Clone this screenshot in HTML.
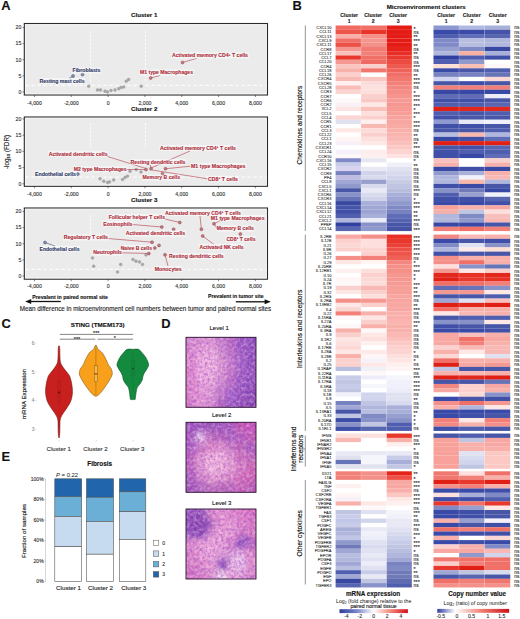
<!DOCTYPE html>
<html><head><meta charset="utf-8"><title>Figure</title>
<style>html,body{margin:0;padding:0;background:#fff;} svg{display:block;} text{font-family:"Liberation Sans", sans-serif;}</style>
</head><body>
<svg width="520" height="619" viewBox="0 0 520 619" font-family='"Liberation Sans", sans-serif'>
<rect x="0" y="0" width="520" height="619" fill="#ffffff"/>
<text x="1.20" y="10.20" font-size="12.9" font-weight="bold" text-anchor="start" fill="#111"  stroke="#111" stroke-width="0.12">A</text>
<text x="292.50" y="10.40" font-size="12.9" font-weight="bold" text-anchor="start" fill="#111"  stroke="#111" stroke-width="0.12">B</text>
<text x="1.50" y="328.40" font-size="12.9" font-weight="bold" text-anchor="start" fill="#111"  stroke="#111" stroke-width="0.12">C</text>
<text x="161.20" y="328.40" font-size="12.9" font-weight="bold" text-anchor="start" fill="#111"  stroke="#111" stroke-width="0.12">D</text>
<text x="1.50" y="461.40" font-size="12.9" font-weight="bold" text-anchor="start" fill="#111"  stroke="#111" stroke-width="0.12">E</text>
<text x="144.20" y="17.00" font-size="6.15" font-weight="bold" text-anchor="middle" fill="#111"  stroke="#111" stroke-width="0.12">Cluster 1</text>
<rect x="24.30" y="23.50" width="243.20" height="71.50" fill="#ebebeb" stroke="#2a2a2a" stroke-width="1.1"/>
<rect x="25.50" y="24.70" width="240.80" height="69.10" fill="none" stroke="#ffffff" stroke-width="0.9" opacity="0.55"/>
<line x1="25.30" y1="85.30" x2="266.50" y2="85.30" stroke="#ffffff" stroke-width="1.2" stroke-dasharray="3.5,2.5" opacity="0.8"/>
<line x1="90.60" y1="31.00" x2="90.60" y2="82.00" stroke="#ffffff" stroke-width="1.0" stroke-dasharray="2.5,1.5" opacity="0.8"/>
<line x1="145.50" y1="31.00" x2="145.50" y2="82.00" stroke="#ffffff" stroke-width="1.0" stroke-dasharray="2.5,1.5" opacity="0.8"/>
<line x1="22.50" y1="91.90" x2="24.30" y2="91.90" stroke="#333" stroke-width="0.6" />
<text x="21.30" y="93.70" font-size="5.2" font-weight="normal" text-anchor="end" fill="#333"  stroke="#333" stroke-width="0.12">0</text>
<line x1="22.50" y1="75.80" x2="24.30" y2="75.80" stroke="#333" stroke-width="0.6" />
<text x="21.30" y="77.60" font-size="5.2" font-weight="normal" text-anchor="end" fill="#333"  stroke="#333" stroke-width="0.12">5</text>
<line x1="22.50" y1="59.70" x2="24.30" y2="59.70" stroke="#333" stroke-width="0.6" />
<text x="21.30" y="61.50" font-size="5.2" font-weight="normal" text-anchor="end" fill="#333"  stroke="#333" stroke-width="0.12">10</text>
<line x1="22.50" y1="43.60" x2="24.30" y2="43.60" stroke="#333" stroke-width="0.6" />
<text x="21.30" y="45.40" font-size="5.2" font-weight="normal" text-anchor="end" fill="#333"  stroke="#333" stroke-width="0.12">15</text>
<line x1="22.50" y1="27.50" x2="24.30" y2="27.50" stroke="#333" stroke-width="0.6" />
<text x="21.30" y="29.30" font-size="5.2" font-weight="normal" text-anchor="end" fill="#333"  stroke="#333" stroke-width="0.12">20</text>
<line x1="34.46" y1="95.00" x2="34.46" y2="97.00" stroke="#333" stroke-width="0.6" />
<text x="34.46" y="104.50" font-size="5.2" font-weight="normal" text-anchor="middle" fill="#333"  stroke="#333" stroke-width="0.12">-4,000</text>
<line x1="71.28" y1="95.00" x2="71.28" y2="97.00" stroke="#333" stroke-width="0.6" />
<text x="71.28" y="104.50" font-size="5.2" font-weight="normal" text-anchor="middle" fill="#333"  stroke="#333" stroke-width="0.12">-2,000</text>
<line x1="108.10" y1="95.00" x2="108.10" y2="97.00" stroke="#333" stroke-width="0.6" />
<text x="108.10" y="104.50" font-size="5.2" font-weight="normal" text-anchor="middle" fill="#333"  stroke="#333" stroke-width="0.12">0</text>
<line x1="144.92" y1="95.00" x2="144.92" y2="97.00" stroke="#333" stroke-width="0.6" />
<text x="144.92" y="104.50" font-size="5.2" font-weight="normal" text-anchor="middle" fill="#333"  stroke="#333" stroke-width="0.12">2,000</text>
<line x1="181.74" y1="95.00" x2="181.74" y2="97.00" stroke="#333" stroke-width="0.6" />
<text x="181.74" y="104.50" font-size="5.2" font-weight="normal" text-anchor="middle" fill="#333"  stroke="#333" stroke-width="0.12">4,000</text>
<line x1="218.56" y1="95.00" x2="218.56" y2="97.00" stroke="#333" stroke-width="0.6" />
<text x="218.56" y="104.50" font-size="5.2" font-weight="normal" text-anchor="middle" fill="#333"  stroke="#333" stroke-width="0.12">6,000</text>
<line x1="255.38" y1="95.00" x2="255.38" y2="97.00" stroke="#333" stroke-width="0.6" />
<text x="255.38" y="104.50" font-size="5.2" font-weight="normal" text-anchor="middle" fill="#333"  stroke="#333" stroke-width="0.12">8,000</text>
<text x="144.20" y="111.20" font-size="6.15" font-weight="bold" text-anchor="middle" fill="#111"  stroke="#111" stroke-width="0.12">Cluster 2</text>
<rect x="24.30" y="117.00" width="243.20" height="69.30" fill="#ebebeb" stroke="#2a2a2a" stroke-width="1.1"/>
<rect x="25.50" y="118.20" width="240.80" height="66.90" fill="none" stroke="#ffffff" stroke-width="0.9" opacity="0.55"/>
<line x1="25.30" y1="177.16" x2="266.50" y2="177.16" stroke="#ffffff" stroke-width="1.2" stroke-dasharray="3.5,2.5" opacity="0.8"/>
<line x1="90.60" y1="123.00" x2="90.60" y2="148.00" stroke="#ffffff" stroke-width="1.0" stroke-dasharray="2.5,1.5" opacity="0.8"/>
<line x1="145.50" y1="123.00" x2="145.50" y2="148.00" stroke="#ffffff" stroke-width="1.0" stroke-dasharray="2.5,1.5" opacity="0.8"/>
<line x1="22.50" y1="183.80" x2="24.30" y2="183.80" stroke="#333" stroke-width="0.6" />
<text x="21.30" y="185.60" font-size="5.2" font-weight="normal" text-anchor="end" fill="#333"  stroke="#333" stroke-width="0.12">0</text>
<line x1="22.50" y1="167.60" x2="24.30" y2="167.60" stroke="#333" stroke-width="0.6" />
<text x="21.30" y="169.40" font-size="5.2" font-weight="normal" text-anchor="end" fill="#333"  stroke="#333" stroke-width="0.12">5</text>
<line x1="22.50" y1="151.40" x2="24.30" y2="151.40" stroke="#333" stroke-width="0.6" />
<text x="21.30" y="153.20" font-size="5.2" font-weight="normal" text-anchor="end" fill="#333"  stroke="#333" stroke-width="0.12">10</text>
<line x1="22.50" y1="135.20" x2="24.30" y2="135.20" stroke="#333" stroke-width="0.6" />
<text x="21.30" y="137.00" font-size="5.2" font-weight="normal" text-anchor="end" fill="#333"  stroke="#333" stroke-width="0.12">15</text>
<line x1="22.50" y1="119.00" x2="24.30" y2="119.00" stroke="#333" stroke-width="0.6" />
<text x="21.30" y="120.80" font-size="5.2" font-weight="normal" text-anchor="end" fill="#333"  stroke="#333" stroke-width="0.12">20</text>
<line x1="34.46" y1="186.30" x2="34.46" y2="188.30" stroke="#333" stroke-width="0.6" />
<text x="34.46" y="195.50" font-size="5.2" font-weight="normal" text-anchor="middle" fill="#333"  stroke="#333" stroke-width="0.12">-4,000</text>
<line x1="71.28" y1="186.30" x2="71.28" y2="188.30" stroke="#333" stroke-width="0.6" />
<text x="71.28" y="195.50" font-size="5.2" font-weight="normal" text-anchor="middle" fill="#333"  stroke="#333" stroke-width="0.12">-2,000</text>
<line x1="108.10" y1="186.30" x2="108.10" y2="188.30" stroke="#333" stroke-width="0.6" />
<text x="108.10" y="195.50" font-size="5.2" font-weight="normal" text-anchor="middle" fill="#333"  stroke="#333" stroke-width="0.12">0</text>
<line x1="144.92" y1="186.30" x2="144.92" y2="188.30" stroke="#333" stroke-width="0.6" />
<text x="144.92" y="195.50" font-size="5.2" font-weight="normal" text-anchor="middle" fill="#333"  stroke="#333" stroke-width="0.12">2,000</text>
<line x1="181.74" y1="186.30" x2="181.74" y2="188.30" stroke="#333" stroke-width="0.6" />
<text x="181.74" y="195.50" font-size="5.2" font-weight="normal" text-anchor="middle" fill="#333"  stroke="#333" stroke-width="0.12">4,000</text>
<line x1="218.56" y1="186.30" x2="218.56" y2="188.30" stroke="#333" stroke-width="0.6" />
<text x="218.56" y="195.50" font-size="5.2" font-weight="normal" text-anchor="middle" fill="#333"  stroke="#333" stroke-width="0.12">6,000</text>
<line x1="255.38" y1="186.30" x2="255.38" y2="188.30" stroke="#333" stroke-width="0.6" />
<text x="255.38" y="195.50" font-size="5.2" font-weight="normal" text-anchor="middle" fill="#333"  stroke="#333" stroke-width="0.12">8,000</text>
<text x="144.20" y="202.10" font-size="6.15" font-weight="bold" text-anchor="middle" fill="#111"  stroke="#111" stroke-width="0.12">Cluster 3</text>
<rect x="24.30" y="208.00" width="243.20" height="71.20" fill="#ebebeb" stroke="#2a2a2a" stroke-width="1.1"/>
<rect x="25.50" y="209.20" width="240.80" height="68.80" fill="none" stroke="#ffffff" stroke-width="0.9" opacity="0.55"/>
<line x1="25.30" y1="269.39" x2="266.50" y2="269.39" stroke="#ffffff" stroke-width="1.2" stroke-dasharray="3.5,2.5" opacity="0.8"/>
<line x1="90.60" y1="215.00" x2="90.60" y2="234.00" stroke="#ffffff" stroke-width="1.0" stroke-dasharray="2.5,1.5" opacity="0.8"/>
<line x1="22.50" y1="276.00" x2="24.30" y2="276.00" stroke="#333" stroke-width="0.6" />
<text x="21.30" y="277.80" font-size="5.2" font-weight="normal" text-anchor="end" fill="#333"  stroke="#333" stroke-width="0.12">0</text>
<line x1="22.50" y1="259.88" x2="24.30" y2="259.88" stroke="#333" stroke-width="0.6" />
<text x="21.30" y="261.68" font-size="5.2" font-weight="normal" text-anchor="end" fill="#333"  stroke="#333" stroke-width="0.12">5</text>
<line x1="22.50" y1="243.75" x2="24.30" y2="243.75" stroke="#333" stroke-width="0.6" />
<text x="21.30" y="245.55" font-size="5.2" font-weight="normal" text-anchor="end" fill="#333"  stroke="#333" stroke-width="0.12">10</text>
<line x1="22.50" y1="227.62" x2="24.30" y2="227.62" stroke="#333" stroke-width="0.6" />
<text x="21.30" y="229.43" font-size="5.2" font-weight="normal" text-anchor="end" fill="#333"  stroke="#333" stroke-width="0.12">15</text>
<line x1="22.50" y1="211.50" x2="24.30" y2="211.50" stroke="#333" stroke-width="0.6" />
<text x="21.30" y="213.30" font-size="5.2" font-weight="normal" text-anchor="end" fill="#333"  stroke="#333" stroke-width="0.12">20</text>
<line x1="34.46" y1="279.20" x2="34.46" y2="281.20" stroke="#333" stroke-width="0.6" />
<text x="34.46" y="287.50" font-size="5.2" font-weight="normal" text-anchor="middle" fill="#333"  stroke="#333" stroke-width="0.12">-4,000</text>
<line x1="71.28" y1="279.20" x2="71.28" y2="281.20" stroke="#333" stroke-width="0.6" />
<text x="71.28" y="287.50" font-size="5.2" font-weight="normal" text-anchor="middle" fill="#333"  stroke="#333" stroke-width="0.12">-2,000</text>
<line x1="108.10" y1="279.20" x2="108.10" y2="281.20" stroke="#333" stroke-width="0.6" />
<text x="108.10" y="287.50" font-size="5.2" font-weight="normal" text-anchor="middle" fill="#333"  stroke="#333" stroke-width="0.12">0</text>
<line x1="144.92" y1="279.20" x2="144.92" y2="281.20" stroke="#333" stroke-width="0.6" />
<text x="144.92" y="287.50" font-size="5.2" font-weight="normal" text-anchor="middle" fill="#333"  stroke="#333" stroke-width="0.12">2,000</text>
<line x1="181.74" y1="279.20" x2="181.74" y2="281.20" stroke="#333" stroke-width="0.6" />
<text x="181.74" y="287.50" font-size="5.2" font-weight="normal" text-anchor="middle" fill="#333"  stroke="#333" stroke-width="0.12">4,000</text>
<line x1="218.56" y1="279.20" x2="218.56" y2="281.20" stroke="#333" stroke-width="0.6" />
<text x="218.56" y="287.50" font-size="5.2" font-weight="normal" text-anchor="middle" fill="#333"  stroke="#333" stroke-width="0.12">6,000</text>
<line x1="255.38" y1="279.20" x2="255.38" y2="281.20" stroke="#333" stroke-width="0.6" />
<text x="255.38" y="287.50" font-size="5.2" font-weight="normal" text-anchor="middle" fill="#333"  stroke="#333" stroke-width="0.12">8,000</text>
<text transform="translate(8.6,152) rotate(-90)" font-size="6.3" text-anchor="middle" fill="#111" stroke="#111" stroke-width="0.12">-log<tspan font-size="4.2" dy="1.5">10</tspan><tspan dy="-1.5"> (FDR)</tspan></text>
<circle cx="88.70" cy="86.30" r="1.45" fill="#a9a9a9" stroke="#8c8c8c" stroke-width="0.3"/>
<circle cx="97.50" cy="90.00" r="1.45" fill="#a9a9a9" stroke="#8c8c8c" stroke-width="0.3"/>
<circle cx="100.50" cy="90.00" r="1.45" fill="#a9a9a9" stroke="#8c8c8c" stroke-width="0.3"/>
<circle cx="105.00" cy="91.20" r="1.45" fill="#a9a9a9" stroke="#8c8c8c" stroke-width="0.3"/>
<circle cx="107.50" cy="92.00" r="1.45" fill="#a9a9a9" stroke="#8c8c8c" stroke-width="0.3"/>
<circle cx="111.00" cy="90.50" r="1.45" fill="#a9a9a9" stroke="#8c8c8c" stroke-width="0.3"/>
<circle cx="115.00" cy="90.00" r="1.45" fill="#a9a9a9" stroke="#8c8c8c" stroke-width="0.3"/>
<circle cx="118.70" cy="88.70" r="1.45" fill="#a9a9a9" stroke="#8c8c8c" stroke-width="0.3"/>
<circle cx="121.20" cy="87.50" r="1.45" fill="#a9a9a9" stroke="#8c8c8c" stroke-width="0.3"/>
<circle cx="123.70" cy="87.00" r="1.45" fill="#a9a9a9" stroke="#8c8c8c" stroke-width="0.3"/>
<circle cx="126.20" cy="81.20" r="1.45" fill="#a9a9a9" stroke="#8c8c8c" stroke-width="0.3"/>
<circle cx="128.70" cy="79.50" r="1.45" fill="#a9a9a9" stroke="#8c8c8c" stroke-width="0.3"/>
<circle cx="141.20" cy="86.20" r="1.45" fill="#a9a9a9" stroke="#8c8c8c" stroke-width="0.3"/>
<line x1="68.80" y1="78.50" x2="73.00" y2="76.20" stroke="#2c3766" stroke-width="0.55" />
<line x1="150.70" y1="78.00" x2="160.00" y2="75.50" stroke="#ae2a38" stroke-width="0.55" />
<line x1="182.50" y1="62.50" x2="197.00" y2="58.20" stroke="#ae2a38" stroke-width="0.55" />
<circle cx="73.00" cy="76.00" r="1.5" fill="#8890a8" stroke="#36406c" stroke-width="0.45"/>
<circle cx="82.50" cy="74.50" r="1.5" fill="#8890a8" stroke="#36406c" stroke-width="0.45"/>
<circle cx="150.70" cy="78.00" r="1.5" fill="#b08088" stroke="#a8323e" stroke-width="0.45"/>
<circle cx="182.50" cy="62.50" r="1.5" fill="#b08088" stroke="#a8323e" stroke-width="0.45"/>
<rect x="71.70" y="67.50" width="29.60" height="6" fill="#ffffff" opacity="0.5" rx="1"/>
<text x="72.50" y="72.40" font-size="5.2" font-weight="bold" fill="#2c3766" stroke="#2c3766" stroke-width="0.1" textLength="28.00" lengthAdjust="spacingAndGlyphs">Fibroblasts</text>
<rect x="38.70" y="78.00" width="46.60" height="6" fill="#ffffff" opacity="0.5" rx="1"/>
<text x="39.50" y="82.90" font-size="5.2" font-weight="bold" fill="#2c3766" stroke="#2c3766" stroke-width="0.1" textLength="45.00" lengthAdjust="spacingAndGlyphs">Resting mast cells</text>
<rect x="139.20" y="69.50" width="54.60" height="6" fill="#ffffff" opacity="0.5" rx="1"/>
<text x="140.00" y="74.40" font-size="5.2" font-weight="bold" fill="#ae2a38" stroke="#ae2a38" stroke-width="0.1" textLength="53.00" lengthAdjust="spacingAndGlyphs">M1 type Macrophages</text>
<rect x="171.20" y="52.50" width="77.60" height="6" fill="#ffffff" opacity="0.5" rx="1"/>
<text x="172.00" y="57.40" font-size="5.2" font-weight="bold" fill="#ae2a38" stroke="#ae2a38" stroke-width="0.1" textLength="76.00" lengthAdjust="spacingAndGlyphs">Activated memory CD4<tspan font-size="3.4" dy="-1.6">+</tspan><tspan dy="1.6"> T cells</tspan></text>
<circle cx="100.00" cy="178.70" r="1.45" fill="#a9a9a9" stroke="#8c8c8c" stroke-width="0.3"/>
<circle cx="103.70" cy="181.20" r="1.45" fill="#a9a9a9" stroke="#8c8c8c" stroke-width="0.3"/>
<circle cx="107.50" cy="182.50" r="1.45" fill="#a9a9a9" stroke="#8c8c8c" stroke-width="0.3"/>
<circle cx="109.50" cy="182.00" r="1.45" fill="#a9a9a9" stroke="#8c8c8c" stroke-width="0.3"/>
<circle cx="113.70" cy="180.00" r="1.45" fill="#a9a9a9" stroke="#8c8c8c" stroke-width="0.3"/>
<circle cx="122.50" cy="179.50" r="1.45" fill="#a9a9a9" stroke="#8c8c8c" stroke-width="0.3"/>
<circle cx="125.00" cy="177.50" r="1.45" fill="#a9a9a9" stroke="#8c8c8c" stroke-width="0.3"/>
<circle cx="127.50" cy="176.20" r="1.45" fill="#a9a9a9" stroke="#8c8c8c" stroke-width="0.3"/>
<circle cx="130.00" cy="171.20" r="1.45" fill="#a9a9a9" stroke="#8c8c8c" stroke-width="0.3"/>
<circle cx="136.20" cy="169.50" r="1.45" fill="#a9a9a9" stroke="#8c8c8c" stroke-width="0.3"/>
<circle cx="141.00" cy="172.00" r="1.45" fill="#a9a9a9" stroke="#8c8c8c" stroke-width="0.3"/>
<line x1="107.50" y1="156.50" x2="146.00" y2="168.50" stroke="#ae2a38" stroke-width="0.55" />
<line x1="190.00" y1="151.00" x2="151.00" y2="168.00" stroke="#ae2a38" stroke-width="0.55" />
<line x1="190.50" y1="166.20" x2="166.00" y2="168.70" stroke="#ae2a38" stroke-width="0.55" />
<line x1="207.50" y1="178.80" x2="152.00" y2="170.00" stroke="#ae2a38" stroke-width="0.55" />
<line x1="126.80" y1="169.50" x2="146.00" y2="169.50" stroke="#ae2a38" stroke-width="0.55" />
<line x1="150.00" y1="164.50" x2="151.00" y2="167.50" stroke="#ae2a38" stroke-width="0.55" />
<line x1="162.50" y1="173.70" x2="165.00" y2="176.00" stroke="#ae2a38" stroke-width="0.55" />
<circle cx="146.00" cy="169.50" r="1.5" fill="#b08088" stroke="#a8323e" stroke-width="0.45"/>
<circle cx="151.00" cy="168.70" r="1.5" fill="#b08088" stroke="#a8323e" stroke-width="0.45"/>
<circle cx="165.50" cy="168.70" r="1.5" fill="#b08088" stroke="#a8323e" stroke-width="0.45"/>
<circle cx="162.50" cy="173.70" r="1.5" fill="#b08088" stroke="#a8323e" stroke-width="0.45"/>
<circle cx="77.80" cy="174.00" r="1.5" fill="#8890a8" stroke="#36406c" stroke-width="0.45"/>
<rect x="47.90" y="150.70" width="60.40" height="6" fill="#ffffff" opacity="0.5" rx="1"/>
<text x="48.70" y="155.60" font-size="5.2" font-weight="bold" fill="#ae2a38" stroke="#ae2a38" stroke-width="0.1" textLength="58.80" lengthAdjust="spacingAndGlyphs">Activated dendritic cells</text>
<rect x="72.90" y="166.20" width="54.60" height="6" fill="#ffffff" opacity="0.5" rx="1"/>
<text x="73.70" y="171.10" font-size="5.2" font-weight="bold" fill="#ae2a38" stroke="#ae2a38" stroke-width="0.1" textLength="53.00" lengthAdjust="spacingAndGlyphs">M2 type Macrophages</text>
<rect x="34.20" y="170.70" width="42.60" height="6" fill="#ffffff" opacity="0.5" rx="1"/>
<text x="35.00" y="175.60" font-size="5.2" font-weight="bold" fill="#2c3766" stroke="#2c3766" stroke-width="0.1" textLength="41.00" lengthAdjust="spacingAndGlyphs">Endothelial cells</text>
<rect x="159.20" y="145.00" width="77.60" height="6" fill="#ffffff" opacity="0.5" rx="1"/>
<text x="160.00" y="149.90" font-size="5.2" font-weight="bold" fill="#ae2a38" stroke="#ae2a38" stroke-width="0.1" textLength="76.00" lengthAdjust="spacingAndGlyphs">Activated memory CD4<tspan font-size="3.4" dy="-1.6">+</tspan><tspan dy="1.6"> T cells</tspan></text>
<rect x="129.70" y="159.00" width="56.60" height="6" fill="#ffffff" opacity="0.5" rx="1"/>
<text x="130.50" y="163.90" font-size="5.2" font-weight="bold" fill="#ae2a38" stroke="#ae2a38" stroke-width="0.1" textLength="55.00" lengthAdjust="spacingAndGlyphs">Resting dendritic cells</text>
<rect x="190.20" y="163.00" width="56.10" height="6" fill="#ffffff" opacity="0.5" rx="1"/>
<text x="191.00" y="167.90" font-size="5.2" font-weight="bold" fill="#ae2a38" stroke="#ae2a38" stroke-width="0.1" textLength="54.50" lengthAdjust="spacingAndGlyphs">M1 type Macrophages</text>
<rect x="141.70" y="174.50" width="39.10" height="6" fill="#ffffff" opacity="0.5" rx="1"/>
<text x="142.50" y="179.40" font-size="5.2" font-weight="bold" fill="#ae2a38" stroke="#ae2a38" stroke-width="0.1" textLength="37.50" lengthAdjust="spacingAndGlyphs">Memory B cells</text>
<rect x="207.20" y="175.70" width="31.60" height="6" fill="#ffffff" opacity="0.5" rx="1"/>
<text x="208.00" y="180.60" font-size="5.2" font-weight="bold" fill="#ae2a38" stroke="#ae2a38" stroke-width="0.1" textLength="30.00" lengthAdjust="spacingAndGlyphs">CD8<tspan font-size="3.4" dy="-1.6">+</tspan><tspan dy="1.6"> T cells</tspan></text>
<circle cx="92.50" cy="258.00" r="1.45" fill="#a9a9a9" stroke="#8c8c8c" stroke-width="0.3"/>
<circle cx="93.70" cy="266.20" r="1.45" fill="#a9a9a9" stroke="#8c8c8c" stroke-width="0.3"/>
<circle cx="120.70" cy="264.50" r="1.45" fill="#a9a9a9" stroke="#8c8c8c" stroke-width="0.3"/>
<circle cx="117.50" cy="272.00" r="1.45" fill="#a9a9a9" stroke="#8c8c8c" stroke-width="0.3"/>
<circle cx="133.00" cy="259.50" r="1.45" fill="#a9a9a9" stroke="#8c8c8c" stroke-width="0.3"/>
<circle cx="136.00" cy="261.20" r="1.45" fill="#a9a9a9" stroke="#8c8c8c" stroke-width="0.3"/>
<circle cx="139.50" cy="262.00" r="1.45" fill="#a9a9a9" stroke="#8c8c8c" stroke-width="0.3"/>
<circle cx="142.50" cy="264.50" r="1.45" fill="#a9a9a9" stroke="#8c8c8c" stroke-width="0.3"/>
<circle cx="146.00" cy="255.00" r="1.45" fill="#a9a9a9" stroke="#8c8c8c" stroke-width="0.3"/>
<line x1="45.00" y1="242.50" x2="55.00" y2="246.00" stroke="#2c3766" stroke-width="0.55" />
<line x1="165.00" y1="219.00" x2="179.80" y2="222.50" stroke="#ae2a38" stroke-width="0.55" />
<line x1="132.50" y1="224.50" x2="161.80" y2="227.00" stroke="#ae2a38" stroke-width="0.55" />
<line x1="108.00" y1="238.50" x2="152.00" y2="242.20" stroke="#ae2a38" stroke-width="0.55" />
<line x1="122.00" y1="252.80" x2="148.80" y2="253.50" stroke="#ae2a38" stroke-width="0.55" />
<line x1="202.70" y1="236.00" x2="214.00" y2="244.50" stroke="#ae2a38" stroke-width="0.55" />
<line x1="165.00" y1="254.80" x2="168.00" y2="266.00" stroke="#ae2a38" stroke-width="0.55" />
<line x1="201.40" y1="229.20" x2="200.00" y2="216.00" stroke="#ae2a38" stroke-width="0.55" />
<line x1="214.00" y1="223.80" x2="222.00" y2="219.50" stroke="#ae2a38" stroke-width="0.55" />
<line x1="240.40" y1="234.00" x2="240.00" y2="237.00" stroke="#ae2a38" stroke-width="0.55" />
<line x1="214.00" y1="223.80" x2="217.00" y2="228.40" stroke="#ae2a38" stroke-width="0.55" />
<circle cx="179.80" cy="222.50" r="1.5" fill="#b08088" stroke="#a8323e" stroke-width="0.45"/>
<circle cx="161.80" cy="227.00" r="1.5" fill="#b08088" stroke="#a8323e" stroke-width="0.45"/>
<circle cx="173.60" cy="229.20" r="1.5" fill="#b08088" stroke="#a8323e" stroke-width="0.45"/>
<circle cx="201.40" cy="229.20" r="1.5" fill="#b08088" stroke="#a8323e" stroke-width="0.45"/>
<circle cx="214.00" cy="223.80" r="1.5" fill="#b08088" stroke="#a8323e" stroke-width="0.45"/>
<circle cx="202.70" cy="236.00" r="1.5" fill="#b08088" stroke="#a8323e" stroke-width="0.45"/>
<circle cx="240.40" cy="234.00" r="1.5" fill="#b08088" stroke="#a8323e" stroke-width="0.45"/>
<circle cx="152.00" cy="242.20" r="1.5" fill="#b08088" stroke="#a8323e" stroke-width="0.45"/>
<circle cx="159.00" cy="245.40" r="1.5" fill="#b08088" stroke="#a8323e" stroke-width="0.45"/>
<circle cx="154.80" cy="248.00" r="1.5" fill="#b08088" stroke="#a8323e" stroke-width="0.45"/>
<circle cx="165.00" cy="254.80" r="1.5" fill="#b08088" stroke="#a8323e" stroke-width="0.45"/>
<circle cx="148.80" cy="253.50" r="1.5" fill="#b08088" stroke="#a8323e" stroke-width="0.45"/>
<circle cx="45.00" cy="242.50" r="1.5" fill="#8890a8" stroke="#36406c" stroke-width="0.45"/>
<rect x="164.20" y="210.00" width="77.60" height="6" fill="#ffffff" opacity="0.5" rx="1"/>
<text x="165.00" y="214.90" font-size="5.2" font-weight="bold" fill="#ae2a38" stroke="#ae2a38" stroke-width="0.1" textLength="76.00" lengthAdjust="spacingAndGlyphs">Activated memory CD4<tspan font-size="3.4" dy="-1.6">+</tspan><tspan dy="1.6"> T cells</tspan></text>
<rect x="210.00" y="214.70" width="55.40" height="6" fill="#ffffff" opacity="0.5" rx="1"/>
<text x="210.80" y="219.60" font-size="5.2" font-weight="bold" fill="#ae2a38" stroke="#ae2a38" stroke-width="0.1" textLength="53.80" lengthAdjust="spacingAndGlyphs">M1 type Macrophages</text>
<rect x="107.90" y="214.00" width="57.90" height="6" fill="#ffffff" opacity="0.5" rx="1"/>
<text x="108.70" y="218.90" font-size="5.2" font-weight="bold" fill="#ae2a38" stroke="#ae2a38" stroke-width="0.1" textLength="56.30" lengthAdjust="spacingAndGlyphs">Follicular helper T cells</text>
<rect x="102.40" y="220.70" width="30.90" height="6" fill="#ffffff" opacity="0.5" rx="1"/>
<text x="103.20" y="225.60" font-size="5.2" font-weight="bold" fill="#ae2a38" stroke="#ae2a38" stroke-width="0.1" textLength="29.30" lengthAdjust="spacingAndGlyphs">Eosinophils</text>
<rect x="215.90" y="225.40" width="38.80" height="6" fill="#ffffff" opacity="0.5" rx="1"/>
<text x="216.70" y="230.30" font-size="5.2" font-weight="bold" fill="#ae2a38" stroke="#ae2a38" stroke-width="0.1" textLength="37.20" lengthAdjust="spacingAndGlyphs">Memory B cells</text>
<rect x="124.90" y="230.50" width="61.10" height="6" fill="#ffffff" opacity="0.5" rx="1"/>
<text x="125.70" y="235.40" font-size="5.2" font-weight="bold" fill="#ae2a38" stroke="#ae2a38" stroke-width="0.1" textLength="59.50" lengthAdjust="spacingAndGlyphs">Activated dendritic cells</text>
<rect x="62.90" y="234.50" width="45.90" height="6" fill="#ffffff" opacity="0.5" rx="1"/>
<text x="63.70" y="239.40" font-size="5.2" font-weight="bold" fill="#ae2a38" stroke="#ae2a38" stroke-width="0.1" textLength="44.30" lengthAdjust="spacingAndGlyphs">Regulatory T cells</text>
<rect x="225.60" y="235.70" width="30.70" height="6" fill="#ffffff" opacity="0.5" rx="1"/>
<text x="226.40" y="240.60" font-size="5.2" font-weight="bold" fill="#ae2a38" stroke="#ae2a38" stroke-width="0.1" textLength="29.10" lengthAdjust="spacingAndGlyphs">CD8<tspan font-size="3.4" dy="-1.6">+</tspan><tspan dy="1.6"> T cells</tspan></text>
<rect x="38.70" y="245.70" width="41.60" height="6" fill="#ffffff" opacity="0.5" rx="1"/>
<text x="39.50" y="250.60" font-size="5.2" font-weight="bold" fill="#2c3766" stroke="#2c3766" stroke-width="0.1" textLength="40.00" lengthAdjust="spacingAndGlyphs">Endothelial cells</text>
<rect x="198.70" y="243.70" width="45.70" height="6" fill="#ffffff" opacity="0.5" rx="1"/>
<text x="199.50" y="248.60" font-size="5.2" font-weight="bold" fill="#ae2a38" stroke="#ae2a38" stroke-width="0.1" textLength="44.10" lengthAdjust="spacingAndGlyphs">Activated NK cells</text>
<rect x="119.90" y="245.00" width="32.90" height="6" fill="#ffffff" opacity="0.5" rx="1"/>
<text x="120.70" y="249.90" font-size="5.2" font-weight="bold" fill="#ae2a38" stroke="#ae2a38" stroke-width="0.1" textLength="31.30" lengthAdjust="spacingAndGlyphs">Naive B cells</text>
<rect x="92.40" y="249.50" width="30.40" height="6" fill="#ffffff" opacity="0.5" rx="1"/>
<text x="93.20" y="254.40" font-size="5.2" font-weight="bold" fill="#ae2a38" stroke="#ae2a38" stroke-width="0.1" textLength="28.80" lengthAdjust="spacingAndGlyphs">Neutrophils</text>
<rect x="168.20" y="253.20" width="56.30" height="6" fill="#ffffff" opacity="0.5" rx="1"/>
<text x="169.00" y="258.10" font-size="5.2" font-weight="bold" fill="#ae2a38" stroke="#ae2a38" stroke-width="0.1" textLength="54.70" lengthAdjust="spacingAndGlyphs">Resting dendritic cells</text>
<rect x="154.00" y="266.00" width="28.50" height="6" fill="#ffffff" opacity="0.5" rx="1"/>
<text x="154.80" y="270.90" font-size="5.2" font-weight="bold" fill="#ae2a38" stroke="#ae2a38" stroke-width="0.1" textLength="26.90" lengthAdjust="spacingAndGlyphs">Monocytes</text>
<text x="32.30" y="298.60" font-size="5.2" font-weight="bold" text-anchor="start" fill="#111" textLength="75.6" lengthAdjust="spacingAndGlyphs" stroke="#111" stroke-width="0.12">Prevalent in paired normal site</text>
<line x1="30.00" y1="301.50" x2="60.80" y2="301.50" stroke="#111" stroke-width="1.3" />
<path d="M25.2,301.5 L31.2,299.0 L31.2,304.0 Z" fill="#111"/>
<text x="208.00" y="298.40" font-size="5.3" font-weight="bold" text-anchor="start" fill="#111" textLength="55.5" lengthAdjust="spacingAndGlyphs" stroke="#111" stroke-width="0.12">Prevalent in tumor site</text>
<line x1="235.80" y1="301.80" x2="265.50" y2="301.80" stroke="#111" stroke-width="1.3" />
<path d="M270.8,301.8 L264.6,299.3 L264.6,304.3 Z" fill="#111"/>
<text x="19.80" y="310.50" font-size="6.28" font-weight="normal" text-anchor="start" fill="#222" textLength="251.4" lengthAdjust="spacingAndGlyphs" stroke="#222" stroke-width="0.12">Mean difference in microenvironment cell numbers between tumor and paired normal sites</text>
<text x="97.70" y="327.00" font-size="6.25" font-weight="bold" text-anchor="middle" fill="#111"  stroke="#111" stroke-width="0.12">STING (TMEM173)</text>
<line x1="59.80" y1="334.40" x2="133.10" y2="334.40" stroke="#333" stroke-width="0.6" />
<line x1="59.80" y1="339.20" x2="95.40" y2="339.20" stroke="#333" stroke-width="0.6" />
<line x1="97.50" y1="339.20" x2="133.10" y2="339.20" stroke="#333" stroke-width="0.6" />
<text x="96.20" y="335.30" font-size="5.4" font-weight="normal" text-anchor="middle" fill="#222"  stroke="#222" stroke-width="0.12">***</text>
<text x="77.00" y="341.00" font-size="5.4" font-weight="normal" text-anchor="middle" fill="#222"  stroke="#222" stroke-width="0.12">***</text>
<text x="114.80" y="339.80" font-size="5.4" font-weight="normal" text-anchor="middle" fill="#222"  stroke="#222" stroke-width="0.12">*</text>
<text x="34.50" y="344.90" font-size="4.8" font-weight="normal" text-anchor="end" fill="#888"  stroke="#888" stroke-width="0.08">6</text>
<line x1="35.20" y1="343.20" x2="36.50" y2="343.20" stroke="#bbb" stroke-width="0.5" />
<text x="34.50" y="373.50" font-size="4.8" font-weight="normal" text-anchor="end" fill="#888"  stroke="#888" stroke-width="0.08">5</text>
<line x1="35.20" y1="371.80" x2="36.50" y2="371.80" stroke="#bbb" stroke-width="0.5" />
<text x="34.50" y="402.20" font-size="4.8" font-weight="normal" text-anchor="end" fill="#888"  stroke="#888" stroke-width="0.08">4</text>
<line x1="35.20" y1="400.50" x2="36.50" y2="400.50" stroke="#bbb" stroke-width="0.5" />
<text x="34.50" y="430.90" font-size="4.8" font-weight="normal" text-anchor="end" fill="#888"  stroke="#888" stroke-width="0.08">3</text>
<line x1="35.20" y1="429.20" x2="36.50" y2="429.20" stroke="#bbb" stroke-width="0.5" />
<text transform="translate(26.3,394) rotate(-90)" font-size="6.2" text-anchor="middle" fill="#111" stroke="#111" stroke-width="0.15">mRNA Expression</text>
<path d="M59.50,346.00 C59.55,346.67 59.73,348.33 59.80,350.00 C59.87,351.67 59.82,354.08 59.90,356.00 C59.98,357.92 60.02,360.00 60.30,361.50 C60.58,363.00 60.93,363.75 61.60,365.00 C62.27,366.25 63.32,367.67 64.30,369.00 C65.28,370.33 66.55,371.67 67.50,373.00 C68.45,374.33 69.27,375.00 70.00,377.00 C70.73,379.00 71.50,382.33 71.90,385.00 C72.30,387.67 72.58,390.33 72.40,393.00 C72.22,395.67 71.70,398.55 70.80,401.00 C69.90,403.45 68.35,405.53 67.00,407.70 C65.65,409.87 63.82,412.12 62.70,414.00 C61.58,415.88 60.77,417.17 60.30,419.00 C59.83,420.83 59.98,422.83 59.90,425.00 C59.82,427.17 59.88,429.90 59.80,432.00 C59.72,434.10 59.47,436.67 59.40,437.60 L58.60,437.60 C58.53,436.67 58.28,434.10 58.20,432.00 C58.12,429.90 58.18,427.17 58.10,425.00 C58.02,422.83 58.17,420.83 57.70,419.00 C57.23,417.17 56.42,415.88 55.30,414.00 C54.18,412.12 52.35,409.87 51.00,407.70 C49.65,405.53 48.10,403.45 47.20,401.00 C46.30,398.55 45.78,395.67 45.60,393.00 C45.42,390.33 45.70,387.67 46.10,385.00 C46.50,382.33 47.27,379.00 48.00,377.00 C48.73,375.00 49.55,374.33 50.50,373.00 C51.45,371.67 52.72,370.33 53.70,369.00 C54.68,367.67 55.73,366.25 56.40,365.00 C57.07,363.75 57.42,363.00 57.70,361.50 C57.98,360.00 58.02,357.92 58.10,356.00 C58.18,354.08 58.13,351.67 58.20,350.00 C58.27,348.33 58.45,346.67 58.50,346.00 Z" fill="#c8201e" stroke="#7a1414" stroke-width="0.6"/>
<path d="M96.30,345.30 C96.42,345.58 96.65,346.27 97.00,347.00 C97.35,347.73 97.55,348.77 98.40,349.70 C99.25,350.63 100.83,350.98 102.10,352.60 C103.37,354.22 104.92,357.30 106.00,359.40 C107.08,361.50 107.72,363.60 108.60,365.20 C109.48,366.80 110.68,367.55 111.30,369.00 C111.92,370.45 112.47,372.28 112.30,373.90 C112.13,375.52 111.12,377.08 110.30,378.70 C109.48,380.32 108.45,381.98 107.40,383.60 C106.35,385.22 105.20,386.80 104.00,388.40 C102.80,390.00 101.27,392.02 100.20,393.20 C99.13,394.38 98.25,395.00 97.60,395.50 C96.95,396.00 96.52,396.08 96.30,396.20 L95.30,396.20 C95.08,396.08 94.65,396.00 94.00,395.50 C93.35,395.00 92.47,394.38 91.40,393.20 C90.33,392.02 88.80,390.00 87.60,388.40 C86.40,386.80 85.25,385.22 84.20,383.60 C83.15,381.98 82.12,380.32 81.30,378.70 C80.48,377.08 79.47,375.52 79.30,373.90 C79.13,372.28 79.68,370.45 80.30,369.00 C80.92,367.55 82.12,366.80 83.00,365.20 C83.88,363.60 84.52,361.50 85.60,359.40 C86.68,357.30 88.23,354.22 89.50,352.60 C90.77,350.98 92.35,350.63 93.20,349.70 C94.05,348.77 94.25,347.73 94.60,347.00 C94.95,346.27 95.18,345.58 95.30,345.30 Z" fill="#f8a01c" stroke="#8a5a10" stroke-width="0.6"/>
<path d="M133.30,349.30 C134.18,349.32 137.15,348.83 138.60,349.40 C140.05,349.97 140.80,351.35 142.00,352.70 C143.20,354.05 144.70,355.57 145.80,357.50 C146.90,359.43 148.35,362.52 148.60,364.30 C148.85,366.08 147.92,366.92 147.30,368.20 C146.68,369.48 145.62,370.72 144.90,372.00 C144.18,373.28 143.43,374.60 143.00,375.90 C142.57,377.20 142.78,378.50 142.30,379.80 C141.82,381.10 140.95,382.42 140.10,383.70 C139.25,384.98 137.88,385.90 137.20,387.50 C136.52,389.10 136.30,391.52 136.00,393.30 C135.70,395.08 135.57,397.17 135.40,398.20 C135.23,399.23 135.35,399.27 135.00,399.50 C134.65,399.73 133.58,399.58 133.30,399.60 L132.30,399.60 C132.02,399.58 130.95,399.73 130.60,399.50 C130.25,399.27 130.37,399.23 130.20,398.20 C130.03,397.17 129.90,395.08 129.60,393.30 C129.30,391.52 129.08,389.10 128.40,387.50 C127.72,385.90 126.35,384.98 125.50,383.70 C124.65,382.42 123.78,381.10 123.30,379.80 C122.82,378.50 123.03,377.20 122.60,375.90 C122.17,374.60 121.42,373.28 120.70,372.00 C119.98,370.72 118.92,369.48 118.30,368.20 C117.68,366.92 116.75,366.08 117.00,364.30 C117.25,362.52 118.70,359.43 119.80,357.50 C120.90,355.57 122.40,354.05 123.60,352.70 C124.80,351.35 125.55,349.97 127.00,349.40 C128.45,348.83 131.42,349.32 132.30,349.30 Z" fill="#138a3e" stroke="#0a5226" stroke-width="0.6"/>
<line x1="59.00" y1="357.00" x2="59.00" y2="428.00" stroke="#7a1515" stroke-width="0.35" opacity="0.5"/>
<rect x="57.6" y="381" width="2.8" height="21" fill="none" stroke="#7a1515" stroke-width="0.35" opacity="0.5"/>
<circle cx="59" cy="392.5" r="0.9" fill="#5a0a0a"/>
<line x1="95.90" y1="347.50" x2="95.90" y2="395.00" stroke="#8a5a08" stroke-width="0.45" />
<rect x="94.4" y="365.7" width="3.1" height="15.9" fill="#f8b848" stroke="#8a5a08" stroke-width="0.45"/>
<line x1="94.40" y1="373.90" x2="97.50" y2="373.90" stroke="#7a2a05" stroke-width="1.0" />
<line x1="133.10" y1="352.00" x2="133.10" y2="392.00" stroke="#0a4a20" stroke-width="0.35" opacity="0.45"/>
<rect x="131.8" y="360" width="2.6" height="16" fill="none" stroke="#0a4a20" stroke-width="0.35" opacity="0.45"/>
<circle cx="133.1" cy="368.5" r="0.8" fill="#0a3a18"/>
<line x1="59.00" y1="440.00" x2="59.00" y2="441.50" stroke="#bbb" stroke-width="0.5" />
<line x1="96.20" y1="440.00" x2="96.20" y2="441.50" stroke="#bbb" stroke-width="0.5" />
<line x1="133.10" y1="440.00" x2="133.10" y2="441.50" stroke="#bbb" stroke-width="0.5" />
<text x="58.80" y="451.20" font-size="6.1" font-weight="normal" text-anchor="middle" fill="#333"  stroke="#333" stroke-width="0.12">Cluster 1</text>
<text x="95.50" y="451.20" font-size="6.1" font-weight="normal" text-anchor="middle" fill="#333"  stroke="#333" stroke-width="0.12">Cluster 2</text>
<text x="132.30" y="451.20" font-size="6.1" font-weight="normal" text-anchor="middle" fill="#333"  stroke="#333" stroke-width="0.12">Cluster 3</text>
<text x="219.20" y="330.20" font-size="6.0" font-weight="normal" text-anchor="middle" fill="#111" stroke="#111" stroke-width="0.12">Level 1</text>
<text x="221.60" y="416.50" font-size="6.0" font-weight="normal" text-anchor="middle" fill="#111" stroke="#111" stroke-width="0.12">Level 2</text>
<text x="221.80" y="504.90" font-size="6.0" font-weight="normal" text-anchor="middle" fill="#111" stroke="#111" stroke-width="0.12">Level 3</text>
<defs><filter id="hb" x="-20%" y="-20%" width="140%" height="140%"><feGaussianBlur stdDeviation="2.3"/></filter><filter id="tx1" x="0" y="0" width="100%" height="100%"><feTurbulence type="fractalNoise" baseFrequency="0.38" numOctaves="3" seed="4"/><feColorMatrix type="matrix" values="0 0 0 0 0.42  0 0 0 0 0.10  0 0 0 0 0.55  2.0 0 0 0 -0.72"/></filter><filter id="tx2" x="0" y="0" width="100%" height="100%"><feTurbulence type="fractalNoise" baseFrequency="0.32" numOctaves="3" seed="11"/><feColorMatrix type="matrix" values="0 0 0 0 1  0 0 0 0 0.84  0 0 0 0 0.96  1.9 0 0 0 -0.72"/></filter></defs>
<clipPath id="hc1"><rect x="186.0" y="337.3" width="70.0" height="70"/></clipPath>
<g clip-path="url(#hc1)">
<rect x="186.0" y="337.3" width="70" height="70" fill="#d8a0dc"/>
<g filter="url(#hb)">
<rect x="178.00" y="329.30" width="18.50" height="18.50" fill="#d88cce"/>
<rect x="196.00" y="329.30" width="10.50" height="18.50" fill="#e094d2"/>
<rect x="206.00" y="329.30" width="10.50" height="18.50" fill="#e09cd6"/>
<rect x="216.00" y="329.30" width="10.50" height="18.50" fill="#c884ca"/>
<rect x="226.00" y="329.30" width="10.50" height="18.50" fill="#b064be"/>
<rect x="236.00" y="329.30" width="10.50" height="18.50" fill="#9050c0"/>
<rect x="246.00" y="329.30" width="18.50" height="18.50" fill="#8446b8"/>
<rect x="178.00" y="347.30" width="18.50" height="10.50" fill="#e08cce"/>
<rect x="196.00" y="347.30" width="10.50" height="10.50" fill="#eca4da"/>
<rect x="206.00" y="347.30" width="10.50" height="10.50" fill="#ecacda"/>
<rect x="216.00" y="347.30" width="10.50" height="10.50" fill="#d490ce"/>
<rect x="226.00" y="347.30" width="10.50" height="10.50" fill="#b86cc2"/>
<rect x="236.00" y="347.30" width="10.50" height="10.50" fill="#9454c0"/>
<rect x="246.00" y="347.30" width="18.50" height="10.50" fill="#8446b8"/>
<rect x="178.00" y="357.30" width="18.50" height="10.50" fill="#e48cce"/>
<rect x="196.00" y="357.30" width="10.50" height="10.50" fill="#f0b0de"/>
<rect x="206.00" y="357.30" width="10.50" height="10.50" fill="#f4b8e2"/>
<rect x="216.00" y="357.30" width="10.50" height="10.50" fill="#e09cd2"/>
<rect x="226.00" y="357.30" width="10.50" height="10.50" fill="#c074c6"/>
<rect x="236.00" y="357.30" width="10.50" height="10.50" fill="#9858c4"/>
<rect x="246.00" y="357.30" width="18.50" height="10.50" fill="#8446b8"/>
<rect x="178.00" y="367.30" width="18.50" height="10.50" fill="#e084ca"/>
<rect x="196.00" y="367.30" width="10.50" height="10.50" fill="#f0acde"/>
<rect x="206.00" y="367.30" width="10.50" height="10.50" fill="#f4b8e2"/>
<rect x="216.00" y="367.30" width="10.50" height="10.50" fill="#e09cd2"/>
<rect x="226.00" y="367.30" width="10.50" height="10.50" fill="#c074c6"/>
<rect x="236.00" y="367.30" width="10.50" height="10.50" fill="#9454c0"/>
<rect x="246.00" y="367.30" width="18.50" height="10.50" fill="#8848b8"/>
<rect x="178.00" y="377.30" width="18.50" height="10.50" fill="#e084ca"/>
<rect x="196.00" y="377.30" width="10.50" height="10.50" fill="#eca4da"/>
<rect x="206.00" y="377.30" width="10.50" height="10.50" fill="#ecacda"/>
<rect x="216.00" y="377.30" width="10.50" height="10.50" fill="#d08cce"/>
<rect x="226.00" y="377.30" width="10.50" height="10.50" fill="#b064be"/>
<rect x="236.00" y="377.30" width="10.50" height="10.50" fill="#9050c0"/>
<rect x="246.00" y="377.30" width="18.50" height="10.50" fill="#8446b8"/>
<rect x="178.00" y="387.30" width="18.50" height="10.50" fill="#e084ca"/>
<rect x="196.00" y="387.30" width="10.50" height="10.50" fill="#e89cd6"/>
<rect x="206.00" y="387.30" width="10.50" height="10.50" fill="#e09cd2"/>
<rect x="216.00" y="387.30" width="10.50" height="10.50" fill="#c074c6"/>
<rect x="226.00" y="387.30" width="10.50" height="10.50" fill="#9c5cc8"/>
<rect x="236.00" y="387.30" width="10.50" height="10.50" fill="#8a4ab8"/>
<rect x="246.00" y="387.30" width="18.50" height="10.50" fill="#8040b0"/>
<rect x="178.00" y="397.30" width="18.50" height="18.50" fill="#d87cc6"/>
<rect x="196.00" y="397.30" width="10.50" height="18.50" fill="#e494d2"/>
<rect x="206.00" y="397.30" width="10.50" height="18.50" fill="#d88cce"/>
<rect x="216.00" y="397.30" width="10.50" height="18.50" fill="#b064be"/>
<rect x="226.00" y="397.30" width="10.50" height="18.50" fill="#9050c0"/>
<rect x="236.00" y="397.30" width="10.50" height="18.50" fill="#8848b8"/>
<rect x="246.00" y="397.30" width="18.50" height="18.50" fill="#7c3cac"/>
</g>
<rect x="186.0" y="337.3" width="70" height="70" filter="url(#tx1)" opacity="0.85"/>
<rect x="186.0" y="337.3" width="70" height="70" filter="url(#tx2)" opacity="0.45"/>
</g>
<rect x="186.0" y="337.3" width="70" height="70" fill="none" stroke="#2a1030" stroke-width="0.9"/>
<clipPath id="hc2"><rect x="186.0" y="422.3" width="70.0" height="70"/></clipPath>
<g clip-path="url(#hc2)">
<rect x="186.0" y="422.3" width="70" height="70" fill="#ecbce6"/>
<g filter="url(#hb)">
<rect x="178.00" y="414.30" width="18.50" height="18.50" fill="#9448b8"/>
<rect x="196.00" y="414.30" width="10.50" height="18.50" fill="#9850b8"/>
<rect x="206.00" y="414.30" width="10.50" height="18.50" fill="#9048b0"/>
<rect x="216.00" y="414.30" width="10.50" height="18.50" fill="#9850b8"/>
<rect x="226.00" y="414.30" width="10.50" height="18.50" fill="#a050b8"/>
<rect x="236.00" y="414.30" width="10.50" height="18.50" fill="#c048a8"/>
<rect x="246.00" y="414.30" width="18.50" height="18.50" fill="#c84ab0"/>
<rect x="178.00" y="432.30" width="18.50" height="10.50" fill="#a050b8"/>
<rect x="196.00" y="432.30" width="10.50" height="10.50" fill="#e8bce6"/>
<rect x="206.00" y="432.30" width="10.50" height="10.50" fill="#b864b6"/>
<rect x="216.00" y="432.30" width="10.50" height="10.50" fill="#b05cb6"/>
<rect x="226.00" y="432.30" width="10.50" height="10.50" fill="#a458bc"/>
<rect x="236.00" y="432.30" width="10.50" height="10.50" fill="#b058b8"/>
<rect x="246.00" y="432.30" width="18.50" height="10.50" fill="#c054ae"/>
<rect x="178.00" y="442.30" width="18.50" height="10.50" fill="#a858c0"/>
<rect x="196.00" y="442.30" width="10.50" height="10.50" fill="#c874be"/>
<rect x="206.00" y="442.30" width="10.50" height="10.50" fill="#e08cc6"/>
<rect x="216.00" y="442.30" width="10.50" height="10.50" fill="#e08cc6"/>
<rect x="226.00" y="442.30" width="10.50" height="10.50" fill="#c874be"/>
<rect x="236.00" y="442.30" width="10.50" height="10.50" fill="#b85cae"/>
<rect x="246.00" y="442.30" width="18.50" height="10.50" fill="#a858b8"/>
<rect x="178.00" y="452.30" width="18.50" height="10.50" fill="#b85cb6"/>
<rect x="196.00" y="452.30" width="10.50" height="10.50" fill="#e094ce"/>
<rect x="206.00" y="452.30" width="10.50" height="10.50" fill="#f2b4da"/>
<rect x="216.00" y="452.30" width="10.50" height="10.50" fill="#f4b8dc"/>
<rect x="226.00" y="452.30" width="10.50" height="10.50" fill="#e498ce"/>
<rect x="236.00" y="452.30" width="10.50" height="10.50" fill="#c86cb6"/>
<rect x="246.00" y="452.30" width="18.50" height="10.50" fill="#c064b6"/>
<rect x="178.00" y="462.30" width="18.50" height="10.50" fill="#b85cb6"/>
<rect x="196.00" y="462.30" width="10.50" height="10.50" fill="#e49cd2"/>
<rect x="206.00" y="462.30" width="10.50" height="10.50" fill="#f7c0e0"/>
<rect x="216.00" y="462.30" width="10.50" height="10.50" fill="#f4b8dc"/>
<rect x="226.00" y="462.30" width="10.50" height="10.50" fill="#e49cce"/>
<rect x="236.00" y="462.30" width="10.50" height="10.50" fill="#d87cbe"/>
<rect x="246.00" y="462.30" width="18.50" height="10.50" fill="#d064ae"/>
<rect x="178.00" y="472.30" width="18.50" height="10.50" fill="#a858b8"/>
<rect x="196.00" y="472.30" width="10.50" height="10.50" fill="#d07cc2"/>
<rect x="206.00" y="472.30" width="10.50" height="10.50" fill="#e8a4d2"/>
<rect x="216.00" y="472.30" width="10.50" height="10.50" fill="#e49cce"/>
<rect x="226.00" y="472.30" width="10.50" height="10.50" fill="#d884c2"/>
<rect x="236.00" y="472.30" width="10.50" height="10.50" fill="#d86cb6"/>
<rect x="246.00" y="472.30" width="18.50" height="10.50" fill="#d05cae"/>
<rect x="178.00" y="482.30" width="18.50" height="18.50" fill="#9850b0"/>
<rect x="196.00" y="482.30" width="10.50" height="18.50" fill="#a860b8"/>
<rect x="206.00" y="482.30" width="10.50" height="18.50" fill="#c06cb6"/>
<rect x="216.00" y="482.30" width="10.50" height="18.50" fill="#b864b6"/>
<rect x="226.00" y="482.30" width="10.50" height="18.50" fill="#b864b6"/>
<rect x="236.00" y="482.30" width="10.50" height="18.50" fill="#c85cae"/>
<rect x="246.00" y="482.30" width="18.50" height="18.50" fill="#b858b0"/>
<ellipse cx="199.0" cy="436.3" rx="3.5" ry="3.5" fill="#e8d0f0"/>
<ellipse cx="250.0" cy="428.3" rx="6" ry="5" fill="#c850b8"/>
</g>
<rect x="186.0" y="422.3" width="70" height="70" filter="url(#tx1)" opacity="0.85"/>
<rect x="186.0" y="422.3" width="70" height="70" filter="url(#tx2)" opacity="0.45"/>
</g>
<rect x="186.0" y="422.3" width="70" height="70" fill="none" stroke="#2a1030" stroke-width="0.9"/>
<clipPath id="hc3"><rect x="186.0" y="509.0" width="70.0" height="70"/></clipPath>
<g clip-path="url(#hc3)">
<rect x="186.0" y="509.0" width="70" height="70" fill="#e0a8e0"/>
<g filter="url(#hb)">
<rect x="178.00" y="501.00" width="18.50" height="18.50" fill="#9050c0"/>
<rect x="196.00" y="501.00" width="10.50" height="18.50" fill="#9858c0"/>
<rect x="206.00" y="501.00" width="10.50" height="18.50" fill="#d884c6"/>
<rect x="216.00" y="501.00" width="10.50" height="18.50" fill="#e894ce"/>
<rect x="226.00" y="501.00" width="10.50" height="18.50" fill="#e084c6"/>
<rect x="236.00" y="501.00" width="10.50" height="18.50" fill="#e07cc6"/>
<rect x="246.00" y="501.00" width="18.50" height="18.50" fill="#d86cbe"/>
<rect x="178.00" y="519.00" width="18.50" height="10.50" fill="#8848b8"/>
<rect x="196.00" y="519.00" width="10.50" height="10.50" fill="#8c4cb8"/>
<rect x="206.00" y="519.00" width="10.50" height="10.50" fill="#b86cbe"/>
<rect x="216.00" y="519.00" width="10.50" height="10.50" fill="#e894ce"/>
<rect x="226.00" y="519.00" width="10.50" height="10.50" fill="#e89cd2"/>
<rect x="236.00" y="519.00" width="10.50" height="10.50" fill="#e084c6"/>
<rect x="246.00" y="519.00" width="18.50" height="10.50" fill="#d874be"/>
<rect x="178.00" y="529.00" width="18.50" height="10.50" fill="#9858c0"/>
<rect x="196.00" y="529.00" width="10.50" height="10.50" fill="#9050c0"/>
<rect x="206.00" y="529.00" width="10.50" height="10.50" fill="#d88cca"/>
<rect x="216.00" y="529.00" width="10.50" height="10.50" fill="#eca4d6"/>
<rect x="226.00" y="529.00" width="10.50" height="10.50" fill="#e89cd2"/>
<rect x="236.00" y="529.00" width="10.50" height="10.50" fill="#c86cbe"/>
<rect x="246.00" y="529.00" width="18.50" height="10.50" fill="#d87cc2"/>
<rect x="178.00" y="539.00" width="18.50" height="10.50" fill="#e08cca"/>
<rect x="196.00" y="539.00" width="10.50" height="10.50" fill="#e89cd2"/>
<rect x="206.00" y="539.00" width="10.50" height="10.50" fill="#f0acda"/>
<rect x="216.00" y="539.00" width="10.50" height="10.50" fill="#e8a4d6"/>
<rect x="226.00" y="539.00" width="10.50" height="10.50" fill="#d07cc6"/>
<rect x="236.00" y="539.00" width="10.50" height="10.50" fill="#9050c0"/>
<rect x="246.00" y="539.00" width="18.50" height="10.50" fill="#b864be"/>
<rect x="178.00" y="549.00" width="18.50" height="10.50" fill="#e084c6"/>
<rect x="196.00" y="549.00" width="10.50" height="10.50" fill="#e89cd2"/>
<rect x="206.00" y="549.00" width="10.50" height="10.50" fill="#f0acda"/>
<rect x="216.00" y="549.00" width="10.50" height="10.50" fill="#e09cd2"/>
<rect x="226.00" y="549.00" width="10.50" height="10.50" fill="#d894ce"/>
<rect x="236.00" y="549.00" width="10.50" height="10.50" fill="#e09cd2"/>
<rect x="246.00" y="549.00" width="18.50" height="10.50" fill="#e08cca"/>
<rect x="178.00" y="559.00" width="18.50" height="10.50" fill="#d87cc2"/>
<rect x="196.00" y="559.00" width="10.50" height="10.50" fill="#e08cca"/>
<rect x="206.00" y="559.00" width="10.50" height="10.50" fill="#e89cd2"/>
<rect x="216.00" y="559.00" width="10.50" height="10.50" fill="#9c60c0"/>
<rect x="226.00" y="559.00" width="10.50" height="10.50" fill="#e4a4d6"/>
<rect x="236.00" y="559.00" width="10.50" height="10.50" fill="#ecb4de"/>
<rect x="246.00" y="559.00" width="18.50" height="10.50" fill="#e08cca"/>
<rect x="178.00" y="569.00" width="18.50" height="18.50" fill="#d06cbe"/>
<rect x="196.00" y="569.00" width="10.50" height="18.50" fill="#d87cc2"/>
<rect x="206.00" y="569.00" width="10.50" height="18.50" fill="#e094ce"/>
<rect x="216.00" y="569.00" width="10.50" height="18.50" fill="#f0cce2"/>
<rect x="226.00" y="569.00" width="10.50" height="18.50" fill="#e8acda"/>
<rect x="236.00" y="569.00" width="10.50" height="18.50" fill="#e4a4d6"/>
<rect x="246.00" y="569.00" width="18.50" height="18.50" fill="#d884c6"/>
<ellipse cx="198.0" cy="524.0" rx="12" ry="13" fill="#7c3cac"/>
<ellipse cx="244.0" cy="541.0" rx="7" ry="4.5" fill="#8848b8" transform="rotate(-30 244.0 541.0)"/>
<ellipse cx="224.0" cy="564.0" rx="4" ry="7" fill="#8848b8"/>
<ellipse cx="220.0" cy="577.0" rx="6" ry="3" fill="#f4e4f4"/>
<ellipse cx="238.0" cy="561.0" rx="8" ry="10" fill="#e8c0e8"/>
</g>
<rect x="186.0" y="509.0" width="70" height="70" filter="url(#tx1)" opacity="0.85"/>
<rect x="186.0" y="509.0" width="70" height="70" filter="url(#tx2)" opacity="0.45"/>
</g>
<rect x="186.0" y="509.0" width="70" height="70" fill="none" stroke="#2a1030" stroke-width="0.9"/>
<text x="99.70" y="466.20" font-size="6.4" font-weight="bold" text-anchor="middle" fill="#111"  stroke="#111" stroke-width="0.12">Fibrosis</text>
<text x="56" y="476.6" font-size="5.9" fill="#222"><tspan font-style="italic">P</tspan> = 0.22</text>
<text transform="translate(25.8,531) rotate(-90)" font-size="6.2" text-anchor="middle" fill="#111" stroke="#111" stroke-width="0.12">Fraction of samples</text>
<line x1="45.50" y1="478.80" x2="45.50" y2="581.70" stroke="#bbb" stroke-width="0.6" />
<text x="43.60" y="583.40" font-size="5.0" font-weight="normal" text-anchor="end" fill="#333"  stroke="#333" stroke-width="0.12">0%</text>
<line x1="44.30" y1="581.70" x2="45.50" y2="581.70" stroke="#999" stroke-width="0.5" />
<text x="43.60" y="562.82" font-size="5.0" font-weight="normal" text-anchor="end" fill="#333"  stroke="#333" stroke-width="0.12">20%</text>
<line x1="44.30" y1="561.12" x2="45.50" y2="561.12" stroke="#999" stroke-width="0.5" />
<text x="43.60" y="542.24" font-size="5.0" font-weight="normal" text-anchor="end" fill="#333"  stroke="#333" stroke-width="0.12">40%</text>
<line x1="44.30" y1="540.54" x2="45.50" y2="540.54" stroke="#999" stroke-width="0.5" />
<text x="43.60" y="521.66" font-size="5.0" font-weight="normal" text-anchor="end" fill="#333"  stroke="#333" stroke-width="0.12">60%</text>
<line x1="44.30" y1="519.96" x2="45.50" y2="519.96" stroke="#999" stroke-width="0.5" />
<text x="43.60" y="501.08" font-size="5.0" font-weight="normal" text-anchor="end" fill="#333"  stroke="#333" stroke-width="0.12">80%</text>
<line x1="44.30" y1="499.38" x2="45.50" y2="499.38" stroke="#999" stroke-width="0.5" />
<text x="43.60" y="480.50" font-size="5.0" font-weight="normal" text-anchor="end" fill="#333"  stroke="#333" stroke-width="0.12">100%</text>
<line x1="44.30" y1="478.80" x2="45.50" y2="478.80" stroke="#999" stroke-width="0.5" />
<rect x="54.80" y="478.80" width="26.90" height="17.80" fill="#2166ac" stroke="#4a4a4a" stroke-width="0.55"/>
<rect x="54.80" y="496.60" width="26.90" height="19.90" fill="#6baed6" stroke="#4a4a4a" stroke-width="0.55"/>
<rect x="54.80" y="516.50" width="26.90" height="30.20" fill="#c6dbef" stroke="#4a4a4a" stroke-width="0.55"/>
<rect x="54.80" y="546.70" width="26.90" height="35.00" fill="#ffffff" stroke="#4a4a4a" stroke-width="0.55"/>
<rect x="86.50" y="478.80" width="27.00" height="18.40" fill="#2166ac" stroke="#4a4a4a" stroke-width="0.55"/>
<rect x="86.50" y="497.20" width="27.00" height="24.20" fill="#6baed6" stroke="#4a4a4a" stroke-width="0.55"/>
<rect x="86.50" y="521.40" width="27.00" height="32.80" fill="#c6dbef" stroke="#4a4a4a" stroke-width="0.55"/>
<rect x="86.50" y="554.20" width="27.00" height="27.50" fill="#ffffff" stroke="#4a4a4a" stroke-width="0.55"/>
<rect x="119.40" y="478.80" width="26.40" height="13.00" fill="#2166ac" stroke="#4a4a4a" stroke-width="0.55"/>
<rect x="119.40" y="491.80" width="26.40" height="19.90" fill="#6baed6" stroke="#4a4a4a" stroke-width="0.55"/>
<rect x="119.40" y="511.70" width="26.40" height="27.70" fill="#c6dbef" stroke="#4a4a4a" stroke-width="0.55"/>
<rect x="119.40" y="539.40" width="26.40" height="42.30" fill="#ffffff" stroke="#4a4a4a" stroke-width="0.55"/>
<text x="68.60" y="589.60" font-size="6.25" font-weight="normal" text-anchor="middle" fill="#222"  stroke="#222" stroke-width="0.12">Cluster 1</text>
<text x="100.50" y="589.60" font-size="6.25" font-weight="normal" text-anchor="middle" fill="#222"  stroke="#222" stroke-width="0.12">Cluster 2</text>
<text x="133.80" y="589.60" font-size="6.25" font-weight="normal" text-anchor="middle" fill="#222"  stroke="#222" stroke-width="0.12">Cluster 3</text>
<rect x="153.30" y="540.20" width="5.50" height="5.50" fill="#ffffff" stroke="#555" stroke-width="0.5"/>
<text x="162.20" y="544.80" font-size="5.0" font-weight="normal" text-anchor="start" fill="#333"  stroke="#333" stroke-width="0.12">0</text>
<rect x="153.30" y="550.90" width="5.50" height="5.50" fill="#c6dbef" stroke="#555" stroke-width="0.5"/>
<text x="162.20" y="555.50" font-size="5.0" font-weight="normal" text-anchor="start" fill="#333"  stroke="#333" stroke-width="0.12">1</text>
<rect x="153.30" y="561.40" width="5.50" height="5.50" fill="#6baed6" stroke="#555" stroke-width="0.5"/>
<text x="162.20" y="566.00" font-size="5.0" font-weight="normal" text-anchor="start" fill="#333"  stroke="#333" stroke-width="0.12">2</text>
<rect x="153.30" y="571.60" width="5.50" height="5.50" fill="#2166ac" stroke="#555" stroke-width="0.5"/>
<text x="162.20" y="576.20" font-size="5.0" font-weight="normal" text-anchor="start" fill="#333"  stroke="#333" stroke-width="0.12">3</text>
<rect x="335.60" y="25.50" width="25.45" height="4.33" fill="#f06a61" />
<rect x="433.50" y="25.50" width="25.55" height="4.33" fill="#8c96d0" />
<rect x="361.00" y="25.50" width="25.65" height="4.33" fill="#f07068" />
<rect x="459.00" y="25.50" width="25.65" height="4.33" fill="#b0b7e0" />
<rect x="386.60" y="25.50" width="25.25" height="4.33" fill="#e51c16" />
<rect x="484.60" y="25.50" width="25.65" height="4.33" fill="#a8afd8" />
<text x="331.50" y="29.09" font-size="4.05" font-weight="normal" text-anchor="end" fill="#1a1a1a" stroke="#1a1a1a" stroke-width="0.06">CXCL10</text>
<text x="413.60" y="30.54" font-size="5.2" font-weight="normal" text-anchor="start" fill="#222"  stroke="#222" stroke-width="0.12">*</text>
<text x="514.30" y="29.34" font-size="4.9" font-weight="normal" text-anchor="start" fill="#222"  stroke="#222" stroke-width="0.08">ns</text>
<rect x="335.60" y="29.78" width="25.45" height="4.33" fill="#ee554b" />
<rect x="433.50" y="29.78" width="25.55" height="4.33" fill="#3a4aa8" />
<rect x="361.00" y="29.78" width="25.65" height="4.33" fill="#e8352a" />
<rect x="459.00" y="29.78" width="25.65" height="4.33" fill="#3a4aa8" />
<rect x="386.60" y="29.78" width="25.25" height="4.33" fill="#e51c16" />
<rect x="484.60" y="29.78" width="25.65" height="4.33" fill="#4553a8" />
<text x="331.50" y="33.37" font-size="4.05" font-weight="normal" text-anchor="end" fill="#1a1a1a" stroke="#1a1a1a" stroke-width="0.06">CCL11</text>
<text x="413.60" y="33.62" font-size="4.9" font-weight="normal" text-anchor="start" fill="#222"  stroke="#222" stroke-width="0.08">ns</text>
<text x="514.30" y="33.62" font-size="4.9" font-weight="normal" text-anchor="start" fill="#222"  stroke="#222" stroke-width="0.08">ns</text>
<rect x="335.60" y="34.06" width="25.45" height="4.33" fill="#f9b0ab" />
<rect x="433.50" y="34.06" width="25.55" height="4.33" fill="#505eb0" />
<rect x="361.00" y="34.06" width="25.65" height="4.33" fill="#f59089" />
<rect x="459.00" y="34.06" width="25.65" height="4.33" fill="#606db8" />
<rect x="386.60" y="34.06" width="25.25" height="4.33" fill="#e51c16" />
<rect x="484.60" y="34.06" width="25.65" height="4.33" fill="#5865b0" />
<text x="331.50" y="37.66" font-size="4.05" font-weight="normal" text-anchor="end" fill="#1a1a1a" stroke="#1a1a1a" stroke-width="0.06">CXCL13</text>
<text x="413.60" y="39.10" font-size="5.2" font-weight="normal" text-anchor="start" fill="#222"  stroke="#222" stroke-width="0.12">**</text>
<text x="514.30" y="37.91" font-size="4.9" font-weight="normal" text-anchor="start" fill="#222"  stroke="#222" stroke-width="0.08">ns</text>
<rect x="335.60" y="38.35" width="25.45" height="4.33" fill="#f07068" />
<rect x="433.50" y="38.35" width="25.55" height="4.33" fill="#808ac8" />
<rect x="361.00" y="38.35" width="25.65" height="4.33" fill="#f5958f" />
<rect x="459.00" y="38.35" width="25.65" height="4.33" fill="#b8bee0" />
<rect x="386.60" y="38.35" width="25.25" height="4.33" fill="#e51c16" />
<rect x="484.60" y="38.35" width="25.65" height="4.33" fill="#b0b6dc" />
<text x="331.50" y="41.94" font-size="4.05" font-weight="normal" text-anchor="end" fill="#1a1a1a" stroke="#1a1a1a" stroke-width="0.06">CXCL9</text>
<text x="413.60" y="43.39" font-size="5.2" font-weight="normal" text-anchor="start" fill="#222"  stroke="#222" stroke-width="0.12">***</text>
<text x="514.30" y="42.19" font-size="4.9" font-weight="normal" text-anchor="start" fill="#222"  stroke="#222" stroke-width="0.08">ns</text>
<rect x="335.60" y="42.63" width="25.45" height="4.33" fill="#ec5046" />
<rect x="433.50" y="42.63" width="25.55" height="4.33" fill="#808ac8" />
<rect x="361.00" y="42.63" width="25.65" height="4.33" fill="#f4908a" />
<rect x="459.00" y="42.63" width="25.65" height="4.33" fill="#b8bee0" />
<rect x="386.60" y="42.63" width="25.25" height="4.33" fill="#e51c16" />
<rect x="484.60" y="42.63" width="25.65" height="4.33" fill="#b0b6dc" />
<text x="331.50" y="46.22" font-size="4.05" font-weight="normal" text-anchor="end" fill="#1a1a1a" stroke="#1a1a1a" stroke-width="0.06">CXCL11</text>
<text x="413.60" y="47.67" font-size="5.2" font-weight="normal" text-anchor="start" fill="#222"  stroke="#222" stroke-width="0.12">**</text>
<text x="514.30" y="46.47" font-size="4.9" font-weight="normal" text-anchor="start" fill="#222"  stroke="#222" stroke-width="0.08">ns</text>
<rect x="335.60" y="46.91" width="25.45" height="4.33" fill="#f5958f" />
<rect x="433.50" y="46.91" width="25.55" height="4.33" fill="#98a0d0" />
<rect x="361.00" y="46.91" width="25.65" height="4.33" fill="#f27b73" />
<rect x="459.00" y="46.91" width="25.65" height="4.33" fill="#808ac5" />
<rect x="386.60" y="46.91" width="25.25" height="4.33" fill="#e6241c" />
<rect x="484.60" y="46.91" width="25.65" height="4.33" fill="#3847a0" />
<text x="331.50" y="50.50" font-size="4.05" font-weight="normal" text-anchor="end" fill="#1a1a1a" stroke="#1a1a1a" stroke-width="0.06">CCR8</text>
<text x="413.60" y="50.75" font-size="4.9" font-weight="normal" text-anchor="start" fill="#222"  stroke="#222" stroke-width="0.08">ns</text>
<text x="514.30" y="50.75" font-size="4.9" font-weight="normal" text-anchor="start" fill="#222"  stroke="#222" stroke-width="0.08">ns</text>
<rect x="335.60" y="51.19" width="25.45" height="4.33" fill="#fac0bc" />
<rect x="433.50" y="51.19" width="25.55" height="4.33" fill="#b0b6dc" />
<rect x="361.00" y="51.19" width="25.65" height="4.33" fill="#f28079" />
<rect x="459.00" y="51.19" width="25.65" height="4.33" fill="#f8b0a3" />
<rect x="386.60" y="51.19" width="25.25" height="4.33" fill="#e82e27" />
<rect x="484.60" y="51.19" width="25.65" height="4.33" fill="#a8afd8" />
<text x="331.50" y="54.78" font-size="4.05" font-weight="normal" text-anchor="end" fill="#1a1a1a" stroke="#1a1a1a" stroke-width="0.06">CCL17</text>
<text x="413.60" y="56.23" font-size="5.2" font-weight="normal" text-anchor="start" fill="#222"  stroke="#222" stroke-width="0.12">**</text>
<text x="514.30" y="55.03" font-size="4.9" font-weight="normal" text-anchor="start" fill="#222"  stroke="#222" stroke-width="0.08">ns</text>
<rect x="335.60" y="55.47" width="25.45" height="4.33" fill="#e8382d" />
<rect x="433.50" y="55.47" width="25.55" height="4.33" fill="#3040a0" />
<rect x="361.00" y="55.47" width="25.65" height="4.33" fill="#f07068" />
<rect x="459.00" y="55.47" width="25.65" height="4.33" fill="#505eb0" />
<rect x="386.60" y="55.47" width="25.25" height="4.33" fill="#ea3a2f" />
<rect x="484.60" y="55.47" width="25.65" height="4.33" fill="#404fa8" />
<text x="331.50" y="59.07" font-size="4.05" font-weight="normal" text-anchor="end" fill="#1a1a1a" stroke="#1a1a1a" stroke-width="0.06">CCL7</text>
<text x="413.60" y="59.32" font-size="4.9" font-weight="normal" text-anchor="start" fill="#222"  stroke="#222" stroke-width="0.08">ns</text>
<text x="514.30" y="59.32" font-size="4.9" font-weight="normal" text-anchor="start" fill="#222"  stroke="#222" stroke-width="0.08">ns</text>
<rect x="335.60" y="59.76" width="25.45" height="4.33" fill="#f59892" />
<rect x="433.50" y="59.76" width="25.55" height="4.33" fill="#505eb0" />
<rect x="361.00" y="59.76" width="25.65" height="4.33" fill="#ef6a62" />
<rect x="459.00" y="59.76" width="25.65" height="4.33" fill="#9099cc" />
<rect x="386.60" y="59.76" width="25.25" height="4.33" fill="#ed4a40" />
<rect x="484.60" y="59.76" width="25.65" height="4.33" fill="#ffffff" />
<text x="331.50" y="63.35" font-size="4.05" font-weight="normal" text-anchor="end" fill="#1a1a1a" stroke="#1a1a1a" stroke-width="0.06">CCL20</text>
<text x="413.60" y="63.60" font-size="4.9" font-weight="normal" text-anchor="start" fill="#222"  stroke="#222" stroke-width="0.08">ns</text>
<text x="514.30" y="63.60" font-size="4.9" font-weight="normal" text-anchor="start" fill="#222"  stroke="#222" stroke-width="0.08">ns</text>
<rect x="335.60" y="64.04" width="25.45" height="4.33" fill="#fac5c1" />
<rect x="433.50" y="64.04" width="25.55" height="4.33" fill="#fde0d5" />
<rect x="361.00" y="64.04" width="25.65" height="4.33" fill="#fad0cd" />
<rect x="459.00" y="64.04" width="25.65" height="4.33" fill="#f8c0b4" />
<rect x="386.60" y="64.04" width="25.25" height="4.33" fill="#ef584e" />
<rect x="484.60" y="64.04" width="25.65" height="4.33" fill="#fef8f8" />
<text x="331.50" y="67.63" font-size="4.05" font-weight="normal" text-anchor="end" fill="#1a1a1a" stroke="#1a1a1a" stroke-width="0.06">CCR4</text>
<text x="413.60" y="69.08" font-size="5.2" font-weight="normal" text-anchor="start" fill="#222"  stroke="#222" stroke-width="0.12">***</text>
<text x="514.30" y="67.88" font-size="4.9" font-weight="normal" text-anchor="start" fill="#222"  stroke="#222" stroke-width="0.08">ns</text>
<rect x="335.60" y="68.32" width="25.45" height="4.33" fill="#f8b0ab" />
<rect x="433.50" y="68.32" width="25.55" height="4.33" fill="#3a4aa8" />
<rect x="361.00" y="68.32" width="25.65" height="4.33" fill="#f0756d" />
<rect x="459.00" y="68.32" width="25.65" height="4.33" fill="#4856a8" />
<rect x="386.60" y="68.32" width="25.25" height="4.33" fill="#f0645b" />
<rect x="484.60" y="68.32" width="25.65" height="4.33" fill="#505eb0" />
<text x="331.50" y="71.91" font-size="4.05" font-weight="normal" text-anchor="end" fill="#1a1a1a" stroke="#1a1a1a" stroke-width="0.06">CCL18</text>
<text x="413.60" y="72.16" font-size="4.9" font-weight="normal" text-anchor="start" fill="#222"  stroke="#222" stroke-width="0.08">ns</text>
<text x="514.30" y="72.16" font-size="4.9" font-weight="normal" text-anchor="start" fill="#222"  stroke="#222" stroke-width="0.08">ns</text>
<rect x="335.60" y="72.60" width="25.45" height="4.33" fill="#fbd0cd" />
<rect x="433.50" y="72.60" width="25.55" height="4.33" fill="#7882c0" />
<rect x="361.00" y="72.60" width="25.65" height="4.33" fill="#ffffff" />
<rect x="459.00" y="72.60" width="25.65" height="4.33" fill="#7882c0" />
<rect x="386.60" y="72.60" width="25.25" height="4.33" fill="#f16e66" />
<rect x="484.60" y="72.60" width="25.65" height="4.33" fill="#6874b8" />
<text x="331.50" y="76.19" font-size="4.05" font-weight="normal" text-anchor="end" fill="#1a1a1a" stroke="#1a1a1a" stroke-width="0.06">CCL26</text>
<text x="413.60" y="77.64" font-size="5.2" font-weight="normal" text-anchor="start" fill="#222"  stroke="#222" stroke-width="0.12">**</text>
<text x="514.30" y="76.44" font-size="4.9" font-weight="normal" text-anchor="start" fill="#222"  stroke="#222" stroke-width="0.08">ns</text>
<rect x="335.60" y="76.88" width="25.45" height="4.33" fill="#f8b8b4" />
<rect x="433.50" y="76.88" width="25.55" height="4.33" fill="#d0d4ee" />
<rect x="361.00" y="76.88" width="25.65" height="4.33" fill="#f9c5c1" />
<rect x="459.00" y="76.88" width="25.65" height="4.33" fill="#ffffff" />
<rect x="386.60" y="76.88" width="25.25" height="4.33" fill="#f27870" />
<rect x="484.60" y="76.88" width="25.65" height="4.33" fill="#fcd8d5" />
<text x="331.50" y="80.48" font-size="4.05" font-weight="normal" text-anchor="end" fill="#1a1a1a" stroke="#1a1a1a" stroke-width="0.06">CXCR4</text>
<text x="413.60" y="81.93" font-size="5.2" font-weight="normal" text-anchor="start" fill="#222"  stroke="#222" stroke-width="0.12">***</text>
<text x="514.30" y="80.73" font-size="4.9" font-weight="normal" text-anchor="start" fill="#222"  stroke="#222" stroke-width="0.08">ns</text>
<rect x="335.60" y="81.17" width="25.45" height="4.33" fill="#fdf0ef" />
<rect x="433.50" y="81.17" width="25.55" height="4.33" fill="#4856a8" />
<rect x="361.00" y="81.17" width="25.65" height="4.33" fill="#fcdcda" />
<rect x="459.00" y="81.17" width="25.65" height="4.33" fill="#404fa8" />
<rect x="386.60" y="81.17" width="25.25" height="4.33" fill="#f38079" />
<rect x="484.60" y="81.17" width="25.65" height="4.33" fill="#4856a8" />
<text x="331.50" y="84.76" font-size="4.05" font-weight="normal" text-anchor="end" fill="#1a1a1a" stroke="#1a1a1a" stroke-width="0.06">CXCR5</text>
<text x="413.60" y="86.21" font-size="5.2" font-weight="normal" text-anchor="start" fill="#222"  stroke="#222" stroke-width="0.12">***</text>
<text x="514.30" y="85.01" font-size="4.9" font-weight="normal" text-anchor="start" fill="#222"  stroke="#222" stroke-width="0.08">ns</text>
<rect x="335.60" y="85.45" width="25.45" height="4.33" fill="#f9bcb8" />
<rect x="433.50" y="85.45" width="25.55" height="4.33" fill="#f08079" />
<rect x="361.00" y="85.45" width="25.65" height="4.33" fill="#fce0de" />
<rect x="459.00" y="85.45" width="25.65" height="4.33" fill="#f08079" />
<rect x="386.60" y="85.45" width="25.25" height="4.33" fill="#f48881" />
<rect x="484.60" y="85.45" width="25.65" height="4.33" fill="#f08079" />
<text x="331.50" y="89.04" font-size="4.05" font-weight="normal" text-anchor="end" fill="#1a1a1a" stroke="#1a1a1a" stroke-width="0.06">CCL28</text>
<text x="413.60" y="89.29" font-size="4.9" font-weight="normal" text-anchor="start" fill="#222"  stroke="#222" stroke-width="0.08">ns</text>
<text x="514.30" y="89.29" font-size="4.9" font-weight="normal" text-anchor="start" fill="#222"  stroke="#222" stroke-width="0.08">ns</text>
<rect x="335.60" y="89.73" width="25.45" height="4.33" fill="#fbd5d2" />
<rect x="433.50" y="89.73" width="25.55" height="4.33" fill="#3848a5" />
<rect x="361.00" y="89.73" width="25.65" height="4.33" fill="#fce0de" />
<rect x="459.00" y="89.73" width="25.65" height="4.33" fill="#3848a5" />
<rect x="386.60" y="89.73" width="25.25" height="4.33" fill="#f58e87" />
<rect x="484.60" y="89.73" width="25.65" height="4.33" fill="#3848a5" />
<text x="331.50" y="93.32" font-size="4.05" font-weight="normal" text-anchor="end" fill="#1a1a1a" stroke="#1a1a1a" stroke-width="0.06">CCR3</text>
<text x="413.60" y="94.77" font-size="5.2" font-weight="normal" text-anchor="start" fill="#222"  stroke="#222" stroke-width="0.12">*</text>
<text x="514.30" y="93.57" font-size="4.9" font-weight="normal" text-anchor="start" fill="#222"  stroke="#222" stroke-width="0.08">ns</text>
<rect x="335.60" y="94.01" width="25.45" height="4.33" fill="#ffffff" />
<rect x="433.50" y="94.01" width="25.55" height="4.33" fill="#606cb5" />
<rect x="361.00" y="94.01" width="25.65" height="4.33" fill="#fad0cd" />
<rect x="459.00" y="94.01" width="25.65" height="4.33" fill="#606cb5" />
<rect x="386.60" y="94.01" width="25.25" height="4.33" fill="#f6948e" />
<rect x="484.60" y="94.01" width="25.65" height="4.33" fill="#ecedf8" />
<text x="331.50" y="97.60" font-size="4.05" font-weight="normal" text-anchor="end" fill="#1a1a1a" stroke="#1a1a1a" stroke-width="0.06">CCR7</text>
<text x="413.60" y="99.05" font-size="5.2" font-weight="normal" text-anchor="start" fill="#222"  stroke="#222" stroke-width="0.12">***</text>
<text x="514.30" y="97.85" font-size="4.9" font-weight="normal" text-anchor="start" fill="#222"  stroke="#222" stroke-width="0.08">ns</text>
<rect x="335.60" y="98.29" width="25.45" height="4.33" fill="#fef8f8" />
<rect x="433.50" y="98.29" width="25.55" height="4.33" fill="#404fa8" />
<rect x="361.00" y="98.29" width="25.65" height="4.33" fill="#f9c8c5" />
<rect x="459.00" y="98.29" width="25.65" height="4.33" fill="#404fa8" />
<rect x="386.60" y="98.29" width="25.25" height="4.33" fill="#f79a94" />
<rect x="484.60" y="98.29" width="25.65" height="4.33" fill="#4856a8" />
<text x="331.50" y="101.89" font-size="4.05" font-weight="normal" text-anchor="end" fill="#1a1a1a" stroke="#1a1a1a" stroke-width="0.06">CCR6</text>
<text x="413.60" y="103.34" font-size="5.2" font-weight="normal" text-anchor="start" fill="#222"  stroke="#222" stroke-width="0.12">***</text>
<text x="514.30" y="102.14" font-size="4.9" font-weight="normal" text-anchor="start" fill="#222"  stroke="#222" stroke-width="0.08">ns</text>
<rect x="335.60" y="102.58" width="25.45" height="4.33" fill="#f8f0f5" />
<rect x="433.50" y="102.58" width="25.55" height="4.33" fill="#505eb0" />
<rect x="361.00" y="102.58" width="25.65" height="4.33" fill="#fde8e6" />
<rect x="459.00" y="102.58" width="25.65" height="4.33" fill="#505eb0" />
<rect x="386.60" y="102.58" width="25.25" height="4.33" fill="#f69690" />
<rect x="484.60" y="102.58" width="25.65" height="4.33" fill="#5865b0" />
<text x="331.50" y="106.17" font-size="4.05" font-weight="normal" text-anchor="end" fill="#1a1a1a" stroke="#1a1a1a" stroke-width="0.06">CCR2</text>
<text x="413.60" y="107.62" font-size="5.2" font-weight="normal" text-anchor="start" fill="#222"  stroke="#222" stroke-width="0.12">***</text>
<text x="514.30" y="106.42" font-size="4.9" font-weight="normal" text-anchor="start" fill="#222"  stroke="#222" stroke-width="0.08">ns</text>
<rect x="335.60" y="106.86" width="25.45" height="4.33" fill="#fde5e3" />
<rect x="433.50" y="106.86" width="25.55" height="4.33" fill="#e02014" />
<rect x="361.00" y="106.86" width="25.65" height="4.33" fill="#f9c0bc" />
<rect x="459.00" y="106.86" width="25.65" height="4.33" fill="#e0281c" />
<rect x="386.60" y="106.86" width="25.25" height="4.33" fill="#f79a94" />
<rect x="484.60" y="106.86" width="25.65" height="4.33" fill="#e0281c" />
<text x="331.50" y="110.45" font-size="4.05" font-weight="normal" text-anchor="end" fill="#1a1a1a" stroke="#1a1a1a" stroke-width="0.06">XCL2</text>
<text x="413.60" y="111.90" font-size="5.2" font-weight="normal" text-anchor="start" fill="#222"  stroke="#222" stroke-width="0.12">*</text>
<text x="514.30" y="110.70" font-size="4.9" font-weight="normal" text-anchor="start" fill="#222"  stroke="#222" stroke-width="0.08">ns</text>
<rect x="335.60" y="111.14" width="25.45" height="4.33" fill="#ffffff" />
<rect x="433.50" y="111.14" width="25.55" height="4.33" fill="#505eb0" />
<rect x="361.00" y="111.14" width="25.65" height="4.33" fill="#fce0de" />
<rect x="459.00" y="111.14" width="25.65" height="4.33" fill="#4856a8" />
<rect x="386.60" y="111.14" width="25.25" height="4.33" fill="#f79e98" />
<rect x="484.60" y="111.14" width="25.65" height="4.33" fill="#505eb0" />
<text x="331.50" y="114.73" font-size="4.05" font-weight="normal" text-anchor="end" fill="#1a1a1a" stroke="#1a1a1a" stroke-width="0.06">CCL5</text>
<text x="413.60" y="116.18" font-size="5.2" font-weight="normal" text-anchor="start" fill="#222"  stroke="#222" stroke-width="0.12">***</text>
<text x="514.30" y="114.98" font-size="4.9" font-weight="normal" text-anchor="start" fill="#222"  stroke="#222" stroke-width="0.08">ns</text>
<rect x="335.60" y="115.42" width="25.45" height="4.33" fill="#fbd5d2" />
<rect x="433.50" y="115.42" width="25.55" height="4.33" fill="#404fa8" />
<rect x="361.00" y="115.42" width="25.65" height="4.33" fill="#fad0cd" />
<rect x="459.00" y="115.42" width="25.65" height="4.33" fill="#4856a8" />
<rect x="386.60" y="115.42" width="25.25" height="4.33" fill="#f7a29c" />
<rect x="484.60" y="115.42" width="25.65" height="4.33" fill="#4856a8" />
<text x="331.50" y="119.01" font-size="4.05" font-weight="normal" text-anchor="end" fill="#1a1a1a" stroke="#1a1a1a" stroke-width="0.06">CCL4</text>
<text x="413.60" y="120.46" font-size="5.2" font-weight="normal" text-anchor="start" fill="#222"  stroke="#222" stroke-width="0.12">*</text>
<text x="514.30" y="119.26" font-size="4.9" font-weight="normal" text-anchor="start" fill="#222"  stroke="#222" stroke-width="0.08">ns</text>
<rect x="335.60" y="119.70" width="25.45" height="4.33" fill="#e0e2f0" />
<rect x="433.50" y="119.70" width="25.55" height="4.33" fill="#9099d0" />
<rect x="361.00" y="119.70" width="25.65" height="4.33" fill="#fdf0ef" />
<rect x="459.00" y="119.70" width="25.65" height="4.33" fill="#e8e9f5" />
<rect x="386.60" y="119.70" width="25.25" height="4.33" fill="#f8a6a1" />
<rect x="484.60" y="119.70" width="25.65" height="4.33" fill="#f0f1fa" />
<text x="331.50" y="123.30" font-size="4.05" font-weight="normal" text-anchor="end" fill="#1a1a1a" stroke="#1a1a1a" stroke-width="0.06">CCR5</text>
<text x="413.60" y="124.75" font-size="5.2" font-weight="normal" text-anchor="start" fill="#222"  stroke="#222" stroke-width="0.12">***</text>
<text x="514.30" y="123.55" font-size="4.9" font-weight="normal" text-anchor="start" fill="#222"  stroke="#222" stroke-width="0.08">ns</text>
<rect x="335.60" y="123.99" width="25.45" height="4.33" fill="#ffffff" />
<rect x="433.50" y="123.99" width="25.55" height="4.33" fill="#404fa8" />
<rect x="361.00" y="123.99" width="25.65" height="4.33" fill="#f8b8b4" />
<rect x="459.00" y="123.99" width="25.65" height="4.33" fill="#404fa8" />
<rect x="386.60" y="123.99" width="25.25" height="4.33" fill="#f8aaa5" />
<rect x="484.60" y="123.99" width="25.65" height="4.33" fill="#4856a8" />
<text x="331.50" y="127.58" font-size="4.05" font-weight="normal" text-anchor="end" fill="#1a1a1a" stroke="#1a1a1a" stroke-width="0.06">CCR1</text>
<text x="413.60" y="129.03" font-size="5.2" font-weight="normal" text-anchor="start" fill="#222"  stroke="#222" stroke-width="0.12">***</text>
<text x="514.30" y="127.83" font-size="4.9" font-weight="normal" text-anchor="start" fill="#222"  stroke="#222" stroke-width="0.08">ns</text>
<rect x="335.60" y="128.27" width="25.45" height="4.33" fill="#fde8e6" />
<rect x="433.50" y="128.27" width="25.55" height="4.33" fill="#4856a8" />
<rect x="361.00" y="128.27" width="25.65" height="4.33" fill="#fcdcda" />
<rect x="459.00" y="128.27" width="25.65" height="4.33" fill="#4856a8" />
<rect x="386.60" y="128.27" width="25.25" height="4.33" fill="#f9b0ab" />
<rect x="484.60" y="128.27" width="25.65" height="4.33" fill="#505eb0" />
<text x="331.50" y="131.86" font-size="4.05" font-weight="normal" text-anchor="end" fill="#1a1a1a" stroke="#1a1a1a" stroke-width="0.06">CCL3</text>
<text x="413.60" y="132.11" font-size="4.9" font-weight="normal" text-anchor="start" fill="#222"  stroke="#222" stroke-width="0.08">ns</text>
<text x="514.30" y="132.11" font-size="4.9" font-weight="normal" text-anchor="start" fill="#222"  stroke="#222" stroke-width="0.08">ns</text>
<rect x="335.60" y="132.55" width="25.45" height="4.33" fill="#ffffff" />
<rect x="433.50" y="132.55" width="25.55" height="4.33" fill="#b8bee0" />
<rect x="361.00" y="132.55" width="25.65" height="4.33" fill="#fad0cd" />
<rect x="459.00" y="132.55" width="25.65" height="4.33" fill="#f8b8ab" />
<rect x="386.60" y="132.55" width="25.25" height="4.33" fill="#f9b4af" />
<rect x="484.60" y="132.55" width="25.65" height="4.33" fill="#b0b6dc" />
<text x="331.50" y="136.14" font-size="4.05" font-weight="normal" text-anchor="end" fill="#1a1a1a" stroke="#1a1a1a" stroke-width="0.06">CCL22</text>
<text x="413.60" y="137.59" font-size="5.2" font-weight="normal" text-anchor="start" fill="#222"  stroke="#222" stroke-width="0.12">**</text>
<text x="514.30" y="136.39" font-size="4.9" font-weight="normal" text-anchor="start" fill="#222"  stroke="#222" stroke-width="0.08">ns</text>
<rect x="335.60" y="136.83" width="25.45" height="4.33" fill="#fef5f4" />
<rect x="433.50" y="136.83" width="25.55" height="4.33" fill="#3848a5" />
<rect x="361.00" y="136.83" width="25.65" height="4.33" fill="#fce0de" />
<rect x="459.00" y="136.83" width="25.65" height="4.33" fill="#404fa8" />
<rect x="386.60" y="136.83" width="25.25" height="4.33" fill="#fab8b4" />
<rect x="484.60" y="136.83" width="25.65" height="4.33" fill="#606cb5" />
<text x="331.50" y="140.42" font-size="4.05" font-weight="normal" text-anchor="end" fill="#1a1a1a" stroke="#1a1a1a" stroke-width="0.06">CCL1</text>
<text x="413.60" y="140.67" font-size="4.9" font-weight="normal" text-anchor="start" fill="#222"  stroke="#222" stroke-width="0.08">ns</text>
<text x="514.30" y="140.67" font-size="4.9" font-weight="normal" text-anchor="start" fill="#222"  stroke="#222" stroke-width="0.08">ns</text>
<rect x="335.60" y="141.11" width="25.45" height="4.33" fill="#f8f0f8" />
<rect x="433.50" y="141.11" width="25.55" height="4.33" fill="#e02014" />
<rect x="361.00" y="141.11" width="25.65" height="4.33" fill="#fde8e6" />
<rect x="459.00" y="141.11" width="25.65" height="4.33" fill="#e02014" />
<rect x="386.60" y="141.11" width="25.25" height="4.33" fill="#fbc0bc" />
<rect x="484.60" y="141.11" width="25.65" height="4.33" fill="#e02014" />
<text x="331.50" y="144.70" font-size="4.05" font-weight="normal" text-anchor="end" fill="#1a1a1a" stroke="#1a1a1a" stroke-width="0.06">CCL23</text>
<text x="413.60" y="146.16" font-size="5.2" font-weight="normal" text-anchor="start" fill="#222"  stroke="#222" stroke-width="0.12">**</text>
<text x="514.30" y="144.95" font-size="4.9" font-weight="normal" text-anchor="start" fill="#222"  stroke="#222" stroke-width="0.08">ns</text>
<rect x="335.60" y="145.40" width="25.45" height="4.33" fill="#ffffff" />
<rect x="433.50" y="145.40" width="25.55" height="4.33" fill="#4856a8" />
<rect x="361.00" y="145.40" width="25.65" height="4.33" fill="#ffffff" />
<rect x="459.00" y="145.40" width="25.65" height="4.33" fill="#404fa8" />
<rect x="386.60" y="145.40" width="25.25" height="4.33" fill="#fbc8c4" />
<rect x="484.60" y="145.40" width="25.65" height="4.33" fill="#5865b0" />
<text x="331.50" y="148.99" font-size="4.05" font-weight="normal" text-anchor="end" fill="#1a1a1a" stroke="#1a1a1a" stroke-width="0.06">CX3CR1</text>
<text x="413.60" y="150.44" font-size="5.2" font-weight="normal" text-anchor="start" fill="#222"  stroke="#222" stroke-width="0.12">***</text>
<text x="514.30" y="149.24" font-size="4.9" font-weight="normal" text-anchor="start" fill="#222"  stroke="#222" stroke-width="0.08">ns</text>
<rect x="335.60" y="149.68" width="25.45" height="4.33" fill="#f5f0fa" />
<rect x="433.50" y="149.68" width="25.55" height="4.33" fill="#404fa8" />
<rect x="361.00" y="149.68" width="25.65" height="4.33" fill="#fdeeed" />
<rect x="459.00" y="149.68" width="25.65" height="4.33" fill="#505eb0" />
<rect x="386.60" y="149.68" width="25.25" height="4.33" fill="#fcd4d1" />
<rect x="484.60" y="149.68" width="25.65" height="4.33" fill="#505eb0" />
<text x="331.50" y="153.27" font-size="4.05" font-weight="normal" text-anchor="end" fill="#1a1a1a" stroke="#1a1a1a" stroke-width="0.06">CCL24</text>
<text x="413.60" y="153.52" font-size="4.9" font-weight="normal" text-anchor="start" fill="#222"  stroke="#222" stroke-width="0.08">ns</text>
<text x="514.30" y="153.52" font-size="4.9" font-weight="normal" text-anchor="start" fill="#222"  stroke="#222" stroke-width="0.08">ns</text>
<rect x="335.60" y="153.96" width="25.45" height="4.33" fill="#fef8f8" />
<rect x="433.50" y="153.96" width="25.55" height="4.33" fill="#404fa8" />
<rect x="361.00" y="153.96" width="25.65" height="4.33" fill="#fdf0ef" />
<rect x="459.00" y="153.96" width="25.65" height="4.33" fill="#3848a5" />
<rect x="386.60" y="153.96" width="25.25" height="4.33" fill="#fde4e2" />
<rect x="484.60" y="153.96" width="25.65" height="4.33" fill="#606cb5" />
<text x="331.50" y="157.55" font-size="4.05" font-weight="normal" text-anchor="end" fill="#1a1a1a" stroke="#1a1a1a" stroke-width="0.06">CCR10</text>
<text x="413.60" y="157.80" font-size="4.9" font-weight="normal" text-anchor="start" fill="#222"  stroke="#222" stroke-width="0.08">ns</text>
<text x="514.30" y="157.80" font-size="4.9" font-weight="normal" text-anchor="start" fill="#222"  stroke="#222" stroke-width="0.08">ns</text>
<rect x="335.60" y="158.24" width="25.45" height="4.33" fill="#7f89c8" />
<rect x="433.50" y="158.24" width="25.55" height="4.33" fill="#f8c0bc" />
<rect x="361.00" y="158.24" width="25.65" height="4.33" fill="#e6e7f0" />
<rect x="459.00" y="158.24" width="25.65" height="4.33" fill="#ffffff" />
<rect x="386.60" y="158.24" width="25.25" height="4.33" fill="#ffffff" />
<rect x="484.60" y="158.24" width="25.65" height="4.33" fill="#fad0cd" />
<text x="331.50" y="161.83" font-size="4.05" font-weight="normal" text-anchor="end" fill="#1a1a1a" stroke="#1a1a1a" stroke-width="0.06">CXCL16</text>
<text x="413.60" y="163.28" font-size="5.2" font-weight="normal" text-anchor="start" fill="#222"  stroke="#222" stroke-width="0.12">*</text>
<text x="514.30" y="162.08" font-size="4.9" font-weight="normal" text-anchor="start" fill="#222"  stroke="#222" stroke-width="0.08">ns</text>
<rect x="335.60" y="162.52" width="25.45" height="4.33" fill="#c8cce8" />
<rect x="433.50" y="162.52" width="25.55" height="4.33" fill="#f8b0ab" />
<rect x="361.00" y="162.52" width="25.65" height="4.33" fill="#ffffff" />
<rect x="459.00" y="162.52" width="25.65" height="4.33" fill="#ffffff" />
<rect x="386.60" y="162.52" width="25.25" height="4.33" fill="#f0f0f8" />
<rect x="484.60" y="162.52" width="25.65" height="4.33" fill="#f8b0ab" />
<text x="331.50" y="166.11" font-size="4.05" font-weight="normal" text-anchor="end" fill="#1a1a1a" stroke="#1a1a1a" stroke-width="0.06">CCL15</text>
<text x="413.60" y="167.56" font-size="5.2" font-weight="normal" text-anchor="start" fill="#222"  stroke="#222" stroke-width="0.12">**</text>
<text x="514.30" y="166.36" font-size="4.9" font-weight="normal" text-anchor="start" fill="#222"  stroke="#222" stroke-width="0.08">ns</text>
<rect x="335.60" y="166.81" width="25.45" height="4.33" fill="#d8d3f0" />
<rect x="433.50" y="166.81" width="25.55" height="4.33" fill="#3848a5" />
<rect x="361.00" y="166.81" width="25.65" height="4.33" fill="#e8e9f5" />
<rect x="459.00" y="166.81" width="25.65" height="4.33" fill="#404fa8" />
<rect x="386.60" y="166.81" width="25.25" height="4.33" fill="#e0e2f0" />
<rect x="484.60" y="166.81" width="25.65" height="4.33" fill="#3848a5" />
<text x="331.50" y="170.40" font-size="4.05" font-weight="normal" text-anchor="end" fill="#1a1a1a" stroke="#1a1a1a" stroke-width="0.06">CXCR2</text>
<text x="413.60" y="170.65" font-size="4.9" font-weight="normal" text-anchor="start" fill="#222"  stroke="#222" stroke-width="0.08">ns</text>
<text x="514.30" y="170.65" font-size="4.9" font-weight="normal" text-anchor="start" fill="#222"  stroke="#222" stroke-width="0.08">ns</text>
<rect x="335.60" y="171.09" width="25.45" height="4.33" fill="#7882c0" />
<rect x="433.50" y="171.09" width="25.55" height="4.33" fill="#9099cc" />
<rect x="361.00" y="171.09" width="25.65" height="4.33" fill="#d0d3ea" />
<rect x="459.00" y="171.09" width="25.65" height="4.33" fill="#a8afd8" />
<rect x="386.60" y="171.09" width="25.25" height="4.33" fill="#d8dbee" />
<rect x="484.60" y="171.09" width="25.65" height="4.33" fill="#f8b0ab" />
<text x="331.50" y="174.68" font-size="4.05" font-weight="normal" text-anchor="end" fill="#1a1a1a" stroke="#1a1a1a" stroke-width="0.06">CCR9</text>
<text x="413.60" y="174.93" font-size="4.9" font-weight="normal" text-anchor="start" fill="#222"  stroke="#222" stroke-width="0.08">ns</text>
<text x="514.30" y="174.93" font-size="4.9" font-weight="normal" text-anchor="start" fill="#222"  stroke="#222" stroke-width="0.08">ns</text>
<rect x="335.60" y="175.37" width="25.45" height="4.33" fill="#c0bce0" />
<rect x="433.50" y="175.37" width="25.55" height="4.33" fill="#b0b6dc" />
<rect x="361.00" y="175.37" width="25.65" height="4.33" fill="#d8dbee" />
<rect x="459.00" y="175.37" width="25.65" height="4.33" fill="#f0f1fa" />
<rect x="386.60" y="175.37" width="25.25" height="4.33" fill="#d0d3ea" />
<rect x="484.60" y="175.37" width="25.65" height="4.33" fill="#f8b8b4" />
<text x="331.50" y="178.96" font-size="4.05" font-weight="normal" text-anchor="end" fill="#1a1a1a" stroke="#1a1a1a" stroke-width="0.06">PF4</text>
<text x="413.60" y="179.21" font-size="4.9" font-weight="normal" text-anchor="start" fill="#222"  stroke="#222" stroke-width="0.08">ns</text>
<text x="514.30" y="179.21" font-size="4.9" font-weight="normal" text-anchor="start" fill="#222"  stroke="#222" stroke-width="0.08">ns</text>
<rect x="335.60" y="179.65" width="25.45" height="4.33" fill="#a0a7d5" />
<rect x="433.50" y="179.65" width="25.55" height="4.33" fill="#b0b6dc" />
<rect x="361.00" y="179.65" width="25.65" height="4.33" fill="#989fcc" />
<rect x="459.00" y="179.65" width="25.65" height="4.33" fill="#f8b8ab" />
<rect x="386.60" y="179.65" width="25.25" height="4.33" fill="#c8cce5" />
<rect x="484.60" y="179.65" width="25.65" height="4.33" fill="#b0b6dc" />
<text x="331.50" y="183.24" font-size="4.05" font-weight="normal" text-anchor="end" fill="#1a1a1a" stroke="#1a1a1a" stroke-width="0.06">CCL8</text>
<text x="413.60" y="183.49" font-size="4.9" font-weight="normal" text-anchor="start" fill="#222"  stroke="#222" stroke-width="0.08">ns</text>
<text x="514.30" y="183.49" font-size="4.9" font-weight="normal" text-anchor="start" fill="#222"  stroke="#222" stroke-width="0.08">ns</text>
<rect x="335.60" y="183.93" width="25.45" height="4.33" fill="#9099cc" />
<rect x="433.50" y="183.93" width="25.55" height="4.33" fill="#404fa8" />
<rect x="361.00" y="183.93" width="25.65" height="4.33" fill="#d8dbee" />
<rect x="459.00" y="183.93" width="25.65" height="4.33" fill="#3a4aa5" />
<rect x="386.60" y="183.93" width="25.25" height="4.33" fill="#c0c5e2" />
<rect x="484.60" y="183.93" width="25.65" height="4.33" fill="#4856a8" />
<text x="331.50" y="187.52" font-size="4.05" font-weight="normal" text-anchor="end" fill="#1a1a1a" stroke="#1a1a1a" stroke-width="0.06">CXCL5</text>
<text x="413.60" y="187.77" font-size="4.9" font-weight="normal" text-anchor="start" fill="#222"  stroke="#222" stroke-width="0.08">ns</text>
<text x="514.30" y="187.77" font-size="4.9" font-weight="normal" text-anchor="start" fill="#222"  stroke="#222" stroke-width="0.08">ns</text>
<rect x="335.60" y="188.22" width="25.45" height="4.33" fill="#4856a8" />
<rect x="433.50" y="188.22" width="25.55" height="4.33" fill="#8891c8" />
<rect x="361.00" y="188.22" width="25.65" height="4.33" fill="#e8e9f5" />
<rect x="459.00" y="188.22" width="25.65" height="4.33" fill="#707ab8" />
<rect x="386.60" y="188.22" width="25.25" height="4.33" fill="#b8bdde" />
<rect x="484.60" y="188.22" width="25.65" height="4.33" fill="#3848a5" />
<text x="331.50" y="191.81" font-size="4.05" font-weight="normal" text-anchor="end" fill="#1a1a1a" stroke="#1a1a1a" stroke-width="0.06">CXCL1</text>
<text x="413.60" y="193.26" font-size="5.2" font-weight="normal" text-anchor="start" fill="#222"  stroke="#222" stroke-width="0.12">***</text>
<text x="514.30" y="192.06" font-size="4.9" font-weight="normal" text-anchor="start" fill="#222"  stroke="#222" stroke-width="0.08">ns</text>
<rect x="335.60" y="192.50" width="25.45" height="4.33" fill="#8891c8" />
<rect x="433.50" y="192.50" width="25.55" height="4.33" fill="#505eb0" />
<rect x="361.00" y="192.50" width="25.65" height="4.33" fill="#d8dbee" />
<rect x="459.00" y="192.50" width="25.65" height="4.33" fill="#98a0d0" />
<rect x="386.60" y="192.50" width="25.25" height="4.33" fill="#a8afd8" />
<rect x="484.60" y="192.50" width="25.65" height="4.33" fill="#f0f1fa" />
<text x="331.50" y="196.09" font-size="4.05" font-weight="normal" text-anchor="end" fill="#1a1a1a" stroke="#1a1a1a" stroke-width="0.06">CXCR6</text>
<text x="413.60" y="196.34" font-size="4.9" font-weight="normal" text-anchor="start" fill="#222"  stroke="#222" stroke-width="0.08">ns</text>
<text x="514.30" y="196.34" font-size="4.9" font-weight="normal" text-anchor="start" fill="#222"  stroke="#222" stroke-width="0.08">ns</text>
<rect x="335.60" y="196.78" width="25.45" height="4.33" fill="#6874b8" />
<rect x="433.50" y="196.78" width="25.55" height="4.33" fill="#404fa8" />
<rect x="361.00" y="196.78" width="25.65" height="4.33" fill="#d0d3ea" />
<rect x="459.00" y="196.78" width="25.65" height="4.33" fill="#404fa8" />
<rect x="386.60" y="196.78" width="25.25" height="4.33" fill="#a0a7d5" />
<rect x="484.60" y="196.78" width="25.65" height="4.33" fill="#5865b0" />
<text x="331.50" y="200.37" font-size="4.05" font-weight="normal" text-anchor="end" fill="#1a1a1a" stroke="#1a1a1a" stroke-width="0.06">CXCR3</text>
<text x="413.60" y="201.82" font-size="5.2" font-weight="normal" text-anchor="start" fill="#222"  stroke="#222" stroke-width="0.12">*</text>
<text x="514.30" y="200.62" font-size="4.9" font-weight="normal" text-anchor="start" fill="#222"  stroke="#222" stroke-width="0.08">ns</text>
<rect x="335.60" y="201.06" width="25.45" height="4.33" fill="#3a49a0" />
<rect x="433.50" y="201.06" width="25.55" height="4.33" fill="#3a4aa8" />
<rect x="361.00" y="201.06" width="25.65" height="4.33" fill="#a8afd8" />
<rect x="459.00" y="201.06" width="25.65" height="4.33" fill="#3848a5" />
<rect x="386.60" y="201.06" width="25.25" height="4.33" fill="#9099cc" />
<rect x="484.60" y="201.06" width="25.65" height="4.33" fill="#404fa8" />
<text x="331.50" y="204.65" font-size="4.05" font-weight="normal" text-anchor="end" fill="#1a1a1a" stroke="#1a1a1a" stroke-width="0.06">CCL16</text>
<text x="413.60" y="206.10" font-size="5.2" font-weight="normal" text-anchor="start" fill="#222"  stroke="#222" stroke-width="0.12">***</text>
<text x="514.30" y="204.90" font-size="4.9" font-weight="normal" text-anchor="start" fill="#222"  stroke="#222" stroke-width="0.08">ns</text>
<rect x="335.60" y="205.34" width="25.45" height="4.33" fill="#4553a8" />
<rect x="433.50" y="205.34" width="25.55" height="4.33" fill="#f8a09a" />
<rect x="361.00" y="205.34" width="25.65" height="4.33" fill="#a0a7d5" />
<rect x="459.00" y="205.34" width="25.65" height="4.33" fill="#f8b0ab" />
<rect x="386.60" y="205.34" width="25.25" height="4.33" fill="#808ac5" />
<rect x="484.60" y="205.34" width="25.65" height="4.33" fill="#f8a8a3" />
<text x="331.50" y="208.93" font-size="4.05" font-weight="normal" text-anchor="end" fill="#1a1a1a" stroke="#1a1a1a" stroke-width="0.06">CXCL14</text>
<text x="413.60" y="210.38" font-size="5.2" font-weight="normal" text-anchor="start" fill="#222"  stroke="#222" stroke-width="0.12">***</text>
<text x="514.30" y="209.18" font-size="4.9" font-weight="normal" text-anchor="start" fill="#222"  stroke="#222" stroke-width="0.08">ns</text>
<rect x="335.60" y="209.63" width="25.45" height="4.33" fill="#404fa5" />
<rect x="433.50" y="209.63" width="25.55" height="4.33" fill="#f5b0ab" />
<rect x="361.00" y="209.63" width="25.65" height="4.33" fill="#9ca4d2" />
<rect x="459.00" y="209.63" width="25.65" height="4.33" fill="#c0c5e2" />
<rect x="386.60" y="209.63" width="25.25" height="4.33" fill="#7882c0" />
<rect x="484.60" y="209.63" width="25.65" height="4.33" fill="#fde0de" />
<text x="331.50" y="213.22" font-size="4.05" font-weight="normal" text-anchor="end" fill="#1a1a1a" stroke="#1a1a1a" stroke-width="0.06">CXCL12</text>
<text x="413.60" y="214.67" font-size="5.2" font-weight="normal" text-anchor="start" fill="#222"  stroke="#222" stroke-width="0.12">**</text>
<text x="514.30" y="213.47" font-size="4.9" font-weight="normal" text-anchor="start" fill="#222"  stroke="#222" stroke-width="0.08">ns</text>
<rect x="335.60" y="213.91" width="25.45" height="4.33" fill="#505eb0" />
<rect x="433.50" y="213.91" width="25.55" height="4.33" fill="#b0b6dc" />
<rect x="361.00" y="213.91" width="25.65" height="4.33" fill="#a8afd8" />
<rect x="459.00" y="213.91" width="25.65" height="4.33" fill="#808ac5" />
<rect x="386.60" y="213.91" width="25.25" height="4.33" fill="#606cb5" />
<rect x="484.60" y="213.91" width="25.65" height="4.33" fill="#f8c0bc" />
<text x="331.50" y="217.50" font-size="4.05" font-weight="normal" text-anchor="end" fill="#1a1a1a" stroke="#1a1a1a" stroke-width="0.06">CCL21</text>
<text x="413.60" y="218.95" font-size="5.2" font-weight="normal" text-anchor="start" fill="#222"  stroke="#222" stroke-width="0.12">**</text>
<text x="514.30" y="217.75" font-size="4.9" font-weight="normal" text-anchor="start" fill="#222"  stroke="#222" stroke-width="0.08">ns</text>
<rect x="335.60" y="218.19" width="25.45" height="4.33" fill="#b0b6dc" />
<rect x="433.50" y="218.19" width="25.55" height="4.33" fill="#b0b6dc" />
<rect x="361.00" y="218.19" width="25.65" height="4.33" fill="#eaecf8" />
<rect x="459.00" y="218.19" width="25.65" height="4.33" fill="#9099cc" />
<rect x="386.60" y="218.19" width="25.25" height="4.33" fill="#5562b0" />
<rect x="484.60" y="218.19" width="25.65" height="4.33" fill="#f8b8b4" />
<text x="331.50" y="221.78" font-size="4.05" font-weight="normal" text-anchor="end" fill="#1a1a1a" stroke="#1a1a1a" stroke-width="0.06">CXCL2</text>
<text x="413.60" y="223.23" font-size="5.2" font-weight="normal" text-anchor="start" fill="#222"  stroke="#222" stroke-width="0.12">***</text>
<text x="514.30" y="222.03" font-size="4.9" font-weight="normal" text-anchor="start" fill="#222"  stroke="#222" stroke-width="0.08">ns</text>
<rect x="335.60" y="222.47" width="25.45" height="4.33" fill="#3040a0" />
<rect x="433.50" y="222.47" width="25.55" height="4.33" fill="#3848a5" />
<rect x="361.00" y="222.47" width="25.65" height="4.33" fill="#8891c8" />
<rect x="459.00" y="222.47" width="25.65" height="4.33" fill="#3848a5" />
<rect x="386.60" y="222.47" width="25.25" height="4.33" fill="#4856a8" />
<rect x="484.60" y="222.47" width="25.65" height="4.33" fill="#4856a8" />
<text x="331.50" y="226.06" font-size="4.05" font-weight="normal" text-anchor="end" fill="#1a1a1a" stroke="#1a1a1a" stroke-width="0.06">PPBP</text>
<text x="413.60" y="226.31" font-size="4.9" font-weight="normal" text-anchor="start" fill="#222"  stroke="#222" stroke-width="0.08">ns</text>
<text x="514.30" y="226.31" font-size="4.9" font-weight="normal" text-anchor="start" fill="#222"  stroke="#222" stroke-width="0.08">ns</text>
<rect x="335.60" y="226.75" width="25.45" height="4.33" fill="#5865b0" />
<rect x="433.50" y="226.75" width="25.55" height="4.33" fill="#f08079" />
<rect x="361.00" y="226.75" width="25.65" height="4.33" fill="#9099cc" />
<rect x="459.00" y="226.75" width="25.65" height="4.33" fill="#f07068" />
<rect x="386.60" y="226.75" width="25.25" height="4.33" fill="#4553a5" />
<rect x="484.60" y="226.75" width="25.65" height="4.33" fill="#f28079" />
<text x="331.50" y="230.34" font-size="4.05" font-weight="normal" text-anchor="end" fill="#1a1a1a" stroke="#1a1a1a" stroke-width="0.06">CCL14</text>
<text x="413.60" y="231.79" font-size="5.2" font-weight="normal" text-anchor="start" fill="#222"  stroke="#222" stroke-width="0.12">***</text>
<text x="514.30" y="230.59" font-size="4.9" font-weight="normal" text-anchor="start" fill="#222"  stroke="#222" stroke-width="0.08">ns</text>
<line x1="361.00" y1="25.50" x2="361.00" y2="231.04" stroke="#ffffff" stroke-width="0.35" opacity="0.55"/>
<line x1="386.60" y1="25.50" x2="386.60" y2="231.04" stroke="#ffffff" stroke-width="0.35" opacity="0.55"/>
<line x1="459.00" y1="25.50" x2="459.00" y2="231.04" stroke="#ffffff" stroke-width="0.35" opacity="0.55"/>
<line x1="484.60" y1="25.50" x2="484.60" y2="231.04" stroke="#ffffff" stroke-width="0.35" opacity="0.55"/>
<rect x="335.60" y="234.55" width="25.45" height="4.32" fill="#f8a8a3" />
<rect x="433.50" y="234.55" width="25.55" height="4.32" fill="#f28881" />
<rect x="361.00" y="234.55" width="25.65" height="4.32" fill="#f4908a" />
<rect x="459.00" y="234.55" width="25.65" height="4.32" fill="#f8b8b4" />
<rect x="386.60" y="234.55" width="25.25" height="4.32" fill="#e83024" />
<rect x="484.60" y="234.55" width="25.65" height="4.32" fill="#f8b0ab" />
<text x="331.50" y="238.13" font-size="4.05" font-weight="normal" text-anchor="end" fill="#1a1a1a" stroke="#1a1a1a" stroke-width="0.06">IL2RB</text>
<text x="413.60" y="239.58" font-size="5.2" font-weight="normal" text-anchor="start" fill="#222"  stroke="#222" stroke-width="0.12">***</text>
<text x="514.30" y="238.38" font-size="4.9" font-weight="normal" text-anchor="start" fill="#222"  stroke="#222" stroke-width="0.08">ns</text>
<rect x="335.60" y="238.82" width="25.45" height="4.32" fill="#fbd0cd" />
<rect x="433.50" y="238.82" width="25.55" height="4.32" fill="#3a4aa8" />
<rect x="361.00" y="238.82" width="25.65" height="4.32" fill="#fde0de" />
<rect x="459.00" y="238.82" width="25.65" height="4.32" fill="#4856a8" />
<rect x="386.60" y="238.82" width="25.25" height="4.32" fill="#e8382d" />
<rect x="484.60" y="238.82" width="25.65" height="4.32" fill="#404fa8" />
<text x="331.50" y="242.40" font-size="4.05" font-weight="normal" text-anchor="end" fill="#1a1a1a" stroke="#1a1a1a" stroke-width="0.06">IL12B</text>
<text x="413.60" y="243.85" font-size="5.2" font-weight="normal" text-anchor="start" fill="#222"  stroke="#222" stroke-width="0.12">***</text>
<text x="514.30" y="242.65" font-size="4.9" font-weight="normal" text-anchor="start" fill="#222"  stroke="#222" stroke-width="0.08">ns</text>
<rect x="335.60" y="243.09" width="25.45" height="4.32" fill="#fcd8d5" />
<rect x="433.50" y="243.09" width="25.55" height="4.32" fill="#808ac5" />
<rect x="361.00" y="243.09" width="25.65" height="4.32" fill="#fde0de" />
<rect x="459.00" y="243.09" width="25.65" height="4.32" fill="#e0e2f2" />
<rect x="386.60" y="243.09" width="25.25" height="4.32" fill="#ea4035" />
<rect x="484.60" y="243.09" width="25.65" height="4.32" fill="#8891c8" />
<text x="331.50" y="246.67" font-size="4.05" font-weight="normal" text-anchor="end" fill="#1a1a1a" stroke="#1a1a1a" stroke-width="0.06">IL21</text>
<text x="413.60" y="248.12" font-size="5.2" font-weight="normal" text-anchor="start" fill="#222"  stroke="#222" stroke-width="0.12">***</text>
<text x="514.30" y="246.92" font-size="4.9" font-weight="normal" text-anchor="start" fill="#222"  stroke="#222" stroke-width="0.08">ns</text>
<rect x="335.60" y="247.35" width="25.45" height="4.32" fill="#fbd0cd" />
<rect x="433.50" y="247.35" width="25.55" height="4.32" fill="#b0b6dc" />
<rect x="361.00" y="247.35" width="25.65" height="4.32" fill="#fcd5d2" />
<rect x="459.00" y="247.35" width="25.65" height="4.32" fill="#fcebe9" />
<rect x="386.60" y="247.35" width="25.25" height="4.32" fill="#ec5046" />
<rect x="484.60" y="247.35" width="25.65" height="4.32" fill="#fce0d5" />
<text x="331.50" y="250.94" font-size="4.05" font-weight="normal" text-anchor="end" fill="#1a1a1a" stroke="#1a1a1a" stroke-width="0.06">IL9R</text>
<text x="413.60" y="252.39" font-size="5.2" font-weight="normal" text-anchor="start" fill="#222"  stroke="#222" stroke-width="0.12">***</text>
<text x="514.30" y="251.19" font-size="4.9" font-weight="normal" text-anchor="start" fill="#222"  stroke="#222" stroke-width="0.08">ns</text>
<rect x="335.60" y="251.62" width="25.45" height="4.32" fill="#ffffff" />
<rect x="433.50" y="251.62" width="25.55" height="4.32" fill="#404fa8" />
<rect x="361.00" y="251.62" width="25.65" height="4.32" fill="#fbd0cd" />
<rect x="459.00" y="251.62" width="25.65" height="4.32" fill="#4856a8" />
<rect x="386.60" y="251.62" width="25.25" height="4.32" fill="#ed554b" />
<rect x="484.60" y="251.62" width="25.65" height="4.32" fill="#4856a8" />
<text x="331.50" y="255.21" font-size="4.05" font-weight="normal" text-anchor="end" fill="#1a1a1a" stroke="#1a1a1a" stroke-width="0.06">IL26</text>
<text x="413.60" y="256.66" font-size="5.2" font-weight="normal" text-anchor="start" fill="#222"  stroke="#222" stroke-width="0.12">***</text>
<text x="514.30" y="255.46" font-size="4.9" font-weight="normal" text-anchor="start" fill="#222"  stroke="#222" stroke-width="0.08">ns</text>
<rect x="335.60" y="255.89" width="25.45" height="4.32" fill="#f59089" />
<rect x="433.50" y="255.89" width="25.55" height="4.32" fill="#f4908a" />
<rect x="361.00" y="255.89" width="25.65" height="4.32" fill="#f28079" />
<rect x="459.00" y="255.89" width="25.65" height="4.32" fill="#f8b0ab" />
<rect x="386.60" y="255.89" width="25.25" height="4.32" fill="#ef6057" />
<rect x="484.60" y="255.89" width="25.65" height="4.32" fill="#f8b0ab" />
<text x="331.50" y="259.47" font-size="4.05" font-weight="normal" text-anchor="end" fill="#1a1a1a" stroke="#1a1a1a" stroke-width="0.06">IL27</text>
<text x="413.60" y="259.72" font-size="4.9" font-weight="normal" text-anchor="start" fill="#222"  stroke="#222" stroke-width="0.08">ns</text>
<text x="514.30" y="259.72" font-size="4.9" font-weight="normal" text-anchor="start" fill="#222"  stroke="#222" stroke-width="0.08">ns</text>
<rect x="335.60" y="260.16" width="25.45" height="4.32" fill="#fde8e6" />
<rect x="433.50" y="260.16" width="25.55" height="4.32" fill="#f4908a" />
<rect x="361.00" y="260.16" width="25.65" height="4.32" fill="#fef5f4" />
<rect x="459.00" y="260.16" width="25.65" height="4.32" fill="#f07068" />
<rect x="386.60" y="260.16" width="25.25" height="4.32" fill="#f48881" />
<rect x="484.60" y="260.16" width="25.65" height="4.32" fill="#f8b0ab" />
<text x="331.50" y="263.74" font-size="4.05" font-weight="normal" text-anchor="end" fill="#1a1a1a" stroke="#1a1a1a" stroke-width="0.06">IL29</text>
<text x="413.60" y="265.19" font-size="5.2" font-weight="normal" text-anchor="start" fill="#222"  stroke="#222" stroke-width="0.12">*</text>
<text x="514.30" y="263.99" font-size="4.9" font-weight="normal" text-anchor="start" fill="#222"  stroke="#222" stroke-width="0.08">ns</text>
<rect x="335.60" y="264.43" width="25.45" height="4.32" fill="#ffffff" />
<rect x="433.50" y="264.43" width="25.55" height="4.32" fill="#fde0de" />
<rect x="361.00" y="264.43" width="25.65" height="4.32" fill="#ffffff" />
<rect x="459.00" y="264.43" width="25.65" height="4.32" fill="#8891c8" />
<rect x="386.60" y="264.43" width="25.25" height="4.32" fill="#f59089" />
<rect x="484.60" y="264.43" width="25.65" height="4.32" fill="#6874b8" />
<text x="331.50" y="268.01" font-size="4.05" font-weight="normal" text-anchor="end" fill="#1a1a1a" stroke="#1a1a1a" stroke-width="0.06">IL20RB</text>
<text x="413.60" y="269.46" font-size="5.2" font-weight="normal" text-anchor="start" fill="#222"  stroke="#222" stroke-width="0.12">***</text>
<text x="514.30" y="268.26" font-size="4.9" font-weight="normal" text-anchor="start" fill="#222"  stroke="#222" stroke-width="0.08">ns</text>
<rect x="335.60" y="268.69" width="25.45" height="4.32" fill="#fef0ef" />
<rect x="433.50" y="268.69" width="25.55" height="4.32" fill="#f49892" />
<rect x="361.00" y="268.69" width="25.65" height="4.32" fill="#fce0de" />
<rect x="459.00" y="268.69" width="25.65" height="4.32" fill="#fde8e6" />
<rect x="386.60" y="268.69" width="25.25" height="4.32" fill="#f59089" />
<rect x="484.60" y="268.69" width="25.65" height="4.32" fill="#fad0cd" />
<text x="331.50" y="272.28" font-size="4.05" font-weight="normal" text-anchor="end" fill="#1a1a1a" stroke="#1a1a1a" stroke-width="0.06">IL12RB1</text>
<text x="413.60" y="273.73" font-size="5.2" font-weight="normal" text-anchor="start" fill="#222"  stroke="#222" stroke-width="0.12">***</text>
<text x="514.30" y="272.53" font-size="4.9" font-weight="normal" text-anchor="start" fill="#222"  stroke="#222" stroke-width="0.08">ns</text>
<rect x="335.60" y="272.96" width="25.45" height="4.32" fill="#ffffff" />
<rect x="433.50" y="272.96" width="25.55" height="4.32" fill="#e0281c" />
<rect x="361.00" y="272.96" width="25.65" height="4.32" fill="#fbd0cd" />
<rect x="459.00" y="272.96" width="25.65" height="4.32" fill="#e83024" />
<rect x="386.60" y="272.96" width="25.25" height="4.32" fill="#f69892" />
<rect x="484.60" y="272.96" width="25.65" height="4.32" fill="#e0281c" />
<text x="331.50" y="276.55" font-size="4.05" font-weight="normal" text-anchor="end" fill="#1a1a1a" stroke="#1a1a1a" stroke-width="0.06">IL10</text>
<text x="413.60" y="278.00" font-size="5.2" font-weight="normal" text-anchor="start" fill="#222"  stroke="#222" stroke-width="0.12">*</text>
<text x="514.30" y="276.80" font-size="4.9" font-weight="normal" text-anchor="start" fill="#222"  stroke="#222" stroke-width="0.08">ns</text>
<rect x="335.60" y="277.23" width="25.45" height="4.32" fill="#fef5f4" />
<rect x="433.50" y="277.23" width="25.55" height="4.32" fill="#e02014" />
<rect x="361.00" y="277.23" width="25.65" height="4.32" fill="#fcd8d5" />
<rect x="459.00" y="277.23" width="25.65" height="4.32" fill="#e8382d" />
<rect x="386.60" y="277.23" width="25.25" height="4.32" fill="#f69892" />
<rect x="484.60" y="277.23" width="25.65" height="4.32" fill="#e83024" />
<text x="331.50" y="280.81" font-size="4.05" font-weight="normal" text-anchor="end" fill="#1a1a1a" stroke="#1a1a1a" stroke-width="0.06">IL24</text>
<text x="413.60" y="282.26" font-size="5.2" font-weight="normal" text-anchor="start" fill="#222"  stroke="#222" stroke-width="0.12">*</text>
<text x="514.30" y="281.06" font-size="4.9" font-weight="normal" text-anchor="start" fill="#222"  stroke="#222" stroke-width="0.08">ns</text>
<rect x="335.60" y="281.50" width="25.45" height="4.32" fill="#fef8f8" />
<rect x="433.50" y="281.50" width="25.55" height="4.32" fill="#f07068" />
<rect x="361.00" y="281.50" width="25.65" height="4.32" fill="#fcdcda" />
<rect x="459.00" y="281.50" width="25.65" height="4.32" fill="#f07068" />
<rect x="386.60" y="281.50" width="25.25" height="4.32" fill="#f69a94" />
<rect x="484.60" y="281.50" width="25.65" height="4.32" fill="#f28079" />
<text x="331.50" y="285.08" font-size="4.05" font-weight="normal" text-anchor="end" fill="#1a1a1a" stroke="#1a1a1a" stroke-width="0.06">IL7R</text>
<text x="413.60" y="286.53" font-size="5.2" font-weight="normal" text-anchor="start" fill="#222"  stroke="#222" stroke-width="0.12">***</text>
<text x="514.30" y="285.33" font-size="4.9" font-weight="normal" text-anchor="start" fill="#222"  stroke="#222" stroke-width="0.08">ns</text>
<rect x="335.60" y="285.77" width="25.45" height="4.32" fill="#fad0cd" />
<rect x="433.50" y="285.77" width="25.55" height="4.32" fill="#606cb5" />
<rect x="361.00" y="285.77" width="25.65" height="4.32" fill="#f8b8b4" />
<rect x="459.00" y="285.77" width="25.65" height="4.32" fill="#6874b8" />
<rect x="386.60" y="285.77" width="25.25" height="4.32" fill="#f7a09a" />
<rect x="484.60" y="285.77" width="25.65" height="4.32" fill="#8891c8" />
<text x="331.50" y="289.35" font-size="4.05" font-weight="normal" text-anchor="end" fill="#1a1a1a" stroke="#1a1a1a" stroke-width="0.06">IL19</text>
<text x="413.60" y="290.80" font-size="5.2" font-weight="normal" text-anchor="start" fill="#222"  stroke="#222" stroke-width="0.12">**</text>
<text x="514.30" y="289.60" font-size="4.9" font-weight="normal" text-anchor="start" fill="#222"  stroke="#222" stroke-width="0.08">ns</text>
<rect x="335.60" y="290.03" width="25.45" height="4.32" fill="#fde8e6" />
<rect x="433.50" y="290.03" width="25.55" height="4.32" fill="#f49892" />
<rect x="361.00" y="290.03" width="25.65" height="4.32" fill="#fad0cd" />
<rect x="459.00" y="290.03" width="25.65" height="4.32" fill="#f49892" />
<rect x="386.60" y="290.03" width="25.25" height="4.32" fill="#f7a09a" />
<rect x="484.60" y="290.03" width="25.65" height="4.32" fill="#fde8e6" />
<text x="331.50" y="293.62" font-size="4.05" font-weight="normal" text-anchor="end" fill="#1a1a1a" stroke="#1a1a1a" stroke-width="0.06">IL32</text>
<text x="413.60" y="295.07" font-size="5.2" font-weight="normal" text-anchor="start" fill="#222"  stroke="#222" stroke-width="0.12">**</text>
<text x="514.30" y="293.87" font-size="4.9" font-weight="normal" text-anchor="start" fill="#222"  stroke="#222" stroke-width="0.08">ns</text>
<rect x="335.60" y="294.30" width="25.45" height="4.32" fill="#ffffff" />
<rect x="433.50" y="294.30" width="25.55" height="4.32" fill="#4856a8" />
<rect x="361.00" y="294.30" width="25.65" height="4.32" fill="#fce0de" />
<rect x="459.00" y="294.30" width="25.65" height="4.32" fill="#4856a8" />
<rect x="386.60" y="294.30" width="25.25" height="4.32" fill="#f8a5a0" />
<rect x="484.60" y="294.30" width="25.65" height="4.32" fill="#505eb0" />
<text x="331.50" y="297.89" font-size="4.05" font-weight="normal" text-anchor="end" fill="#1a1a1a" stroke="#1a1a1a" stroke-width="0.06">IL2RG</text>
<text x="413.60" y="299.34" font-size="5.2" font-weight="normal" text-anchor="start" fill="#222"  stroke="#222" stroke-width="0.12">***</text>
<text x="514.30" y="298.14" font-size="4.9" font-weight="normal" text-anchor="start" fill="#222"  stroke="#222" stroke-width="0.08">ns</text>
<rect x="335.60" y="298.57" width="25.45" height="4.32" fill="#f4908a" />
<rect x="433.50" y="298.57" width="25.55" height="4.32" fill="#a0a7d5" />
<rect x="361.00" y="298.57" width="25.65" height="4.32" fill="#f59892" />
<rect x="459.00" y="298.57" width="25.65" height="4.32" fill="#e0e2f2" />
<rect x="386.60" y="298.57" width="25.25" height="4.32" fill="#f8a5a0" />
<rect x="484.60" y="298.57" width="25.65" height="4.32" fill="#f8c0bc" />
<text x="331.50" y="302.15" font-size="4.05" font-weight="normal" text-anchor="end" fill="#1a1a1a" stroke="#1a1a1a" stroke-width="0.06">IL2RA</text>
<text x="413.60" y="302.40" font-size="4.9" font-weight="normal" text-anchor="start" fill="#222"  stroke="#222" stroke-width="0.08">ns</text>
<text x="514.30" y="302.40" font-size="4.9" font-weight="normal" text-anchor="start" fill="#222"  stroke="#222" stroke-width="0.08">ns</text>
<rect x="335.60" y="302.84" width="25.45" height="4.32" fill="#fde8e6" />
<rect x="433.50" y="302.84" width="25.55" height="4.32" fill="#e02014" />
<rect x="361.00" y="302.84" width="25.65" height="4.32" fill="#fad0cd" />
<rect x="459.00" y="302.84" width="25.65" height="4.32" fill="#e0281c" />
<rect x="386.60" y="302.84" width="25.25" height="4.32" fill="#f8a8a3" />
<rect x="484.60" y="302.84" width="25.65" height="4.32" fill="#e02014" />
<text x="331.50" y="306.42" font-size="4.05" font-weight="normal" text-anchor="end" fill="#1a1a1a" stroke="#1a1a1a" stroke-width="0.06">IL13RB2</text>
<text x="413.60" y="307.87" font-size="5.2" font-weight="normal" text-anchor="start" fill="#222"  stroke="#222" stroke-width="0.12">**</text>
<text x="514.30" y="306.67" font-size="4.9" font-weight="normal" text-anchor="start" fill="#222"  stroke="#222" stroke-width="0.08">ns</text>
<rect x="335.60" y="307.11" width="25.45" height="4.32" fill="#fbd5d2" />
<rect x="433.50" y="307.11" width="25.55" height="4.32" fill="#f07068" />
<rect x="361.00" y="307.11" width="25.65" height="4.32" fill="#ffffff" />
<rect x="459.00" y="307.11" width="25.65" height="4.32" fill="#f8b0ab" />
<rect x="386.60" y="307.11" width="25.25" height="4.32" fill="#f8a8a3" />
<rect x="484.60" y="307.11" width="25.65" height="4.32" fill="#f8b0ab" />
<text x="331.50" y="310.69" font-size="4.05" font-weight="normal" text-anchor="end" fill="#1a1a1a" stroke="#1a1a1a" stroke-width="0.06">IL4</text>
<text x="413.60" y="312.14" font-size="5.2" font-weight="normal" text-anchor="start" fill="#222"  stroke="#222" stroke-width="0.12">***</text>
<text x="514.30" y="310.94" font-size="4.9" font-weight="normal" text-anchor="start" fill="#222"  stroke="#222" stroke-width="0.08">ns</text>
<rect x="335.60" y="311.37" width="25.45" height="4.32" fill="#f28079" />
<rect x="433.50" y="311.37" width="25.55" height="4.32" fill="#fde8e6" />
<rect x="361.00" y="311.37" width="25.65" height="4.32" fill="#f8b0ab" />
<rect x="459.00" y="311.37" width="25.65" height="4.32" fill="#f8b8b4" />
<rect x="386.60" y="311.37" width="25.25" height="4.32" fill="#f9b0ab" />
<rect x="484.60" y="311.37" width="25.65" height="4.32" fill="#f8b0ab" />
<text x="331.50" y="314.96" font-size="4.05" font-weight="normal" text-anchor="end" fill="#1a1a1a" stroke="#1a1a1a" stroke-width="0.06">IL22</text>
<text x="413.60" y="315.21" font-size="4.9" font-weight="normal" text-anchor="start" fill="#222"  stroke="#222" stroke-width="0.08">ns</text>
<text x="514.30" y="315.21" font-size="4.9" font-weight="normal" text-anchor="start" fill="#222"  stroke="#222" stroke-width="0.08">ns</text>
<rect x="335.60" y="315.64" width="25.45" height="4.32" fill="#fef8f8" />
<rect x="433.50" y="315.64" width="25.55" height="4.32" fill="#4856a8" />
<rect x="361.00" y="315.64" width="25.65" height="4.32" fill="#fde5e3" />
<rect x="459.00" y="315.64" width="25.65" height="4.32" fill="#505eb0" />
<rect x="386.60" y="315.64" width="25.25" height="4.32" fill="#f9b0ab" />
<rect x="484.60" y="315.64" width="25.65" height="4.32" fill="#505eb0" />
<text x="331.50" y="319.23" font-size="4.05" font-weight="normal" text-anchor="end" fill="#1a1a1a" stroke="#1a1a1a" stroke-width="0.06">IL15RA</text>
<text x="413.60" y="319.48" font-size="4.9" font-weight="normal" text-anchor="start" fill="#222"  stroke="#222" stroke-width="0.08">ns</text>
<text x="514.30" y="319.48" font-size="4.9" font-weight="normal" text-anchor="start" fill="#222"  stroke="#222" stroke-width="0.08">ns</text>
<rect x="335.60" y="319.91" width="25.45" height="4.32" fill="#ffffff" />
<rect x="433.50" y="319.91" width="25.55" height="4.32" fill="#8891c8" />
<rect x="361.00" y="319.91" width="25.65" height="4.32" fill="#fad0cd" />
<rect x="459.00" y="319.91" width="25.65" height="4.32" fill="#8891c8" />
<rect x="386.60" y="319.91" width="25.25" height="4.32" fill="#fab5b0" />
<rect x="484.60" y="319.91" width="25.65" height="4.32" fill="#fde8e6" />
<text x="331.50" y="323.49" font-size="4.05" font-weight="normal" text-anchor="end" fill="#1a1a1a" stroke="#1a1a1a" stroke-width="0.06">IL27A</text>
<text x="413.60" y="324.94" font-size="5.2" font-weight="normal" text-anchor="start" fill="#222"  stroke="#222" stroke-width="0.12">***</text>
<text x="514.30" y="323.74" font-size="4.9" font-weight="normal" text-anchor="start" fill="#222"  stroke="#222" stroke-width="0.08">ns</text>
<rect x="335.60" y="324.18" width="25.45" height="4.32" fill="#fef8f8" />
<rect x="433.50" y="324.18" width="25.55" height="4.32" fill="#404fa8" />
<rect x="361.00" y="324.18" width="25.65" height="4.32" fill="#f8b0ab" />
<rect x="459.00" y="324.18" width="25.65" height="4.32" fill="#4856a8" />
<rect x="386.60" y="324.18" width="25.25" height="4.32" fill="#f8b0ab" />
<rect x="484.60" y="324.18" width="25.65" height="4.32" fill="#4856a8" />
<text x="331.50" y="327.76" font-size="4.05" font-weight="normal" text-anchor="end" fill="#1a1a1a" stroke="#1a1a1a" stroke-width="0.06">IL20RA</text>
<text x="413.60" y="329.21" font-size="5.2" font-weight="normal" text-anchor="start" fill="#222"  stroke="#222" stroke-width="0.12">**</text>
<text x="514.30" y="328.01" font-size="4.9" font-weight="normal" text-anchor="start" fill="#222"  stroke="#222" stroke-width="0.08">ns</text>
<rect x="335.60" y="328.45" width="25.45" height="4.32" fill="#f8b0ab" />
<rect x="433.50" y="328.45" width="25.55" height="4.32" fill="#3a4aa8" />
<rect x="361.00" y="328.45" width="25.65" height="4.32" fill="#fef8f8" />
<rect x="459.00" y="328.45" width="25.65" height="4.32" fill="#3a4aa8" />
<rect x="386.60" y="328.45" width="25.25" height="4.32" fill="#f8b0ab" />
<rect x="484.60" y="328.45" width="25.65" height="4.32" fill="#404fa8" />
<text x="331.50" y="332.03" font-size="4.05" font-weight="normal" text-anchor="end" fill="#1a1a1a" stroke="#1a1a1a" stroke-width="0.06">IL3RA</text>
<text x="413.60" y="332.28" font-size="4.9" font-weight="normal" text-anchor="start" fill="#222"  stroke="#222" stroke-width="0.08">ns</text>
<text x="514.30" y="332.28" font-size="4.9" font-weight="normal" text-anchor="start" fill="#222"  stroke="#222" stroke-width="0.08">ns</text>
<rect x="335.60" y="332.71" width="25.45" height="4.32" fill="#fad0cd" />
<rect x="433.50" y="332.71" width="25.55" height="4.32" fill="#f8a8a3" />
<rect x="361.00" y="332.71" width="25.65" height="4.32" fill="#fde8e6" />
<rect x="459.00" y="332.71" width="25.65" height="4.32" fill="#f8c0bc" />
<rect x="386.60" y="332.71" width="25.25" height="4.32" fill="#fab8b4" />
<rect x="484.60" y="332.71" width="25.65" height="4.32" fill="#f8b0ab" />
<text x="331.50" y="336.30" font-size="4.05" font-weight="normal" text-anchor="end" fill="#1a1a1a" stroke="#1a1a1a" stroke-width="0.06">IL9</text>
<text x="413.60" y="336.55" font-size="4.9" font-weight="normal" text-anchor="start" fill="#222"  stroke="#222" stroke-width="0.08">ns</text>
<text x="514.30" y="336.55" font-size="4.9" font-weight="normal" text-anchor="start" fill="#222"  stroke="#222" stroke-width="0.08">ns</text>
<rect x="335.60" y="336.98" width="25.45" height="4.32" fill="#fde5e3" />
<rect x="433.50" y="336.98" width="25.55" height="4.32" fill="#f8a8a3" />
<rect x="361.00" y="336.98" width="25.65" height="4.32" fill="#fce0de" />
<rect x="459.00" y="336.98" width="25.65" height="4.32" fill="#f07068" />
<rect x="386.60" y="336.98" width="25.25" height="4.32" fill="#fbc0bc" />
<rect x="484.60" y="336.98" width="25.65" height="4.32" fill="#f8a8a3" />
<text x="331.50" y="340.57" font-size="4.05" font-weight="normal" text-anchor="end" fill="#1a1a1a" stroke="#1a1a1a" stroke-width="0.06">IL1R2</text>
<text x="413.60" y="340.82" font-size="4.9" font-weight="normal" text-anchor="start" fill="#222"  stroke="#222" stroke-width="0.08">ns</text>
<text x="514.30" y="340.82" font-size="4.9" font-weight="normal" text-anchor="start" fill="#222"  stroke="#222" stroke-width="0.08">ns</text>
<rect x="335.60" y="341.25" width="25.45" height="4.32" fill="#fde0de" />
<rect x="433.50" y="341.25" width="25.55" height="4.32" fill="#f8a8a3" />
<rect x="361.00" y="341.25" width="25.65" height="4.32" fill="#fef0ef" />
<rect x="459.00" y="341.25" width="25.65" height="4.32" fill="#f28079" />
<rect x="386.60" y="341.25" width="25.25" height="4.32" fill="#fbc8c4" />
<rect x="484.60" y="341.25" width="25.65" height="4.32" fill="#f8b0ab" />
<text x="331.50" y="344.83" font-size="4.05" font-weight="normal" text-anchor="end" fill="#1a1a1a" stroke="#1a1a1a" stroke-width="0.06">IL6</text>
<text x="413.60" y="345.08" font-size="4.9" font-weight="normal" text-anchor="start" fill="#222"  stroke="#222" stroke-width="0.08">ns</text>
<text x="514.30" y="345.08" font-size="4.9" font-weight="normal" text-anchor="start" fill="#222"  stroke="#222" stroke-width="0.08">ns</text>
<rect x="335.60" y="345.52" width="25.45" height="4.32" fill="#fcd8d5" />
<rect x="433.50" y="345.52" width="25.55" height="4.32" fill="#fcd0cd" />
<rect x="361.00" y="345.52" width="25.65" height="4.32" fill="#ffffff" />
<rect x="459.00" y="345.52" width="25.65" height="4.32" fill="#f8b8b4" />
<rect x="386.60" y="345.52" width="25.25" height="4.32" fill="#fcd0cd" />
<rect x="484.60" y="345.52" width="25.65" height="4.32" fill="#f8b8b4" />
<text x="331.50" y="349.10" font-size="4.05" font-weight="normal" text-anchor="end" fill="#1a1a1a" stroke="#1a1a1a" stroke-width="0.06">IL17RB</text>
<text x="413.60" y="349.35" font-size="4.9" font-weight="normal" text-anchor="start" fill="#222"  stroke="#222" stroke-width="0.08">ns</text>
<text x="514.30" y="349.35" font-size="4.9" font-weight="normal" text-anchor="start" fill="#222"  stroke="#222" stroke-width="0.08">ns</text>
<rect x="335.60" y="349.79" width="25.45" height="4.32" fill="#fde8e6" />
<rect x="433.50" y="349.79" width="25.55" height="4.32" fill="#f8b0ab" />
<rect x="361.00" y="349.79" width="25.65" height="4.32" fill="#fdeae8" />
<rect x="459.00" y="349.79" width="25.65" height="4.32" fill="#fde8e6" />
<rect x="386.60" y="349.79" width="25.25" height="4.32" fill="#fcd5d2" />
<rect x="484.60" y="349.79" width="25.65" height="4.32" fill="#f8b8b4" />
<text x="331.50" y="353.37" font-size="4.05" font-weight="normal" text-anchor="end" fill="#1a1a1a" stroke="#1a1a1a" stroke-width="0.06">IL28A</text>
<text x="413.60" y="354.82" font-size="5.2" font-weight="normal" text-anchor="start" fill="#222"  stroke="#222" stroke-width="0.12">*</text>
<text x="514.30" y="353.62" font-size="4.9" font-weight="normal" text-anchor="start" fill="#222"  stroke="#222" stroke-width="0.08">ns</text>
<rect x="335.60" y="354.05" width="25.45" height="4.32" fill="#f8b0ab" />
<rect x="433.50" y="354.05" width="25.55" height="4.32" fill="#fcd8d5" />
<rect x="361.00" y="354.05" width="25.65" height="4.32" fill="#fef5f4" />
<rect x="459.00" y="354.05" width="25.65" height="4.32" fill="#ffffff" />
<rect x="386.60" y="354.05" width="25.25" height="4.32" fill="#fde0de" />
<rect x="484.60" y="354.05" width="25.65" height="4.32" fill="#e0e2f2" />
<text x="331.50" y="357.64" font-size="4.05" font-weight="normal" text-anchor="end" fill="#1a1a1a" stroke="#1a1a1a" stroke-width="0.06">IL28B</text>
<text x="413.60" y="357.89" font-size="4.9" font-weight="normal" text-anchor="start" fill="#222"  stroke="#222" stroke-width="0.08">ns</text>
<text x="514.30" y="357.89" font-size="4.9" font-weight="normal" text-anchor="start" fill="#222"  stroke="#222" stroke-width="0.08">ns</text>
<rect x="335.60" y="358.32" width="25.45" height="4.32" fill="#fbd0cd" />
<rect x="433.50" y="358.32" width="25.55" height="4.32" fill="#f07068" />
<rect x="361.00" y="358.32" width="25.65" height="4.32" fill="#f5f2fa" />
<rect x="459.00" y="358.32" width="25.65" height="4.32" fill="#f8b0ab" />
<rect x="386.60" y="358.32" width="25.25" height="4.32" fill="#fde5e3" />
<rect x="484.60" y="358.32" width="25.65" height="4.32" fill="#f8b0ab" />
<text x="331.50" y="361.91" font-size="4.05" font-weight="normal" text-anchor="end" fill="#1a1a1a" stroke="#1a1a1a" stroke-width="0.06">IL2</text>
<text x="413.60" y="363.36" font-size="5.2" font-weight="normal" text-anchor="start" fill="#222"  stroke="#222" stroke-width="0.12">*</text>
<text x="514.30" y="362.16" font-size="4.9" font-weight="normal" text-anchor="start" fill="#222"  stroke="#222" stroke-width="0.08">ns</text>
<rect x="335.60" y="362.59" width="25.45" height="4.32" fill="#fad0cd" />
<rect x="433.50" y="362.59" width="25.55" height="4.32" fill="#e02014" />
<rect x="361.00" y="362.59" width="25.65" height="4.32" fill="#fde8e6" />
<rect x="459.00" y="362.59" width="25.65" height="4.32" fill="#f8a8a3" />
<rect x="386.60" y="362.59" width="25.25" height="4.32" fill="#fef0ef" />
<rect x="484.60" y="362.59" width="25.65" height="4.32" fill="#f49892" />
<text x="331.50" y="366.17" font-size="4.05" font-weight="normal" text-anchor="end" fill="#1a1a1a" stroke="#1a1a1a" stroke-width="0.06">IL25</text>
<text x="413.60" y="366.42" font-size="4.9" font-weight="normal" text-anchor="start" fill="#222"  stroke="#222" stroke-width="0.08">ns</text>
<text x="514.30" y="366.42" font-size="4.9" font-weight="normal" text-anchor="start" fill="#222"  stroke="#222" stroke-width="0.08">ns</text>
<rect x="335.60" y="366.86" width="25.45" height="4.32" fill="#b8bee0" />
<rect x="433.50" y="366.86" width="25.55" height="4.32" fill="#c0c5e2" />
<rect x="361.00" y="366.86" width="25.65" height="4.32" fill="#f0f0f8" />
<rect x="459.00" y="366.86" width="25.65" height="4.32" fill="#4856a8" />
<rect x="386.60" y="366.86" width="25.25" height="4.32" fill="#fef5f4" />
<rect x="484.60" y="366.86" width="25.65" height="4.32" fill="#4856a8" />
<text x="331.50" y="370.44" font-size="4.05" font-weight="normal" text-anchor="end" fill="#1a1a1a" stroke="#1a1a1a" stroke-width="0.06">IL1RAP</text>
<text x="413.60" y="371.89" font-size="5.2" font-weight="normal" text-anchor="start" fill="#222"  stroke="#222" stroke-width="0.12">***</text>
<text x="514.30" y="370.69" font-size="4.9" font-weight="normal" text-anchor="start" fill="#222"  stroke="#222" stroke-width="0.08">ns</text>
<rect x="335.60" y="371.13" width="25.45" height="4.32" fill="#ffffff" />
<rect x="433.50" y="371.13" width="25.55" height="4.32" fill="#f8b0ab" />
<rect x="361.00" y="371.13" width="25.65" height="4.32" fill="#fef8f8" />
<rect x="459.00" y="371.13" width="25.65" height="4.32" fill="#f8b8b4" />
<rect x="386.60" y="371.13" width="25.25" height="4.32" fill="#ffffff" />
<rect x="484.60" y="371.13" width="25.65" height="4.32" fill="#f8b0ab" />
<text x="331.50" y="374.71" font-size="4.05" font-weight="normal" text-anchor="end" fill="#1a1a1a" stroke="#1a1a1a" stroke-width="0.06">IL22RA</text>
<text x="413.60" y="374.96" font-size="4.9" font-weight="normal" text-anchor="start" fill="#222"  stroke="#222" stroke-width="0.08">ns</text>
<text x="514.30" y="374.96" font-size="4.9" font-weight="normal" text-anchor="start" fill="#222"  stroke="#222" stroke-width="0.08">ns</text>
<rect x="335.60" y="375.39" width="25.45" height="4.32" fill="#c8cce8" />
<rect x="433.50" y="375.39" width="25.55" height="4.32" fill="#e02014" />
<rect x="361.00" y="375.39" width="25.65" height="4.32" fill="#ecedf8" />
<rect x="459.00" y="375.39" width="25.65" height="4.32" fill="#e0281c" />
<rect x="386.60" y="375.39" width="25.25" height="4.32" fill="#f5f5fc" />
<rect x="484.60" y="375.39" width="25.65" height="4.32" fill="#e02014" />
<text x="331.50" y="378.98" font-size="4.05" font-weight="normal" text-anchor="end" fill="#1a1a1a" stroke="#1a1a1a" stroke-width="0.06">IL11RA</text>
<text x="413.60" y="380.43" font-size="5.2" font-weight="normal" text-anchor="start" fill="#222"  stroke="#222" stroke-width="0.12">***</text>
<text x="514.30" y="379.23" font-size="4.9" font-weight="normal" text-anchor="start" fill="#222"  stroke="#222" stroke-width="0.08">ns</text>
<rect x="335.60" y="379.66" width="25.45" height="4.32" fill="#c0c5e2" />
<rect x="433.50" y="379.66" width="25.55" height="4.32" fill="#4856a8" />
<rect x="361.00" y="379.66" width="25.65" height="4.32" fill="#ffffff" />
<rect x="459.00" y="379.66" width="25.65" height="4.32" fill="#4856a8" />
<rect x="386.60" y="379.66" width="25.25" height="4.32" fill="#f0f1fa" />
<rect x="484.60" y="379.66" width="25.65" height="4.32" fill="#6874b8" />
<text x="331.50" y="383.25" font-size="4.05" font-weight="normal" text-anchor="end" fill="#1a1a1a" stroke="#1a1a1a" stroke-width="0.06">IL17RA</text>
<text x="413.60" y="384.70" font-size="5.2" font-weight="normal" text-anchor="start" fill="#222"  stroke="#222" stroke-width="0.12">***</text>
<text x="514.30" y="383.50" font-size="4.9" font-weight="normal" text-anchor="start" fill="#222"  stroke="#222" stroke-width="0.08">ns</text>
<rect x="335.60" y="383.93" width="25.45" height="4.32" fill="#c8cce8" />
<rect x="433.50" y="383.93" width="25.55" height="4.32" fill="#f28881" />
<rect x="361.00" y="383.93" width="25.65" height="4.32" fill="#f5f5fc" />
<rect x="459.00" y="383.93" width="25.65" height="4.32" fill="#fcd0cd" />
<rect x="386.60" y="383.93" width="25.25" height="4.32" fill="#f0f1fa" />
<rect x="484.60" y="383.93" width="25.65" height="4.32" fill="#f8a8a3" />
<text x="331.50" y="387.51" font-size="4.05" font-weight="normal" text-anchor="end" fill="#1a1a1a" stroke="#1a1a1a" stroke-width="0.06">IL5RA</text>
<text x="413.60" y="388.96" font-size="5.2" font-weight="normal" text-anchor="start" fill="#222"  stroke="#222" stroke-width="0.12">***</text>
<text x="514.30" y="387.76" font-size="4.9" font-weight="normal" text-anchor="start" fill="#222"  stroke="#222" stroke-width="0.08">ns</text>
<rect x="335.60" y="388.20" width="25.45" height="4.32" fill="#c0c5e2" />
<rect x="433.50" y="388.20" width="25.55" height="4.32" fill="#f8a8a3" />
<rect x="361.00" y="388.20" width="25.65" height="4.32" fill="#ffffff" />
<rect x="459.00" y="388.20" width="25.65" height="4.32" fill="#fcd0cd" />
<rect x="386.60" y="388.20" width="25.25" height="4.32" fill="#ecedf8" />
<rect x="484.60" y="388.20" width="25.65" height="4.32" fill="#f8b0ab" />
<text x="331.50" y="391.78" font-size="4.05" font-weight="normal" text-anchor="end" fill="#1a1a1a" stroke="#1a1a1a" stroke-width="0.06">IL18</text>
<text x="413.60" y="393.23" font-size="5.2" font-weight="normal" text-anchor="start" fill="#222"  stroke="#222" stroke-width="0.12">***</text>
<text x="514.30" y="392.03" font-size="4.9" font-weight="normal" text-anchor="start" fill="#222"  stroke="#222" stroke-width="0.08">ns</text>
<rect x="335.60" y="392.47" width="25.45" height="4.32" fill="#f0f1fa" />
<rect x="433.50" y="392.47" width="25.55" height="4.32" fill="#ffffff" />
<rect x="361.00" y="392.47" width="25.65" height="4.32" fill="#d0d4ec" />
<rect x="459.00" y="392.47" width="25.65" height="4.32" fill="#fcd8d5" />
<rect x="386.60" y="392.47" width="25.25" height="4.32" fill="#e0e2f2" />
<rect x="484.60" y="392.47" width="25.65" height="4.32" fill="#8891c8" />
<text x="331.50" y="396.05" font-size="4.05" font-weight="normal" text-anchor="end" fill="#1a1a1a" stroke="#1a1a1a" stroke-width="0.06">IL1B</text>
<text x="413.60" y="396.30" font-size="4.9" font-weight="normal" text-anchor="start" fill="#222"  stroke="#222" stroke-width="0.08">ns</text>
<text x="514.30" y="396.30" font-size="4.9" font-weight="normal" text-anchor="start" fill="#222"  stroke="#222" stroke-width="0.08">ns</text>
<rect x="335.60" y="396.73" width="25.45" height="4.32" fill="#ffffff" />
<rect x="433.50" y="396.73" width="25.55" height="4.32" fill="#3a4aa8" />
<rect x="361.00" y="396.73" width="25.65" height="4.32" fill="#d0d4ec" />
<rect x="459.00" y="396.73" width="25.65" height="4.32" fill="#4856a8" />
<rect x="386.60" y="396.73" width="25.25" height="4.32" fill="#e0e2f2" />
<rect x="484.60" y="396.73" width="25.65" height="4.32" fill="#404fa8" />
<text x="331.50" y="400.32" font-size="4.05" font-weight="normal" text-anchor="end" fill="#1a1a1a" stroke="#1a1a1a" stroke-width="0.06">IL8</text>
<text x="413.60" y="401.77" font-size="5.2" font-weight="normal" text-anchor="start" fill="#222"  stroke="#222" stroke-width="0.12">**</text>
<text x="514.30" y="400.57" font-size="4.9" font-weight="normal" text-anchor="start" fill="#222"  stroke="#222" stroke-width="0.08">ns</text>
<rect x="335.60" y="401.00" width="25.45" height="4.32" fill="#7882c0" />
<rect x="433.50" y="401.00" width="25.55" height="4.32" fill="#f4908a" />
<rect x="361.00" y="401.00" width="25.65" height="4.32" fill="#c0c5e5" />
<rect x="459.00" y="401.00" width="25.65" height="4.32" fill="#f07068" />
<rect x="386.60" y="401.00" width="25.25" height="4.32" fill="#d8dbee" />
<rect x="484.60" y="401.00" width="25.65" height="4.32" fill="#f49892" />
<text x="331.50" y="404.59" font-size="4.05" font-weight="normal" text-anchor="end" fill="#1a1a1a" stroke="#1a1a1a" stroke-width="0.06">IL15</text>
<text x="413.60" y="404.84" font-size="4.9" font-weight="normal" text-anchor="start" fill="#222"  stroke="#222" stroke-width="0.08">ns</text>
<text x="514.30" y="404.84" font-size="4.9" font-weight="normal" text-anchor="start" fill="#222"  stroke="#222" stroke-width="0.08">ns</text>
<rect x="335.60" y="405.27" width="25.45" height="4.32" fill="#a0a7d5" />
<rect x="433.50" y="405.27" width="25.55" height="4.32" fill="#f8b0ab" />
<rect x="361.00" y="405.27" width="25.65" height="4.32" fill="#b0b6dc" />
<rect x="459.00" y="405.27" width="25.65" height="4.32" fill="#b0b6dc" />
<rect x="386.60" y="405.27" width="25.25" height="4.32" fill="#a8afd8" />
<rect x="484.60" y="405.27" width="25.65" height="4.32" fill="#fde8e6" />
<text x="331.50" y="408.85" font-size="4.05" font-weight="normal" text-anchor="end" fill="#1a1a1a" stroke="#1a1a1a" stroke-width="0.06">IL5</text>
<text x="413.60" y="409.10" font-size="4.9" font-weight="normal" text-anchor="start" fill="#222"  stroke="#222" stroke-width="0.08">ns</text>
<text x="514.30" y="409.10" font-size="4.9" font-weight="normal" text-anchor="start" fill="#222"  stroke="#222" stroke-width="0.08">ns</text>
<rect x="335.60" y="409.54" width="25.45" height="4.32" fill="#4856a8" />
<rect x="433.50" y="409.54" width="25.55" height="4.32" fill="#3a4aa8" />
<rect x="361.00" y="409.54" width="25.65" height="4.32" fill="#b8bee0" />
<rect x="459.00" y="409.54" width="25.65" height="4.32" fill="#3a4aa8" />
<rect x="386.60" y="409.54" width="25.25" height="4.32" fill="#a8afd8" />
<rect x="484.60" y="409.54" width="25.65" height="4.32" fill="#3a4aa8" />
<text x="331.50" y="413.12" font-size="4.05" font-weight="normal" text-anchor="end" fill="#1a1a1a" stroke="#1a1a1a" stroke-width="0.06">IL13RA1</text>
<text x="413.60" y="414.57" font-size="5.2" font-weight="normal" text-anchor="start" fill="#222"  stroke="#222" stroke-width="0.12">**</text>
<text x="514.30" y="413.37" font-size="4.9" font-weight="normal" text-anchor="start" fill="#222"  stroke="#222" stroke-width="0.08">ns</text>
<rect x="335.60" y="413.81" width="25.45" height="4.32" fill="#c0c5e2" />
<rect x="433.50" y="413.81" width="25.55" height="4.32" fill="#3a4aa8" />
<rect x="361.00" y="413.81" width="25.65" height="4.32" fill="#808ac5" />
<rect x="459.00" y="413.81" width="25.65" height="4.32" fill="#404fa8" />
<rect x="386.60" y="413.81" width="25.25" height="4.32" fill="#98a0d0" />
<rect x="484.60" y="413.81" width="25.65" height="4.32" fill="#4856a8" />
<text x="331.50" y="417.39" font-size="4.05" font-weight="normal" text-anchor="end" fill="#1a1a1a" stroke="#1a1a1a" stroke-width="0.06">IL33</text>
<text x="413.60" y="418.84" font-size="5.2" font-weight="normal" text-anchor="start" fill="#222"  stroke="#222" stroke-width="0.12">*</text>
<text x="514.30" y="417.64" font-size="4.9" font-weight="normal" text-anchor="start" fill="#222"  stroke="#222" stroke-width="0.08">ns</text>
<rect x="335.60" y="418.07" width="25.45" height="4.32" fill="#3c4ba5" />
<rect x="433.50" y="418.07" width="25.55" height="4.32" fill="#f28079" />
<rect x="361.00" y="418.07" width="25.65" height="4.32" fill="#8891c8" />
<rect x="459.00" y="418.07" width="25.65" height="4.32" fill="#fde8e6" />
<rect x="386.60" y="418.07" width="25.25" height="4.32" fill="#8891c8" />
<rect x="484.60" y="418.07" width="25.65" height="4.32" fill="#f28079" />
<text x="331.50" y="421.66" font-size="4.05" font-weight="normal" text-anchor="end" fill="#1a1a1a" stroke="#1a1a1a" stroke-width="0.06">IL20RA</text>
<text x="413.60" y="423.11" font-size="5.2" font-weight="normal" text-anchor="start" fill="#222"  stroke="#222" stroke-width="0.12">*</text>
<text x="514.30" y="421.91" font-size="4.9" font-weight="normal" text-anchor="start" fill="#222"  stroke="#222" stroke-width="0.08">ns</text>
<rect x="335.60" y="422.34" width="25.45" height="4.32" fill="#8891c8" />
<rect x="433.50" y="422.34" width="25.55" height="4.32" fill="#f28881" />
<rect x="361.00" y="422.34" width="25.65" height="4.32" fill="#c0c5e2" />
<rect x="459.00" y="422.34" width="25.65" height="4.32" fill="#f8b0ab" />
<rect x="386.60" y="422.34" width="25.25" height="4.32" fill="#505eb0" />
<rect x="484.60" y="422.34" width="25.65" height="4.32" fill="#f4908a" />
<text x="331.50" y="425.93" font-size="4.05" font-weight="normal" text-anchor="end" fill="#1a1a1a" stroke="#1a1a1a" stroke-width="0.06">IL17D</text>
<text x="413.60" y="427.38" font-size="5.2" font-weight="normal" text-anchor="start" fill="#222"  stroke="#222" stroke-width="0.12">*</text>
<text x="514.30" y="426.18" font-size="4.9" font-weight="normal" text-anchor="start" fill="#222"  stroke="#222" stroke-width="0.08">ns</text>
<rect x="335.60" y="426.61" width="25.45" height="4.32" fill="#404fa8" />
<rect x="433.50" y="426.61" width="25.55" height="4.32" fill="#404fa8" />
<rect x="361.00" y="426.61" width="25.65" height="4.32" fill="#5865b0" />
<rect x="459.00" y="426.61" width="25.65" height="4.32" fill="#505eb0" />
<rect x="386.60" y="426.61" width="25.25" height="4.32" fill="#505eb0" />
<rect x="484.60" y="426.61" width="25.65" height="4.32" fill="#4856a8" />
<text x="331.50" y="430.19" font-size="4.05" font-weight="normal" text-anchor="end" fill="#1a1a1a" stroke="#1a1a1a" stroke-width="0.06">IL1RL1</text>
<text x="413.60" y="430.44" font-size="4.9" font-weight="normal" text-anchor="start" fill="#222"  stroke="#222" stroke-width="0.08">ns</text>
<text x="514.30" y="430.44" font-size="4.9" font-weight="normal" text-anchor="start" fill="#222"  stroke="#222" stroke-width="0.08">ns</text>
<line x1="361.00" y1="234.55" x2="361.00" y2="430.88" stroke="#ffffff" stroke-width="0.35" opacity="0.55"/>
<line x1="386.60" y1="234.55" x2="386.60" y2="430.88" stroke="#ffffff" stroke-width="0.35" opacity="0.55"/>
<line x1="459.00" y1="234.55" x2="459.00" y2="430.88" stroke="#ffffff" stroke-width="0.35" opacity="0.55"/>
<line x1="484.60" y1="234.55" x2="484.60" y2="430.88" stroke="#ffffff" stroke-width="0.35" opacity="0.55"/>
<rect x="335.60" y="433.50" width="25.45" height="4.45" fill="#fce0de" />
<rect x="433.50" y="433.50" width="25.55" height="4.45" fill="#4856a8" />
<rect x="361.00" y="433.50" width="25.65" height="4.45" fill="#fce0de" />
<rect x="459.00" y="433.50" width="25.65" height="4.45" fill="#505eb0" />
<rect x="386.60" y="433.50" width="25.25" height="4.45" fill="#e8382d" />
<rect x="484.60" y="433.50" width="25.65" height="4.45" fill="#4856a8" />
<text x="331.50" y="437.15" font-size="4.05" font-weight="normal" text-anchor="end" fill="#1a1a1a" stroke="#1a1a1a" stroke-width="0.06">IFNG</text>
<text x="413.60" y="438.60" font-size="5.2" font-weight="normal" text-anchor="start" fill="#222"  stroke="#222" stroke-width="0.12">***</text>
<text x="514.30" y="437.40" font-size="4.9" font-weight="normal" text-anchor="start" fill="#222"  stroke="#222" stroke-width="0.08">ns</text>
<rect x="335.60" y="437.90" width="25.45" height="4.45" fill="#f8b8b4" />
<rect x="433.50" y="437.90" width="25.55" height="4.45" fill="#f8a09a" />
<rect x="361.00" y="437.90" width="25.65" height="4.45" fill="#ffffff" />
<rect x="459.00" y="437.90" width="25.65" height="4.45" fill="#c0c5e2" />
<rect x="386.60" y="437.90" width="25.25" height="4.45" fill="#f8b0ab" />
<rect x="484.60" y="437.90" width="25.65" height="4.45" fill="#f8a8a3" />
<text x="331.50" y="441.55" font-size="4.05" font-weight="normal" text-anchor="end" fill="#1a1a1a" stroke="#1a1a1a" stroke-width="0.06">IFNB1</text>
<text x="413.60" y="441.80" font-size="4.9" font-weight="normal" text-anchor="start" fill="#222"  stroke="#222" stroke-width="0.08">ns</text>
<text x="514.30" y="441.80" font-size="4.9" font-weight="normal" text-anchor="start" fill="#222"  stroke="#222" stroke-width="0.08">ns</text>
<rect x="335.60" y="442.30" width="25.45" height="4.45" fill="#ffffff" />
<rect x="433.50" y="442.30" width="25.55" height="4.45" fill="#f8a09a" />
<rect x="361.00" y="442.30" width="25.65" height="4.45" fill="#ffffff" />
<rect x="459.00" y="442.30" width="25.65" height="4.45" fill="#f8b0ab" />
<rect x="386.60" y="442.30" width="25.25" height="4.45" fill="#fef0ef" />
<rect x="484.60" y="442.30" width="25.65" height="4.45" fill="#f8a8a3" />
<text x="331.50" y="445.95" font-size="4.05" font-weight="normal" text-anchor="end" fill="#1a1a1a" stroke="#1a1a1a" stroke-width="0.06">IFNAR2</text>
<text x="413.60" y="447.40" font-size="5.2" font-weight="normal" text-anchor="start" fill="#222"  stroke="#222" stroke-width="0.12">***</text>
<text x="514.30" y="446.20" font-size="4.9" font-weight="normal" text-anchor="start" fill="#222"  stroke="#222" stroke-width="0.08">ns</text>
<rect x="335.60" y="446.70" width="25.45" height="4.45" fill="#ffffff" />
<rect x="433.50" y="446.70" width="25.55" height="4.45" fill="#f8a09a" />
<rect x="361.00" y="446.70" width="25.65" height="4.45" fill="#ffffff" />
<rect x="459.00" y="446.70" width="25.65" height="4.45" fill="#f8b0ab" />
<rect x="386.60" y="446.70" width="25.25" height="4.45" fill="#ffffff" />
<rect x="484.60" y="446.70" width="25.65" height="4.45" fill="#f8b0ab" />
<text x="331.50" y="450.35" font-size="4.05" font-weight="normal" text-anchor="end" fill="#1a1a1a" stroke="#1a1a1a" stroke-width="0.06">IFNGR2</text>
<text x="413.60" y="451.80" font-size="5.2" font-weight="normal" text-anchor="start" fill="#222"  stroke="#222" stroke-width="0.12">*</text>
<text x="514.30" y="450.60" font-size="4.9" font-weight="normal" text-anchor="start" fill="#222"  stroke="#222" stroke-width="0.08">ns</text>
<rect x="335.60" y="451.10" width="25.45" height="4.45" fill="#e8e9f5" />
<rect x="433.50" y="451.10" width="25.55" height="4.45" fill="#f8a09a" />
<rect x="361.00" y="451.10" width="25.65" height="4.45" fill="#e8e9f5" />
<rect x="459.00" y="451.10" width="25.65" height="4.45" fill="#e0e2f2" />
<rect x="386.60" y="451.10" width="25.25" height="4.45" fill="#e8e9f5" />
<rect x="484.60" y="451.10" width="25.65" height="4.45" fill="#fcc8c4" />
<text x="331.50" y="454.75" font-size="4.05" font-weight="normal" text-anchor="end" fill="#1a1a1a" stroke="#1a1a1a" stroke-width="0.06">IFNA4</text>
<text x="413.60" y="455.00" font-size="4.9" font-weight="normal" text-anchor="start" fill="#222"  stroke="#222" stroke-width="0.08">ns</text>
<text x="514.30" y="455.00" font-size="4.9" font-weight="normal" text-anchor="start" fill="#222"  stroke="#222" stroke-width="0.08">ns</text>
<rect x="335.60" y="455.50" width="25.45" height="4.45" fill="#e0e2f0" />
<rect x="433.50" y="455.50" width="25.55" height="4.45" fill="#f8a09a" />
<rect x="361.00" y="455.50" width="25.65" height="4.45" fill="#f5f5fc" />
<rect x="459.00" y="455.50" width="25.65" height="4.45" fill="#d8dbee" />
<rect x="386.60" y="455.50" width="25.25" height="4.45" fill="#c8cce8" />
<rect x="484.60" y="455.50" width="25.65" height="4.45" fill="#fcc8c4" />
<text x="331.50" y="459.15" font-size="4.05" font-weight="normal" text-anchor="end" fill="#1a1a1a" stroke="#1a1a1a" stroke-width="0.06">IFNA1</text>
<text x="413.60" y="459.40" font-size="4.9" font-weight="normal" text-anchor="start" fill="#222"  stroke="#222" stroke-width="0.08">ns</text>
<text x="514.30" y="459.40" font-size="4.9" font-weight="normal" text-anchor="start" fill="#222"  stroke="#222" stroke-width="0.08">ns</text>
<rect x="335.60" y="459.90" width="25.45" height="4.45" fill="#6874b8" />
<rect x="433.50" y="459.90" width="25.55" height="4.45" fill="#f8a09a" />
<rect x="361.00" y="459.90" width="25.65" height="4.45" fill="#f5f5fc" />
<rect x="459.00" y="459.90" width="25.65" height="4.45" fill="#d0d4ec" />
<rect x="386.60" y="459.90" width="25.25" height="4.45" fill="#a8afd8" />
<rect x="484.60" y="459.90" width="25.65" height="4.45" fill="#fcc8c4" />
<text x="331.50" y="463.55" font-size="4.05" font-weight="normal" text-anchor="end" fill="#1a1a1a" stroke="#1a1a1a" stroke-width="0.06">IFNE</text>
<text x="413.60" y="463.80" font-size="4.9" font-weight="normal" text-anchor="start" fill="#222"  stroke="#222" stroke-width="0.08">ns</text>
<text x="514.30" y="463.80" font-size="4.9" font-weight="normal" text-anchor="start" fill="#222"  stroke="#222" stroke-width="0.08">ns</text>
<rect x="335.60" y="464.30" width="25.45" height="4.45" fill="#e0e2f0" />
<rect x="433.50" y="464.30" width="25.55" height="4.45" fill="#f8a09a" />
<rect x="361.00" y="464.30" width="25.65" height="4.45" fill="#e0e2f0" />
<rect x="459.00" y="464.30" width="25.65" height="4.45" fill="#c0c5e2" />
<rect x="386.60" y="464.30" width="25.25" height="4.45" fill="#c0c5e2" />
<rect x="484.60" y="464.30" width="25.65" height="4.45" fill="#fcc8c4" />
<text x="331.50" y="467.95" font-size="4.05" font-weight="normal" text-anchor="end" fill="#1a1a1a" stroke="#1a1a1a" stroke-width="0.06">IFNA5</text>
<text x="413.60" y="469.40" font-size="5.2" font-weight="normal" text-anchor="start" fill="#222"  stroke="#222" stroke-width="0.12">*</text>
<text x="514.30" y="468.20" font-size="4.9" font-weight="normal" text-anchor="start" fill="#222"  stroke="#222" stroke-width="0.08">ns</text>
<line x1="361.00" y1="433.50" x2="361.00" y2="468.70" stroke="#ffffff" stroke-width="0.35" opacity="0.55"/>
<line x1="386.60" y1="433.50" x2="386.60" y2="468.70" stroke="#ffffff" stroke-width="0.35" opacity="0.55"/>
<line x1="459.00" y1="433.50" x2="459.00" y2="468.70" stroke="#ffffff" stroke-width="0.35" opacity="0.55"/>
<line x1="484.60" y1="433.50" x2="484.60" y2="468.70" stroke="#ffffff" stroke-width="0.35" opacity="0.55"/>
<rect x="335.60" y="471.30" width="25.45" height="4.35" fill="#f28079" />
<rect x="433.50" y="471.30" width="25.55" height="4.35" fill="#f07870" />
<rect x="361.00" y="471.30" width="25.65" height="4.35" fill="#f4908a" />
<rect x="459.00" y="471.30" width="25.65" height="4.35" fill="#fde0de" />
<rect x="386.60" y="471.30" width="25.25" height="4.35" fill="#e52519" />
<rect x="484.60" y="471.30" width="25.65" height="4.35" fill="#f07068" />
<text x="331.50" y="474.90" font-size="4.05" font-weight="normal" text-anchor="end" fill="#1a1a1a" stroke="#1a1a1a" stroke-width="0.06">IDO1</text>
<text x="413.60" y="476.35" font-size="5.2" font-weight="normal" text-anchor="start" fill="#222"  stroke="#222" stroke-width="0.12">**</text>
<text x="514.30" y="475.15" font-size="4.9" font-weight="normal" text-anchor="start" fill="#222"  stroke="#222" stroke-width="0.08">ns</text>
<rect x="335.60" y="475.60" width="25.45" height="4.35" fill="#f28079" />
<rect x="433.50" y="475.60" width="25.55" height="4.35" fill="#f07870" />
<rect x="361.00" y="475.60" width="25.65" height="4.35" fill="#f4908a" />
<rect x="459.00" y="475.60" width="25.65" height="4.35" fill="#f28079" />
<rect x="386.60" y="475.60" width="25.25" height="4.35" fill="#ee5046" />
<rect x="484.60" y="475.60" width="25.65" height="4.35" fill="#f8b0ab" />
<text x="331.50" y="479.20" font-size="4.05" font-weight="normal" text-anchor="end" fill="#1a1a1a" stroke="#1a1a1a" stroke-width="0.06">LTA</text>
<text x="413.60" y="480.65" font-size="5.2" font-weight="normal" text-anchor="start" fill="#222"  stroke="#222" stroke-width="0.12">*</text>
<text x="514.30" y="479.45" font-size="4.9" font-weight="normal" text-anchor="start" fill="#222"  stroke="#222" stroke-width="0.08">ns</text>
<rect x="335.60" y="479.90" width="25.45" height="4.35" fill="#ffffff" />
<rect x="433.50" y="479.90" width="25.55" height="4.35" fill="#e02014" />
<rect x="361.00" y="479.90" width="25.65" height="4.35" fill="#ffffff" />
<rect x="459.00" y="479.90" width="25.65" height="4.35" fill="#e8382d" />
<rect x="386.60" y="479.90" width="25.25" height="4.35" fill="#f8a8a3" />
<rect x="484.60" y="479.90" width="25.65" height="4.35" fill="#e02014" />
<text x="331.50" y="483.50" font-size="4.05" font-weight="normal" text-anchor="end" fill="#1a1a1a" stroke="#1a1a1a" stroke-width="0.06">FASLG</text>
<text x="413.60" y="484.95" font-size="5.2" font-weight="normal" text-anchor="start" fill="#222"  stroke="#222" stroke-width="0.12">***</text>
<text x="514.30" y="483.75" font-size="4.9" font-weight="normal" text-anchor="start" fill="#222"  stroke="#222" stroke-width="0.08">ns</text>
<rect x="335.60" y="484.20" width="25.45" height="4.35" fill="#fef0ef" />
<rect x="433.50" y="484.20" width="25.55" height="4.35" fill="#f4908a" />
<rect x="361.00" y="484.20" width="25.65" height="4.35" fill="#ffffff" />
<rect x="459.00" y="484.20" width="25.65" height="4.35" fill="#f28079" />
<rect x="386.60" y="484.20" width="25.25" height="4.35" fill="#f8a8a3" />
<rect x="484.60" y="484.20" width="25.65" height="4.35" fill="#f8b0ab" />
<text x="331.50" y="487.80" font-size="4.05" font-weight="normal" text-anchor="end" fill="#1a1a1a" stroke="#1a1a1a" stroke-width="0.06">TNF</text>
<text x="413.60" y="489.25" font-size="5.2" font-weight="normal" text-anchor="start" fill="#222"  stroke="#222" stroke-width="0.12">***</text>
<text x="514.30" y="488.05" font-size="4.9" font-weight="normal" text-anchor="start" fill="#222"  stroke="#222" stroke-width="0.08">ns</text>
<rect x="335.60" y="488.50" width="25.45" height="4.35" fill="#ffffff" />
<rect x="433.50" y="488.50" width="25.55" height="4.35" fill="#3a4aa8" />
<rect x="361.00" y="488.50" width="25.65" height="4.35" fill="#ffffff" />
<rect x="459.00" y="488.50" width="25.65" height="4.35" fill="#3a4aa8" />
<rect x="386.60" y="488.50" width="25.25" height="4.35" fill="#f8b0ab" />
<rect x="484.60" y="488.50" width="25.65" height="4.35" fill="#404fa8" />
<text x="331.50" y="492.10" font-size="4.05" font-weight="normal" text-anchor="end" fill="#1a1a1a" stroke="#1a1a1a" stroke-width="0.06">CSF2</text>
<text x="413.60" y="492.35" font-size="4.9" font-weight="normal" text-anchor="start" fill="#222"  stroke="#222" stroke-width="0.08">ns</text>
<text x="514.30" y="492.35" font-size="4.9" font-weight="normal" text-anchor="start" fill="#222"  stroke="#222" stroke-width="0.08">ns</text>
<rect x="335.60" y="492.80" width="25.45" height="4.35" fill="#fef5f4" />
<rect x="433.50" y="492.80" width="25.55" height="4.35" fill="#fde0de" />
<rect x="361.00" y="492.80" width="25.65" height="4.35" fill="#ffffff" />
<rect x="459.00" y="492.80" width="25.65" height="4.35" fill="#a8afd8" />
<rect x="386.60" y="492.80" width="25.25" height="4.35" fill="#fbc8c4" />
<rect x="484.60" y="492.80" width="25.65" height="4.35" fill="#808ac5" />
<text x="331.50" y="496.40" font-size="4.05" font-weight="normal" text-anchor="end" fill="#1a1a1a" stroke="#1a1a1a" stroke-width="0.06">CSF2RB</text>
<text x="413.60" y="497.85" font-size="5.2" font-weight="normal" text-anchor="start" fill="#222"  stroke="#222" stroke-width="0.12">***</text>
<text x="514.30" y="496.65" font-size="4.9" font-weight="normal" text-anchor="start" fill="#222"  stroke="#222" stroke-width="0.08">ns</text>
<rect x="335.60" y="497.10" width="25.45" height="4.35" fill="#f8f0f8" />
<rect x="433.50" y="497.10" width="25.55" height="4.35" fill="#404fa8" />
<rect x="361.00" y="497.10" width="25.65" height="4.35" fill="#ffffff" />
<rect x="459.00" y="497.10" width="25.65" height="4.35" fill="#404fa8" />
<rect x="386.60" y="497.10" width="25.25" height="4.35" fill="#fde8e6" />
<rect x="484.60" y="497.10" width="25.65" height="4.35" fill="#505eb0" />
<text x="331.50" y="500.70" font-size="4.05" font-weight="normal" text-anchor="end" fill="#1a1a1a" stroke="#1a1a1a" stroke-width="0.06">CSF2RA</text>
<text x="413.60" y="502.15" font-size="5.2" font-weight="normal" text-anchor="start" fill="#222"  stroke="#222" stroke-width="0.12">***</text>
<text x="514.30" y="500.95" font-size="4.9" font-weight="normal" text-anchor="start" fill="#222"  stroke="#222" stroke-width="0.08">ns</text>
<rect x="335.60" y="501.40" width="25.45" height="4.35" fill="#f8b0ab" />
<rect x="433.50" y="501.40" width="25.55" height="4.35" fill="#e8382d" />
<rect x="361.00" y="501.40" width="25.65" height="4.35" fill="#fde8e6" />
<rect x="459.00" y="501.40" width="25.65" height="4.35" fill="#f07068" />
<rect x="386.60" y="501.40" width="25.25" height="4.35" fill="#fef0ef" />
<rect x="484.60" y="501.40" width="25.65" height="4.35" fill="#e8382d" />
<text x="331.50" y="505.00" font-size="4.05" font-weight="normal" text-anchor="end" fill="#1a1a1a" stroke="#1a1a1a" stroke-width="0.06">VEGFA</text>
<text x="413.60" y="506.45" font-size="5.2" font-weight="normal" text-anchor="start" fill="#222"  stroke="#222" stroke-width="0.12">***</text>
<text x="514.30" y="505.25" font-size="4.9" font-weight="normal" text-anchor="start" fill="#222"  stroke="#222" stroke-width="0.08">ns</text>
<rect x="335.60" y="505.70" width="25.45" height="4.35" fill="#ffffff" />
<rect x="433.50" y="505.70" width="25.55" height="4.35" fill="#808ac5" />
<rect x="361.00" y="505.70" width="25.65" height="4.35" fill="#fef8f8" />
<rect x="459.00" y="505.70" width="25.65" height="4.35" fill="#98a0d0" />
<rect x="386.60" y="505.70" width="25.25" height="4.35" fill="#ffffff" />
<rect x="484.60" y="505.70" width="25.65" height="4.35" fill="#fde8e6" />
<text x="331.50" y="509.30" font-size="4.05" font-weight="normal" text-anchor="end" fill="#1a1a1a" stroke="#1a1a1a" stroke-width="0.06">TGFBR1</text>
<text x="413.60" y="509.55" font-size="4.9" font-weight="normal" text-anchor="start" fill="#222"  stroke="#222" stroke-width="0.08">ns</text>
<text x="514.30" y="509.55" font-size="4.9" font-weight="normal" text-anchor="start" fill="#222"  stroke="#222" stroke-width="0.08">ns</text>
<rect x="335.60" y="510.00" width="25.45" height="4.35" fill="#c0c5e2" />
<rect x="433.50" y="510.00" width="25.55" height="4.35" fill="#3a4aa8" />
<rect x="361.00" y="510.00" width="25.65" height="4.35" fill="#e0e2f2" />
<rect x="459.00" y="510.00" width="25.65" height="4.35" fill="#404fa8" />
<rect x="386.60" y="510.00" width="25.25" height="4.35" fill="#f5f5fc" />
<rect x="484.60" y="510.00" width="25.65" height="4.35" fill="#4856a8" />
<text x="331.50" y="513.60" font-size="4.05" font-weight="normal" text-anchor="end" fill="#1a1a1a" stroke="#1a1a1a" stroke-width="0.06">FAS</text>
<text x="413.60" y="515.05" font-size="5.2" font-weight="normal" text-anchor="start" fill="#222"  stroke="#222" stroke-width="0.12">***</text>
<text x="514.30" y="513.85" font-size="4.9" font-weight="normal" text-anchor="start" fill="#222"  stroke="#222" stroke-width="0.08">ns</text>
<rect x="335.60" y="514.30" width="25.45" height="4.35" fill="#c8cce8" />
<rect x="433.50" y="514.30" width="25.55" height="4.35" fill="#3a4aa8" />
<rect x="361.00" y="514.30" width="25.65" height="4.35" fill="#ffffff" />
<rect x="459.00" y="514.30" width="25.65" height="4.35" fill="#404fa8" />
<rect x="386.60" y="514.30" width="25.25" height="4.35" fill="#f0f1fa" />
<rect x="484.60" y="514.30" width="25.65" height="4.35" fill="#4856a8" />
<text x="331.50" y="517.90" font-size="4.05" font-weight="normal" text-anchor="end" fill="#1a1a1a" stroke="#1a1a1a" stroke-width="0.06">TGFB3</text>
<text x="413.60" y="519.35" font-size="5.2" font-weight="normal" text-anchor="start" fill="#222"  stroke="#222" stroke-width="0.12">**</text>
<text x="514.30" y="518.15" font-size="4.9" font-weight="normal" text-anchor="start" fill="#222"  stroke="#222" stroke-width="0.08">ns</text>
<rect x="335.60" y="518.60" width="25.45" height="4.35" fill="#c0c6e8" />
<rect x="433.50" y="518.60" width="25.55" height="4.35" fill="#f8b0ab" />
<rect x="361.00" y="518.60" width="25.65" height="4.35" fill="#d0d4ec" />
<rect x="459.00" y="518.60" width="25.65" height="4.35" fill="#98a0d0" />
<rect x="386.60" y="518.60" width="25.25" height="4.35" fill="#e8e9f5" />
<rect x="484.60" y="518.60" width="25.65" height="4.35" fill="#f5f0fa" />
<text x="331.50" y="522.20" font-size="4.05" font-weight="normal" text-anchor="end" fill="#1a1a1a" stroke="#1a1a1a" stroke-width="0.06">CSF1</text>
<text x="413.60" y="522.45" font-size="4.9" font-weight="normal" text-anchor="start" fill="#222"  stroke="#222" stroke-width="0.08">ns</text>
<text x="514.30" y="522.45" font-size="4.9" font-weight="normal" text-anchor="start" fill="#222"  stroke="#222" stroke-width="0.08">ns</text>
<rect x="335.60" y="522.90" width="25.45" height="4.35" fill="#c8cce8" />
<rect x="433.50" y="522.90" width="25.55" height="4.35" fill="#3a4aa8" />
<rect x="361.00" y="522.90" width="25.65" height="4.35" fill="#ffffff" />
<rect x="459.00" y="522.90" width="25.65" height="4.35" fill="#4856a8" />
<rect x="386.60" y="522.90" width="25.25" height="4.35" fill="#e8e9f5" />
<rect x="484.60" y="522.90" width="25.65" height="4.35" fill="#404fa8" />
<text x="331.50" y="526.50" font-size="4.05" font-weight="normal" text-anchor="end" fill="#1a1a1a" stroke="#1a1a1a" stroke-width="0.06">PDGFC</text>
<text x="413.60" y="527.95" font-size="5.2" font-weight="normal" text-anchor="start" fill="#222"  stroke="#222" stroke-width="0.12">***</text>
<text x="514.30" y="526.75" font-size="4.9" font-weight="normal" text-anchor="start" fill="#222"  stroke="#222" stroke-width="0.08">ns</text>
<rect x="335.60" y="527.20" width="25.45" height="4.35" fill="#a8afd8" />
<rect x="433.50" y="527.20" width="25.55" height="4.35" fill="#f07068" />
<rect x="361.00" y="527.20" width="25.65" height="4.35" fill="#e8e9f5" />
<rect x="459.00" y="527.20" width="25.65" height="4.35" fill="#f28079" />
<rect x="386.60" y="527.20" width="25.25" height="4.35" fill="#e0e2f2" />
<rect x="484.60" y="527.20" width="25.65" height="4.35" fill="#f07068" />
<text x="331.50" y="530.80" font-size="4.05" font-weight="normal" text-anchor="end" fill="#1a1a1a" stroke="#1a1a1a" stroke-width="0.06">AREG</text>
<text x="413.60" y="531.05" font-size="4.9" font-weight="normal" text-anchor="start" fill="#222"  stroke="#222" stroke-width="0.08">ns</text>
<text x="514.30" y="531.05" font-size="4.9" font-weight="normal" text-anchor="start" fill="#222"  stroke="#222" stroke-width="0.08">ns</text>
<rect x="335.60" y="531.50" width="25.45" height="4.35" fill="#b0b6dc" />
<rect x="433.50" y="531.50" width="25.55" height="4.35" fill="#3a4aa8" />
<rect x="361.00" y="531.50" width="25.65" height="4.35" fill="#f0f1fa" />
<rect x="459.00" y="531.50" width="25.65" height="4.35" fill="#404fa8" />
<rect x="386.60" y="531.50" width="25.25" height="4.35" fill="#d8dbee" />
<rect x="484.60" y="531.50" width="25.65" height="4.35" fill="#404fa8" />
<text x="331.50" y="535.10" font-size="4.05" font-weight="normal" text-anchor="end" fill="#1a1a1a" stroke="#1a1a1a" stroke-width="0.06">VEGFC</text>
<text x="413.60" y="536.55" font-size="5.2" font-weight="normal" text-anchor="start" fill="#222"  stroke="#222" stroke-width="0.12">***</text>
<text x="514.30" y="535.35" font-size="4.9" font-weight="normal" text-anchor="start" fill="#222"  stroke="#222" stroke-width="0.08">ns</text>
<rect x="335.60" y="535.80" width="25.45" height="4.35" fill="#c0c5e5" />
<rect x="433.50" y="535.80" width="25.55" height="4.35" fill="#f8b0ab" />
<rect x="361.00" y="535.80" width="25.65" height="4.35" fill="#ecedf8" />
<rect x="459.00" y="535.80" width="25.65" height="4.35" fill="#ffffff" />
<rect x="386.60" y="535.80" width="25.25" height="4.35" fill="#d0d4ec" />
<rect x="484.60" y="535.80" width="25.65" height="4.35" fill="#fcd8d5" />
<text x="331.50" y="539.40" font-size="4.05" font-weight="normal" text-anchor="end" fill="#1a1a1a" stroke="#1a1a1a" stroke-width="0.06">VEGFB</text>
<text x="413.60" y="540.85" font-size="5.2" font-weight="normal" text-anchor="start" fill="#222"  stroke="#222" stroke-width="0.12">*</text>
<text x="514.30" y="539.65" font-size="4.9" font-weight="normal" text-anchor="start" fill="#222"  stroke="#222" stroke-width="0.08">ns</text>
<rect x="335.60" y="540.10" width="25.45" height="4.35" fill="#9099cc" />
<rect x="433.50" y="540.10" width="25.55" height="4.35" fill="#3a4aa8" />
<rect x="361.00" y="540.10" width="25.65" height="4.35" fill="#e0e2f2" />
<rect x="459.00" y="540.10" width="25.65" height="4.35" fill="#404fa8" />
<rect x="386.60" y="540.10" width="25.25" height="4.35" fill="#c8cce8" />
<rect x="484.60" y="540.10" width="25.65" height="4.35" fill="#3a4aa8" />
<text x="331.50" y="543.70" font-size="4.05" font-weight="normal" text-anchor="end" fill="#1a1a1a" stroke="#1a1a1a" stroke-width="0.06">PDGFRB</text>
<text x="413.60" y="545.15" font-size="5.2" font-weight="normal" text-anchor="start" fill="#222"  stroke="#222" stroke-width="0.12">***</text>
<text x="514.30" y="543.95" font-size="4.9" font-weight="normal" text-anchor="start" fill="#222"  stroke="#222" stroke-width="0.08">ns</text>
<rect x="335.60" y="544.40" width="25.45" height="4.35" fill="#707ab8" />
<rect x="433.50" y="544.40" width="25.55" height="4.35" fill="#fcd0cd" />
<rect x="361.00" y="544.40" width="25.65" height="4.35" fill="#d8dbee" />
<rect x="459.00" y="544.40" width="25.65" height="4.35" fill="#f8b0ab" />
<rect x="386.60" y="544.40" width="25.25" height="4.35" fill="#c0c5e2" />
<rect x="484.60" y="544.40" width="25.65" height="4.35" fill="#808ac5" />
<text x="331.50" y="548.00" font-size="4.05" font-weight="normal" text-anchor="end" fill="#1a1a1a" stroke="#1a1a1a" stroke-width="0.06">TGFBR2</text>
<text x="413.60" y="549.45" font-size="5.2" font-weight="normal" text-anchor="start" fill="#222"  stroke="#222" stroke-width="0.12">***</text>
<text x="514.30" y="548.25" font-size="4.9" font-weight="normal" text-anchor="start" fill="#222"  stroke="#222" stroke-width="0.08">ns</text>
<rect x="335.60" y="548.70" width="25.45" height="4.35" fill="#a0a7d5" />
<rect x="433.50" y="548.70" width="25.55" height="4.35" fill="#f8a8a3" />
<rect x="361.00" y="548.70" width="25.65" height="4.35" fill="#e0e2f2" />
<rect x="459.00" y="548.70" width="25.65" height="4.35" fill="#f8a8a3" />
<rect x="386.60" y="548.70" width="25.25" height="4.35" fill="#b8bee0" />
<rect x="484.60" y="548.70" width="25.65" height="4.35" fill="#f8b8b4" />
<text x="331.50" y="552.30" font-size="4.05" font-weight="normal" text-anchor="end" fill="#1a1a1a" stroke="#1a1a1a" stroke-width="0.06">PDGFRA</text>
<text x="413.60" y="553.75" font-size="5.2" font-weight="normal" text-anchor="start" fill="#222"  stroke="#222" stroke-width="0.12">*</text>
<text x="514.30" y="552.55" font-size="4.9" font-weight="normal" text-anchor="start" fill="#222"  stroke="#222" stroke-width="0.08">ns</text>
<rect x="335.60" y="553.00" width="25.45" height="4.35" fill="#b8bee0" />
<rect x="433.50" y="553.00" width="25.55" height="4.35" fill="#ffffff" />
<rect x="361.00" y="553.00" width="25.65" height="4.35" fill="#e8e9f5" />
<rect x="459.00" y="553.00" width="25.65" height="4.35" fill="#9099cc" />
<rect x="386.60" y="553.00" width="25.25" height="4.35" fill="#b0b6dc" />
<rect x="484.60" y="553.00" width="25.65" height="4.35" fill="#d0d4ec" />
<text x="331.50" y="556.60" font-size="4.05" font-weight="normal" text-anchor="end" fill="#1a1a1a" stroke="#1a1a1a" stroke-width="0.06">EPOR</text>
<text x="413.60" y="556.85" font-size="4.9" font-weight="normal" text-anchor="start" fill="#222"  stroke="#222" stroke-width="0.08">ns</text>
<text x="514.30" y="556.85" font-size="4.9" font-weight="normal" text-anchor="start" fill="#222"  stroke="#222" stroke-width="0.08">ns</text>
<rect x="335.60" y="557.30" width="25.45" height="4.35" fill="#b0b6dc" />
<rect x="433.50" y="557.30" width="25.55" height="4.35" fill="#f07870" />
<rect x="361.00" y="557.30" width="25.65" height="4.35" fill="#e0e2f2" />
<rect x="459.00" y="557.30" width="25.65" height="4.35" fill="#f07068" />
<rect x="386.60" y="557.30" width="25.25" height="4.35" fill="#a0a7d5" />
<rect x="484.60" y="557.30" width="25.65" height="4.35" fill="#f07068" />
<text x="331.50" y="560.90" font-size="4.05" font-weight="normal" text-anchor="end" fill="#1a1a1a" stroke="#1a1a1a" stroke-width="0.06">PDGFA</text>
<text x="413.60" y="561.15" font-size="4.9" font-weight="normal" text-anchor="start" fill="#222"  stroke="#222" stroke-width="0.08">ns</text>
<text x="514.30" y="561.15" font-size="4.9" font-weight="normal" text-anchor="start" fill="#222"  stroke="#222" stroke-width="0.08">ns</text>
<rect x="335.60" y="561.60" width="25.45" height="4.35" fill="#a0a7d5" />
<rect x="433.50" y="561.60" width="25.55" height="4.35" fill="#fcd0cd" />
<rect x="361.00" y="561.60" width="25.65" height="4.35" fill="#ecedf8" />
<rect x="459.00" y="561.60" width="25.65" height="4.35" fill="#f28079" />
<rect x="386.60" y="561.60" width="25.25" height="4.35" fill="#7882c0" />
<rect x="484.60" y="561.60" width="25.65" height="4.35" fill="#f07068" />
<text x="331.50" y="565.20" font-size="4.05" font-weight="normal" text-anchor="end" fill="#1a1a1a" stroke="#1a1a1a" stroke-width="0.06">CSF3</text>
<text x="413.60" y="565.45" font-size="4.9" font-weight="normal" text-anchor="start" fill="#222"  stroke="#222" stroke-width="0.08">ns</text>
<text x="514.30" y="565.45" font-size="4.9" font-weight="normal" text-anchor="start" fill="#222"  stroke="#222" stroke-width="0.08">ns</text>
<rect x="335.60" y="565.90" width="25.45" height="4.35" fill="#b8bee0" />
<rect x="433.50" y="565.90" width="25.55" height="4.35" fill="#e8382d" />
<rect x="361.00" y="565.90" width="25.65" height="4.35" fill="#e0e2f2" />
<rect x="459.00" y="565.90" width="25.65" height="4.35" fill="#e02014" />
<rect x="386.60" y="565.90" width="25.25" height="4.35" fill="#808ac5" />
<rect x="484.60" y="565.90" width="25.65" height="4.35" fill="#f07068" />
<text x="331.50" y="569.50" font-size="4.05" font-weight="normal" text-anchor="end" fill="#1a1a1a" stroke="#1a1a1a" stroke-width="0.06">EGFR</text>
<text x="413.60" y="570.95" font-size="5.2" font-weight="normal" text-anchor="start" fill="#222"  stroke="#222" stroke-width="0.12">*</text>
<text x="514.30" y="569.75" font-size="4.9" font-weight="normal" text-anchor="start" fill="#222"  stroke="#222" stroke-width="0.08">ns</text>
<rect x="335.60" y="570.20" width="25.45" height="4.35" fill="#505eb0" />
<rect x="433.50" y="570.20" width="25.55" height="4.35" fill="#a0a7d5" />
<rect x="361.00" y="570.20" width="25.65" height="4.35" fill="#c8cce8" />
<rect x="459.00" y="570.20" width="25.65" height="4.35" fill="#c0c5e2" />
<rect x="386.60" y="570.20" width="25.25" height="4.35" fill="#707ab8" />
<rect x="484.60" y="570.20" width="25.65" height="4.35" fill="#d8dbee" />
<text x="331.50" y="573.80" font-size="4.05" font-weight="normal" text-anchor="end" fill="#1a1a1a" stroke="#1a1a1a" stroke-width="0.06">PDGFD</text>
<text x="413.60" y="575.25" font-size="5.2" font-weight="normal" text-anchor="start" fill="#222"  stroke="#222" stroke-width="0.12">**</text>
<text x="514.30" y="574.05" font-size="4.9" font-weight="normal" text-anchor="start" fill="#222"  stroke="#222" stroke-width="0.08">ns</text>
<rect x="335.60" y="574.50" width="25.45" height="4.35" fill="#a0a7d5" />
<rect x="433.50" y="574.50" width="25.55" height="4.35" fill="#4856a8" />
<rect x="361.00" y="574.50" width="25.65" height="4.35" fill="#e8e9f5" />
<rect x="459.00" y="574.50" width="25.65" height="4.35" fill="#5865b0" />
<rect x="386.60" y="574.50" width="25.25" height="4.35" fill="#707ab8" />
<rect x="484.60" y="574.50" width="25.65" height="4.35" fill="#4856a8" />
<text x="331.50" y="578.10" font-size="4.05" font-weight="normal" text-anchor="end" fill="#1a1a1a" stroke="#1a1a1a" stroke-width="0.06">EGF</text>
<text x="413.60" y="578.35" font-size="4.9" font-weight="normal" text-anchor="start" fill="#222"  stroke="#222" stroke-width="0.08">ns</text>
<text x="514.30" y="578.35" font-size="4.9" font-weight="normal" text-anchor="start" fill="#222"  stroke="#222" stroke-width="0.08">ns</text>
<rect x="335.60" y="578.80" width="25.45" height="4.35" fill="#3847a0" />
<rect x="433.50" y="578.80" width="25.55" height="4.35" fill="#f07068" />
<rect x="361.00" y="578.80" width="25.65" height="4.35" fill="#c0c5e2" />
<rect x="459.00" y="578.80" width="25.65" height="4.35" fill="#f28079" />
<rect x="386.60" y="578.80" width="25.25" height="4.35" fill="#606cb0" />
<rect x="484.60" y="578.80" width="25.65" height="4.35" fill="#f07870" />
<text x="331.50" y="582.40" font-size="4.05" font-weight="normal" text-anchor="end" fill="#1a1a1a" stroke="#1a1a1a" stroke-width="0.06">EPO</text>
<text x="413.60" y="583.85" font-size="5.2" font-weight="normal" text-anchor="start" fill="#222"  stroke="#222" stroke-width="0.12">***</text>
<text x="514.30" y="582.65" font-size="4.9" font-weight="normal" text-anchor="start" fill="#222"  stroke="#222" stroke-width="0.08">ns</text>
<rect x="335.60" y="583.10" width="25.45" height="4.35" fill="#5865b0" />
<rect x="433.50" y="583.10" width="25.55" height="4.35" fill="#f4908a" />
<rect x="361.00" y="583.10" width="25.65" height="4.35" fill="#8891c8" />
<rect x="459.00" y="583.10" width="25.65" height="4.35" fill="#f4908a" />
<rect x="386.60" y="583.10" width="25.25" height="4.35" fill="#505eb0" />
<rect x="484.60" y="583.10" width="25.65" height="4.35" fill="#f4908a" />
<text x="331.50" y="586.70" font-size="4.05" font-weight="normal" text-anchor="end" fill="#1a1a1a" stroke="#1a1a1a" stroke-width="0.06">TGFBR3</text>
<text x="413.60" y="586.95" font-size="4.9" font-weight="normal" text-anchor="start" fill="#222"  stroke="#222" stroke-width="0.08">ns</text>
<text x="514.30" y="586.95" font-size="4.9" font-weight="normal" text-anchor="start" fill="#222"  stroke="#222" stroke-width="0.08">ns</text>
<line x1="361.00" y1="471.30" x2="361.00" y2="587.40" stroke="#ffffff" stroke-width="0.35" opacity="0.55"/>
<line x1="386.60" y1="471.30" x2="386.60" y2="587.40" stroke="#ffffff" stroke-width="0.35" opacity="0.55"/>
<line x1="459.00" y1="471.30" x2="459.00" y2="587.40" stroke="#ffffff" stroke-width="0.35" opacity="0.55"/>
<line x1="484.60" y1="471.30" x2="484.60" y2="587.40" stroke="#ffffff" stroke-width="0.35" opacity="0.55"/>
<text x="426.20" y="9.00" font-size="6.2" font-weight="bold" text-anchor="middle" fill="#111"  stroke="#111" stroke-width="0.12">Microenvironment clusters</text>
<text x="349.20" y="17.20" font-size="5.2" font-weight="bold" text-anchor="middle" fill="#222"  stroke="#222" stroke-width="0.12">Cluster</text>
<text x="373.20" y="17.20" font-size="5.2" font-weight="bold" text-anchor="middle" fill="#222"  stroke="#222" stroke-width="0.12">Cluster</text>
<text x="398.20" y="17.20" font-size="5.2" font-weight="bold" text-anchor="middle" fill="#222"  stroke="#222" stroke-width="0.12">Cluster</text>
<text x="446.20" y="17.20" font-size="5.2" font-weight="bold" text-anchor="middle" fill="#222"  stroke="#222" stroke-width="0.12">Cluster</text>
<text x="471.80" y="17.20" font-size="5.2" font-weight="bold" text-anchor="middle" fill="#222"  stroke="#222" stroke-width="0.12">Cluster</text>
<text x="497.80" y="17.20" font-size="5.2" font-weight="bold" text-anchor="middle" fill="#222"  stroke="#222" stroke-width="0.12">Cluster</text>
<text x="349.20" y="22.60" font-size="5.2" font-weight="bold" text-anchor="middle" fill="#222"  stroke="#222" stroke-width="0.12">1</text>
<text x="373.20" y="22.60" font-size="5.2" font-weight="bold" text-anchor="middle" fill="#222"  stroke="#222" stroke-width="0.12">2</text>
<text x="398.20" y="22.60" font-size="5.2" font-weight="bold" text-anchor="middle" fill="#222"  stroke="#222" stroke-width="0.12">3</text>
<text x="446.20" y="22.60" font-size="5.2" font-weight="bold" text-anchor="middle" fill="#222"  stroke="#222" stroke-width="0.12">1</text>
<text x="471.80" y="22.60" font-size="5.2" font-weight="bold" text-anchor="middle" fill="#222"  stroke="#222" stroke-width="0.12">2</text>
<text x="497.80" y="22.60" font-size="5.2" font-weight="bold" text-anchor="middle" fill="#222"  stroke="#222" stroke-width="0.12">3</text>
<line x1="305.30" y1="25.50" x2="305.30" y2="231.00" stroke="#777" stroke-width="0.8" />
<line x1="305.30" y1="234.60" x2="305.30" y2="430.90" stroke="#777" stroke-width="0.8" />
<line x1="305.30" y1="435.50" x2="305.30" y2="466.50" stroke="#777" stroke-width="0.8" />
<line x1="305.30" y1="480.00" x2="305.30" y2="584.50" stroke="#777" stroke-width="0.8" />
<text transform="translate(302.4,125.1) rotate(-90)" font-size="6.6" text-anchor="middle" fill="#111" stroke="#111" stroke-width="0.15">Chemokines and receptors</text>
<text transform="translate(302.3,328.8) rotate(-90)" font-size="6.8" text-anchor="middle" fill="#111" stroke="#111" stroke-width="0.15">Interleukins and receptors</text>
<text transform="translate(295.5,449) rotate(-90)" font-size="6.7" text-anchor="middle" fill="#111" stroke="#111" stroke-width="0.15">Interferons and</text>
<text transform="translate(302.6,448.7) rotate(-90)" font-size="6.7" text-anchor="middle" fill="#111" stroke="#111" stroke-width="0.15">receptors</text>
<text transform="translate(302.4,533.3) rotate(-90)" font-size="6.7" text-anchor="middle" fill="#111" stroke="#111" stroke-width="0.15">Other cytokines</text>
<text x="346.00" y="595.80" font-size="7.0" font-weight="bold" text-anchor="start" fill="#111" textLength="54.2" lengthAdjust="spacingAndGlyphs" stroke="#111" stroke-width="0.12">mRNA expression</text>
<text x="336.0" y="602.5" font-size="5.6" fill="#111" textLength="75.3" lengthAdjust="spacingAndGlyphs">Log<tspan font-size="3.8" dy="1.2">2</tspan><tspan dy="-1.2"> (fold change) relative to the</tspan></text>
<text x="350.40" y="608.00" font-size="5.6" font-weight="normal" text-anchor="start" fill="#111" textLength="46.2" lengthAdjust="spacingAndGlyphs" stroke="#111" stroke-width="0.12">paired normal tissue</text>
<defs><linearGradient id="g1" x1="0" x2="1" y1="0" y2="0"><stop offset="0" stop-color="#2d3c9e"/><stop offset="0.25" stop-color="#7a84c8"/><stop offset="0.5" stop-color="#ffffff"/><stop offset="0.75" stop-color="#f28478"/><stop offset="1" stop-color="#d0101c"/></linearGradient><linearGradient id="g2" x1="0" x2="1" y1="0" y2="0"><stop offset="0" stop-color="#2d3c9e"/><stop offset="0.25" stop-color="#ffffff"/><stop offset="0.6" stop-color="#f28478"/><stop offset="1" stop-color="#cc1018"/></linearGradient></defs>
<rect x="339.50" y="609.20" width="68.40" height="3.90" fill="url(#g1)" />
<rect x="437.30" y="608.90" width="71.90" height="3.90" fill="url(#g2)" />
<text x="346.40" y="618.00" font-size="5.0" font-weight="normal" text-anchor="middle" fill="#333"  stroke="#333" stroke-width="0.12">-4</text>
<text x="359.80" y="618.00" font-size="5.0" font-weight="normal" text-anchor="middle" fill="#333"  stroke="#333" stroke-width="0.12">-2</text>
<text x="373.60" y="618.00" font-size="5.0" font-weight="normal" text-anchor="middle" fill="#333"  stroke="#333" stroke-width="0.12">0</text>
<text x="387.10" y="618.00" font-size="5.0" font-weight="normal" text-anchor="middle" fill="#333"  stroke="#333" stroke-width="0.12">2</text>
<text x="400.90" y="618.00" font-size="5.0" font-weight="normal" text-anchor="middle" fill="#333"  stroke="#333" stroke-width="0.12">4</text>
<text x="448.20" y="595.80" font-size="7.0" font-weight="bold" text-anchor="start" fill="#111" textLength="57.9" lengthAdjust="spacingAndGlyphs" stroke="#111" stroke-width="0.12">Copy number value</text>
<text x="443.5" y="605.1" font-size="5.6" fill="#111" textLength="63.5" lengthAdjust="spacingAndGlyphs">Log<tspan font-size="3.8" dy="1.2">2</tspan><tspan dy="-1.2"> (ratio) of copy number</tspan></text>
<text x="440.70" y="618.20" font-size="5.0" font-weight="normal" text-anchor="middle" fill="#333"  stroke="#333" stroke-width="0.12">-0.5</text>
<text x="456.80" y="618.20" font-size="5.0" font-weight="normal" text-anchor="middle" fill="#333"  stroke="#333" stroke-width="0.12">0</text>
<text x="471.50" y="618.20" font-size="5.0" font-weight="normal" text-anchor="middle" fill="#333"  stroke="#333" stroke-width="0.12">0.5</text>
<text x="488.00" y="618.20" font-size="5.0" font-weight="normal" text-anchor="middle" fill="#333"  stroke="#333" stroke-width="0.12">1</text>
<text x="501.80" y="618.20" font-size="5.0" font-weight="normal" text-anchor="middle" fill="#333"  stroke="#333" stroke-width="0.12">1.5</text>
</svg>
</body></html>
